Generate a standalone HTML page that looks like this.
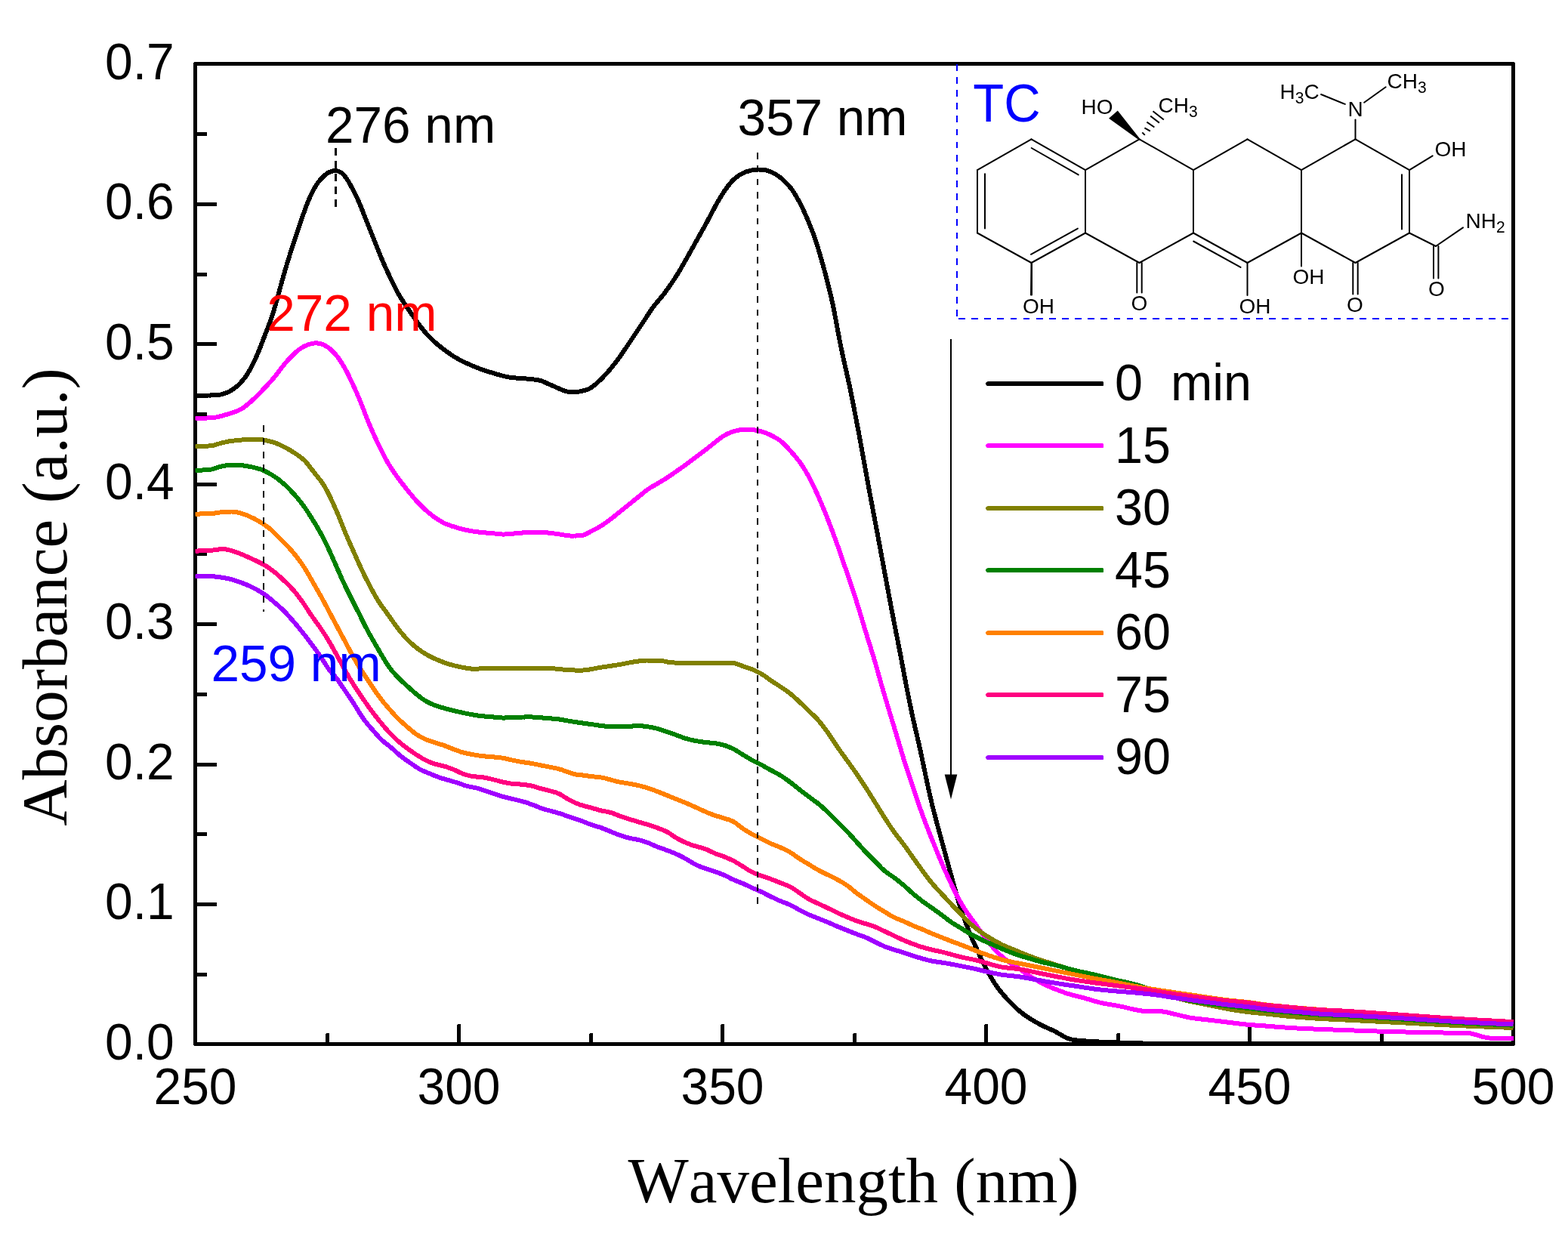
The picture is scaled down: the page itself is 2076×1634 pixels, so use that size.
<!DOCTYPE html>
<html lang="en"><head><meta charset="utf-8"><title>UV-vis absorbance spectra of TC</title>
<style>html,body{margin:0;padding:0;background:#fff}body{width:2076px;height:1634px;overflow:hidden}svg{display:block}text{font-family:'Liberation Sans', Arial, Helvetica, sans-serif;font-kerning:none}.serif{font-family:'Liberation Serif', 'Times New Roman', Times, serif}.t66{font-size:67px}.lab{font-size:28px}.sub{font-size:21px}</style>
</head><body>
<svg width="2076" height="1634" viewBox="0 0 2076 1634" role="img" aria-label="UV-vis absorbance spectra of TC degradation">
<rect x="0" y="0" width="2076" height="1634" fill="#ffffff"/>
<g id="axes" fill="#000" shape-rendering="crispEdges">
<rect x="258.5" y="84.5" width="1745" height="1298" fill="none" stroke="#000" stroke-width="5" stroke-linejoin="round"/>
<polygon points="258.5,1288 273,1288 274,1289 274,1292 273,1293 258.5,1293"/>
<polygon points="258.5,1195 286,1195 287,1196 287,1199 286,1200 258.5,1200"/>
<polygon points="258.5,1102 273,1102 274,1103 274,1106 273,1107 258.5,1107"/>
<polygon points="258.5,1010 286,1010 287,1011 287,1014 286,1015 258.5,1015"/>
<polygon points="258.5,917 273,917 274,918 274,921 273,922 258.5,922"/>
<polygon points="258.5,824 286,824 287,825 287,828 286,829 258.5,829"/>
<polygon points="258.5,731 273,731 274,732 274,735 273,736 258.5,736"/>
<polygon points="258.5,639 286,639 287,640 287,643 286,644 258.5,644"/>
<polygon points="258.5,546 273,546 274,547 274,550 273,551 258.5,551"/>
<polygon points="258.5,453 286,453 287,454 287,457 286,458 258.5,458"/>
<polygon points="258.5,361 273,361 274,362 274,365 273,366 258.5,366"/>
<polygon points="258.5,268 286,268 287,269 287,272 286,273 258.5,273"/>
<polygon points="258.5,175 273,175 274,176 274,179 273,180 258.5,180"/>
<polygon points="431,1382.5 431,1369 432,1368 435,1368 436,1369 436,1382.5"/>
<polygon points="605,1382.5 605,1357 606,1356 609,1356 610,1357 610,1382.5"/>
<polygon points="780,1382.5 780,1369 781,1368 784,1368 785,1369 785,1382.5"/>
<polygon points="954,1382.5 954,1357 955,1356 958,1356 959,1357 959,1382.5"/>
<polygon points="1129,1382.5 1129,1369 1130,1368 1133,1368 1134,1369 1134,1382.5"/>
<polygon points="1303,1382.5 1303,1357 1304,1356 1307,1356 1308,1357 1308,1382.5"/>
<polygon points="1478,1382.5 1478,1369 1479,1368 1482,1368 1483,1369 1483,1382.5"/>
<polygon points="1652,1382.5 1652,1357 1653,1356 1656,1356 1657,1357 1657,1382.5"/>
<polygon points="1827,1382.5 1827,1369 1828,1368 1831,1368 1832,1369 1832,1382.5"/>
</g>
<g id="ticklabels" class="t66" fill="#000">
<text transform="translate(230.70 1402.70) scale(1 1.045)" font-size="66" fill="#000" text-anchor="end">0.0</text>
<text transform="translate(230.70 1217.27) scale(1 1.045)" font-size="66" fill="#000" text-anchor="end">0.1</text>
<text transform="translate(230.70 1031.84) scale(1 1.045)" font-size="66" fill="#000" text-anchor="end">0.2</text>
<text transform="translate(230.70 846.41) scale(1 1.045)" font-size="66" fill="#000" text-anchor="end">0.3</text>
<text transform="translate(230.70 660.99) scale(1 1.045)" font-size="66" fill="#000" text-anchor="end">0.4</text>
<text transform="translate(230.70 475.56) scale(1 1.045)" font-size="66" fill="#000" text-anchor="end">0.5</text>
<text transform="translate(230.70 290.13) scale(1 1.045)" font-size="66" fill="#000" text-anchor="end">0.6</text>
<text transform="translate(230.70 104.70) scale(1 1.045)" font-size="66" fill="#000" text-anchor="end">0.7</text>
<text transform="translate(258.50 1462.00) scale(1 1.035)" font-size="66" fill="#000" text-anchor="middle">250</text>
<text transform="translate(607.50 1462.00) scale(1 1.035)" font-size="66" fill="#000" text-anchor="middle">300</text>
<text transform="translate(956.50 1462.00) scale(1 1.035)" font-size="66" fill="#000" text-anchor="middle">350</text>
<text transform="translate(1305.50 1462.00) scale(1 1.035)" font-size="66" fill="#000" text-anchor="middle">400</text>
<text transform="translate(1654.50 1462.00) scale(1 1.035)" font-size="66" fill="#000" text-anchor="middle">450</text>
<text transform="translate(2003.50 1462.00) scale(1 1.035)" font-size="66" fill="#000" text-anchor="middle">500</text>
</g>
<text class="serif" x="1130" y="1592" text-anchor="middle" font-size="85" fill="#000">Wavelength (nm)</text>
<text class="serif" transform="translate(88 790.5) rotate(-90)" text-anchor="middle" font-size="85" fill="#000">Absorbance (a.u.)</text>
<g id="curves" fill="none" stroke-linejoin="round" stroke-linecap="butt">
<path stroke="#000000" stroke-width="4.6" d="M258.5 523.7 L260.5 523.7 L262.5 523.7 L264.5 523.7 L266.5 523.7 L268.5 523.6 L270.5 523.6 L272.5 523.6 L274.5 523.6 L276.5 523.5 L278.5 523.5 L280.5 523.4 L282.5 523.4 L284.5 523.3 L286.5 523.2 L288.5 523.1 L290.5 522.8 L292.5 522.4 L294.5 521.9 L296.5 521.3 L298.5 520.6 L300.5 519.8 L302.5 519.0 L304.5 517.9 L306.5 516.8 L308.5 515.5 L310.5 514.0 L312.5 512.5 L314.5 510.8 L316.5 508.9 L318.5 506.9 L320.5 504.6 L322.5 502.2 L324.5 499.6 L326.5 496.7 L328.5 493.6 L330.5 490.2 L332.5 486.6 L334.5 482.7 L336.5 478.6 L338.5 474.4 L340.5 469.8 L342.5 465.0 L344.5 460.0 L346.5 454.9 L348.5 449.7 L350.5 444.5 L352.5 439.4 L354.5 434.2 L356.5 429.0 L358.5 423.6 L360.5 417.8 L362.5 411.4 L364.5 404.6 L366.5 397.3 L368.5 390.0 L370.5 382.7 L372.5 375.4 L374.5 368.2 L376.5 361.2 L378.5 354.4 L380.5 347.7 L382.5 341.2 L384.5 334.9 L386.5 328.7 L388.5 322.6 L390.5 316.6 L392.5 310.6 L394.5 304.5 L396.5 298.5 L398.5 292.7 L400.5 286.8 L402.5 281.1 L404.5 275.4 L406.5 270.1 L408.5 265.2 L410.5 260.6 L412.5 256.3 L414.5 252.3 L416.5 248.7 L418.5 245.5 L420.5 242.5 L422.5 239.9 L424.5 237.4 L426.5 235.3 L428.5 233.3 L430.5 231.6 L432.5 230.0 L434.5 228.7 L436.5 227.7 L438.5 227.0 L440.5 226.5 L442.5 226.2 L444.5 226.2 L446.5 226.4 L448.5 226.9 L450.5 227.8 L452.5 229.1 L454.5 231.0 L456.5 233.3 L458.5 236.0 L460.5 239.0 L462.5 242.3 L464.5 246.0 L466.5 249.7 L468.5 253.4 L470.5 257.4 L472.5 261.5 L474.5 265.8 L476.5 270.5 L478.5 275.4 L480.5 280.5 L482.5 285.7 L484.5 290.8 L486.5 295.8 L488.5 300.7 L490.5 305.7 L492.5 310.7 L494.5 315.7 L496.5 320.7 L498.5 325.8 L500.5 330.9 L502.5 335.8 L504.5 340.7 L506.5 345.3 L508.5 349.9 L510.5 354.4 L512.5 358.7 L514.5 363.0 L516.5 367.3 L518.5 371.5 L520.5 375.6 L522.5 379.7 L524.5 383.6 L526.5 387.4 L528.5 390.9 L530.5 394.3 L532.5 397.4 L534.5 400.4 L536.5 403.4 L538.5 406.3 L540.5 409.3 L542.5 412.2 L544.5 415.2 L546.5 418.1 L548.5 420.9 L550.5 423.7 L552.5 426.5 L554.5 429.2 L556.5 431.9 L558.5 434.5 L560.5 437.0 L562.5 439.5 L564.5 441.8 L566.5 443.9 L568.5 446.1 L570.5 448.1 L572.5 450.0 L574.5 451.9 L576.5 453.7 L578.5 455.5 L580.5 457.1 L582.5 458.7 L584.5 460.3 L586.5 461.8 L588.5 463.3 L590.5 464.8 L592.5 466.3 L594.5 467.7 L596.5 469.1 L598.5 470.5 L600.5 471.8 L602.5 473.0 L604.5 474.1 L606.5 475.3 L608.5 476.4 L610.5 477.4 L612.5 478.4 L614.5 479.4 L616.5 480.4 L618.5 481.3 L620.5 482.2 L622.5 483.1 L624.5 484.0 L626.5 484.8 L628.5 485.6 L630.5 486.4 L632.5 487.2 L634.5 488.0 L636.5 488.7 L638.5 489.4 L640.5 490.1 L642.5 490.8 L644.5 491.4 L646.5 492.1 L648.5 492.7 L650.5 493.3 L652.5 493.9 L654.5 494.5 L656.5 495.1 L658.5 495.7 L660.5 496.3 L662.5 496.8 L664.5 497.4 L666.5 497.9 L668.5 498.4 L670.5 498.8 L672.5 499.2 L674.5 499.6 L676.5 499.9 L678.5 500.1 L680.5 500.3 L682.5 500.5 L684.5 500.6 L686.5 500.8 L688.5 500.9 L690.5 501.0 L692.5 501.2 L694.5 501.3 L696.5 501.5 L698.5 501.6 L700.5 501.8 L702.5 502.0 L704.5 502.2 L706.5 502.4 L708.5 502.7 L710.5 503.0 L712.5 503.3 L714.5 503.7 L716.5 504.3 L718.5 505.0 L720.5 505.8 L722.5 506.7 L724.5 507.7 L726.5 508.6 L728.5 509.4 L730.5 510.3 L732.5 511.2 L734.5 512.1 L736.5 513.0 L738.5 513.9 L740.5 514.7 L742.5 515.6 L744.5 516.4 L746.5 517.2 L748.5 517.9 L750.5 518.4 L752.5 518.7 L754.5 518.9 L756.5 519.0 L758.5 519.1 L760.5 519.1 L762.5 519.1 L764.5 518.9 L766.5 518.6 L768.5 518.1 L770.5 517.7 L772.5 517.2 L774.5 516.7 L776.5 516.1 L778.5 515.4 L780.5 514.5 L782.5 513.4 L784.5 512.0 L786.5 510.5 L788.5 508.8 L790.5 507.0 L792.5 505.2 L794.5 503.3 L796.5 501.3 L798.5 499.3 L800.5 497.2 L802.5 495.0 L804.5 492.8 L806.5 490.5 L808.5 488.1 L810.5 485.7 L812.5 483.2 L814.5 480.7 L816.5 478.0 L818.5 475.3 L820.5 472.6 L822.5 469.7 L824.5 466.8 L826.5 463.9 L828.5 461.0 L830.5 458.1 L832.5 455.1 L834.5 452.1 L836.5 449.1 L838.5 446.1 L840.5 443.1 L842.5 440.1 L844.5 437.1 L846.5 434.1 L848.5 431.1 L850.5 428.1 L852.5 425.0 L854.5 422.0 L856.5 418.9 L858.5 415.9 L860.5 412.9 L862.5 409.9 L864.5 407.1 L866.5 404.4 L868.5 401.9 L870.5 399.5 L872.5 397.2 L874.5 394.8 L876.5 392.4 L878.5 389.9 L880.5 387.2 L882.5 384.5 L884.5 381.8 L886.5 378.9 L888.5 376.0 L890.5 373.1 L892.5 370.0 L894.5 366.9 L896.5 363.7 L898.5 360.5 L900.5 357.1 L902.5 353.7 L904.5 350.2 L906.5 346.7 L908.5 343.2 L910.5 339.6 L912.5 336.0 L914.5 332.5 L916.5 328.9 L918.5 325.3 L920.5 321.7 L922.5 318.1 L924.5 314.5 L926.5 311.0 L928.5 307.5 L930.5 303.9 L932.5 300.3 L934.5 296.7 L936.5 292.9 L938.5 289.2 L940.5 285.4 L942.5 281.6 L944.5 277.9 L946.5 274.1 L948.5 270.4 L950.5 266.8 L952.5 263.4 L954.5 260.1 L956.5 257.0 L958.5 253.9 L960.5 251.0 L962.5 248.2 L964.5 245.5 L966.5 243.0 L968.5 240.7 L970.5 238.7 L972.5 236.8 L974.5 235.1 L976.5 233.6 L978.5 232.2 L980.5 231.0 L982.5 229.9 L984.5 228.9 L986.5 228.0 L988.5 227.3 L990.5 226.7 L992.5 226.1 L994.5 225.6 L996.5 225.2 L998.5 225.0 L1000.5 224.7 L1002.5 224.6 L1004.5 224.5 L1006.5 224.5 L1008.5 224.6 L1010.5 224.7 L1012.5 225.0 L1014.5 225.4 L1016.5 226.0 L1018.5 226.8 L1020.5 227.6 L1022.5 228.6 L1024.5 229.6 L1026.5 230.6 L1028.5 231.8 L1030.5 233.1 L1032.5 234.5 L1034.5 236.2 L1036.5 238.0 L1038.5 240.0 L1040.5 242.0 L1042.5 244.0 L1044.5 246.1 L1046.5 248.4 L1048.5 251.0 L1050.5 253.9 L1052.5 257.2 L1054.5 260.6 L1056.5 264.0 L1058.5 267.6 L1060.5 271.5 L1062.5 275.6 L1064.5 279.9 L1066.5 284.4 L1068.5 289.0 L1070.5 293.8 L1072.5 298.6 L1074.5 303.6 L1076.5 308.8 L1078.5 314.3 L1080.5 320.2 L1082.5 326.6 L1084.5 333.3 L1086.5 340.1 L1088.5 347.1 L1090.5 354.3 L1092.5 361.7 L1094.5 369.4 L1096.5 377.3 L1098.5 385.4 L1100.5 393.7 L1102.5 402.6 L1104.5 412.4 L1106.5 423.1 L1108.5 434.0 L1110.5 444.6 L1112.5 454.8 L1114.5 464.7 L1116.5 474.1 L1118.5 483.1 L1120.5 491.7 L1122.5 500.5 L1124.5 509.7 L1126.5 519.4 L1128.5 529.5 L1130.5 539.7 L1132.5 549.9 L1134.5 560.2 L1136.5 570.7 L1138.5 581.3 L1140.5 592.2 L1142.5 603.4 L1144.5 614.6 L1146.5 625.7 L1148.5 636.6 L1150.5 647.4 L1152.5 658.0 L1154.5 668.7 L1156.5 679.2 L1158.5 689.8 L1160.5 700.3 L1162.5 711.0 L1164.5 721.7 L1166.5 732.4 L1168.5 743.1 L1170.5 753.8 L1172.5 764.5 L1174.5 775.2 L1176.5 785.9 L1178.5 796.6 L1180.5 807.2 L1182.5 817.7 L1184.5 828.0 L1186.5 838.1 L1188.5 848.1 L1190.5 858.2 L1192.5 868.6 L1194.5 879.3 L1196.5 890.0 L1198.5 900.6 L1200.5 910.9 L1202.5 921.0 L1204.5 930.9 L1206.5 940.5 L1208.5 949.9 L1210.5 958.8 L1212.5 967.4 L1214.5 976.0 L1216.5 984.7 L1218.5 993.7 L1220.5 1003.0 L1222.5 1012.5 L1224.5 1022.0 L1226.5 1031.5 L1228.5 1040.9 L1230.5 1050.1 L1232.5 1058.8 L1234.5 1067.1 L1236.5 1075.0 L1238.5 1082.7 L1240.5 1090.2 L1242.5 1097.7 L1244.5 1105.0 L1246.5 1112.3 L1248.5 1119.7 L1250.5 1127.0 L1252.5 1134.4 L1254.5 1141.7 L1256.5 1149.0 L1258.5 1156.2 L1260.5 1163.4 L1262.5 1170.6 L1264.5 1177.8 L1266.5 1184.9 L1268.5 1191.8 L1270.5 1198.3 L1272.5 1204.4 L1274.5 1210.2 L1276.5 1215.8 L1278.5 1221.4 L1280.5 1226.8 L1282.5 1232.1 L1284.5 1237.1 L1286.5 1241.8 L1288.5 1246.4 L1290.5 1250.8 L1292.5 1255.1 L1294.5 1259.4 L1296.5 1263.8 L1298.5 1268.2 L1300.5 1272.5 L1302.5 1276.7 L1304.5 1280.6 L1306.5 1284.4 L1308.5 1288.0 L1310.5 1291.5 L1312.5 1294.9 L1314.5 1298.2 L1316.5 1301.4 L1318.5 1304.4 L1320.5 1307.3 L1322.5 1310.0 L1324.5 1312.5 L1326.5 1315.0 L1328.5 1317.3 L1330.5 1319.6 L1332.5 1321.8 L1334.5 1323.9 L1336.5 1326.0 L1338.5 1328.1 L1340.5 1330.2 L1342.5 1332.1 L1344.5 1334.0 L1346.5 1335.9 L1348.5 1337.6 L1350.5 1339.3 L1352.5 1340.9 L1354.5 1342.5 L1356.5 1344.0 L1358.5 1345.4 L1360.5 1346.7 L1362.5 1348.1 L1364.5 1349.3 L1366.5 1350.6 L1368.5 1351.8 L1370.5 1352.9 L1372.5 1354.0 L1374.5 1355.1 L1376.5 1356.2 L1378.5 1357.3 L1380.5 1358.3 L1382.5 1359.3 L1384.5 1360.2 L1386.5 1361.1 L1388.5 1362.0 L1390.5 1362.8 L1392.5 1363.7 L1394.5 1364.6 L1396.5 1365.6 L1398.5 1366.7 L1400.5 1367.8 L1402.5 1369.0 L1404.5 1370.2 L1406.5 1371.3 L1408.5 1372.4 L1410.5 1373.5 L1412.5 1374.5 L1414.5 1375.3 L1416.5 1376.0 L1418.5 1376.4 L1420.5 1376.8 L1422.5 1377.1 L1424.5 1377.3 L1426.5 1377.6 L1428.5 1377.8 L1430.5 1378.0 L1432.5 1378.1 L1434.5 1378.3 L1436.5 1378.4 L1438.5 1378.6 L1440.5 1378.7 L1442.5 1378.8 L1444.5 1379.0 L1446.5 1379.1 L1448.5 1379.2 L1450.5 1379.3 L1452.5 1379.4 L1454.5 1379.5 L1456.5 1379.6 L1458.5 1379.6 L1460.5 1379.7 L1462.5 1379.8 L1464.5 1379.9 L1466.5 1380.0 L1468.5 1380.0 L1470.5 1380.1 L1472.5 1380.2 L1474.5 1380.3 L1476.5 1380.3 L1478.5 1380.4 L1480.5 1380.5 L1482.5 1380.6 L1484.5 1380.7 L1486.5 1380.8 L1488.5 1380.9 L1490.5 1381.0 L1492.5 1381.1 L1494.5 1381.1 L1496.5 1381.2 L1498.5 1381.2 L1500.5 1381.3 L1502.5 1381.3 L1504.5 1381.3 L1506.5 1381.4 L1508.5 1381.4 L1510.5 1381.4 L1512.5 1381.5 L1514.5 1381.5 L1516.5 1381.5 L1518.5 1381.5 L1520.5 1381.5 L1522.5 1381.6 L1524.5 1381.6 L1526.5 1381.6 L1528.5 1381.6 L1530.5 1381.6 L1532.5 1381.7 L1534.5 1381.7 L1536.5 1381.7 L1538.5 1381.7 L1540.5 1381.7 L1542.5 1381.7 L1544.5 1381.8 L1546.5 1381.8 L1548.5 1381.8 L1550.5 1381.8 L1552.5 1381.8 L1554.5 1381.8 L1556.5 1381.8 L1558.5 1381.9 L1560.5 1381.9 L1562.5 1381.9 L1564.5 1381.9 L1566.5 1381.9 L1568.5 1381.9 L1570.5 1381.9 L1572.5 1381.9 L1574.5 1381.9 L1576.5 1381.9 L1578.5 1381.9 L1580.5 1382.0 L1582.5 1382.0 L1584.5 1382.0 L1586.5 1382.0 L1588.5 1382.0 L1590.5 1382.0 L1592.5 1382.0 L1594.5 1382.0 L1596.5 1382.0 L1598.5 1382.0 L1600.5 1382.0 L1602.5 1382.0 L1604.5 1382.0 L1606.5 1382.0 L1608.5 1382.0 L1610.5 1382.0 L1612.5 1382.0 L1614.5 1382.0 L1616.5 1382.0 L1618.5 1382.0 L1620.5 1382.0 L1622.5 1382.0 L1624.5 1382.0 L1626.5 1382.0 L1628.5 1382.0 L1630.5 1382.0 L1632.5 1382.0 L1634.5 1382.1 L1636.5 1382.1 L1638.5 1382.1 L1640.5 1382.1 L1642.5 1382.1 L1644.5 1382.1 L1646.5 1382.1 L1648.5 1382.1 L1650.5 1382.1 L1652.5 1382.1 L1654.5 1382.1 L1656.5 1382.1 L1658.5 1382.1 L1660.5 1382.1 L1662.5 1382.1 L1664.5 1382.1 L1666.5 1382.1 L1668.5 1382.1 L1670.5 1382.1 L1672.5 1382.1 L1674.5 1382.1 L1676.5 1382.1 L1678.5 1382.1 L1680.5 1382.1 L1682.5 1382.1 L1684.5 1382.1 L1686.5 1382.1 L1688.5 1382.1 L1690.5 1382.1 L1692.5 1382.1 L1694.5 1382.1 L1696.5 1382.1 L1698.5 1382.1 L1700.5 1382.1 L1702.5 1382.1 L1704.5 1382.1 L1706.5 1382.1 L1708.5 1382.1 L1710.5 1382.1 L1712.5 1382.2 L1714.5 1382.2 L1716.5 1382.2 L1718.5 1382.2 L1720.5 1382.2 L1722.5 1382.2 L1724.5 1382.2 L1726.5 1382.2 L1728.5 1382.2 L1730.5 1382.2 L1732.5 1382.2 L1734.5 1382.2 L1736.5 1382.2 L1738.5 1382.2 L1740.5 1382.2 L1742.5 1382.2 L1744.5 1382.2 L1746.5 1382.2 L1748.5 1382.2 L1750.5 1382.2 L1752.5 1382.2 L1754.5 1382.2 L1756.5 1382.2 L1758.5 1382.2 L1760.5 1382.2 L1762.5 1382.2 L1764.5 1382.2 L1766.5 1382.2 L1768.5 1382.2 L1770.5 1382.2 L1772.5 1382.2 L1774.5 1382.2 L1776.5 1382.2 L1778.5 1382.2 L1780.5 1382.2 L1782.5 1382.2 L1784.5 1382.2 L1786.5 1382.2 L1788.5 1382.2 L1790.5 1382.2 L1792.5 1382.2 L1794.5 1382.2 L1796.5 1382.2 L1798.5 1382.2 L1800.5 1382.2 L1802.5 1382.2 L1804.5 1382.2 L1806.5 1382.2 L1808.5 1382.2 L1810.5 1382.2 L1812.5 1382.2 L1814.5 1382.2 L1816.5 1382.2 L1818.5 1382.2 L1820.5 1382.2 L1822.5 1382.2 L1824.5 1382.2 L1826.5 1382.2 L1828.5 1382.2 L1830.5 1382.2 L1832.5 1382.3 L1834.5 1382.3 L1836.5 1382.3 L1838.5 1382.3 L1840.5 1382.3 L1842.5 1382.3 L1844.5 1382.3 L1846.5 1382.3 L1848.5 1382.3 L1850.5 1382.3 L1852.5 1382.3 L1854.5 1382.3 L1856.5 1382.3 L1858.5 1382.3 L1860.5 1382.3 L1862.5 1382.3 L1864.5 1382.3 L1866.5 1382.3 L1868.5 1382.3 L1870.5 1382.3 L1872.5 1382.3 L1874.5 1382.3 L1876.5 1382.3 L1878.5 1382.3 L1880.5 1382.3 L1882.5 1382.3 L1884.5 1382.3 L1886.5 1382.3 L1888.5 1382.3 L1890.5 1382.3 L1892.5 1382.3 L1894.5 1382.3 L1896.5 1382.3 L1898.5 1382.3 L1900.5 1382.3 L1902.5 1382.3 L1904.5 1382.3 L1906.5 1382.3 L1908.5 1382.3 L1910.5 1382.3 L1912.5 1382.3 L1914.5 1382.3 L1916.5 1382.3 L1918.5 1382.3 L1920.5 1382.3 L1922.5 1382.3 L1924.5 1382.3 L1926.5 1382.3 L1928.5 1382.3 L1930.5 1382.3 L1932.5 1382.3 L1934.5 1382.3 L1936.5 1382.3 L1938.5 1382.3 L1940.5 1382.3 L1942.5 1382.3 L1944.5 1382.3 L1946.5 1382.3 L1948.5 1382.3 L1950.5 1382.3 L1952.5 1382.3 L1954.5 1382.3 L1956.5 1382.3 L1958.5 1382.3 L1960.5 1382.3 L1962.5 1382.3 L1964.5 1382.3 L1966.5 1382.3 L1968.5 1382.3 L1970.5 1382.3 L1972.5 1382.3 L1974.5 1382.3 L1976.5 1382.3 L1978.5 1382.3 L1980.5 1382.3 L1982.5 1382.3 L1984.5 1382.3 L1986.5 1382.3 L1988.5 1382.3 L1990.5 1382.3 L1992.5 1382.3 L1994.5 1382.3 L1996.5 1382.3 L1998.5 1382.3 L2000.5 1382.3 L2002.5 1382.3 L2003.5 1382.3"/>
<path stroke="#000000" stroke-width="6" shape-rendering="crispEdges" d="M258.5 523.7 L260.5 523.7 L262.5 523.7 L264.5 523.7 L266.5 523.7 L268.5 523.6 L270.5 523.6 L272.5 523.6 L274.5 523.6 L276.5 523.5 L278.5 523.5 L280.5 523.4 L282.5 523.4 L284.5 523.3 L286.5 523.2 L288.5 523.1 L290.5 522.8 L292.5 522.4 L294.5 521.9 L296.5 521.3 L298.5 520.6 L300.5 519.8 L302.5 519.0 L304.5 517.9 L306.5 516.8 L308.5 515.5 L310.5 514.0 L312.5 512.5 L314.5 510.8 L316.5 508.9 L318.5 506.9 L320.5 504.6 L322.5 502.2 L324.5 499.6 L326.5 496.7 L328.5 493.6 L330.5 490.2 L332.5 486.6 L334.5 482.7 L336.5 478.6 L338.5 474.4 L340.5 469.8 L342.5 465.0 L344.5 460.0 L346.5 454.9 L348.5 449.7 L350.5 444.5 L352.5 439.4 L354.5 434.2 L356.5 429.0 L358.5 423.6 L360.5 417.8 L362.5 411.4 L364.5 404.6 L366.5 397.3 L368.5 390.0 L370.5 382.7 L372.5 375.4 L374.5 368.2 L376.5 361.2 L378.5 354.4 L380.5 347.7 L382.5 341.2 L384.5 334.9 L386.5 328.7 L388.5 322.6 L390.5 316.6 L392.5 310.6 L394.5 304.5 L396.5 298.5 L398.5 292.7 L400.5 286.8 L402.5 281.1 L404.5 275.4 L406.5 270.1 L408.5 265.2 L410.5 260.6 L412.5 256.3 L414.5 252.3 L416.5 248.7 L418.5 245.5 L420.5 242.5 L422.5 239.9 L424.5 237.4 L426.5 235.3 L428.5 233.3 L430.5 231.6 L432.5 230.0 L434.5 228.7 L436.5 227.7 L438.5 227.0 L440.5 226.5 L442.5 226.2 L444.5 226.2 L446.5 226.4 L448.5 226.9 L450.5 227.8 L452.5 229.1 L454.5 231.0 L456.5 233.3 L458.5 236.0 L460.5 239.0 L462.5 242.3 L464.5 246.0 L466.5 249.7 L468.5 253.4 L470.5 257.4 L472.5 261.5 L474.5 265.8 L476.5 270.5 L478.5 275.4 L480.5 280.5 L482.5 285.7 L484.5 290.8 L486.5 295.8 L488.5 300.7 L490.5 305.7 L492.5 310.7 L494.5 315.7 L496.5 320.7 L498.5 325.8 L500.5 330.9 L502.5 335.8 L504.5 340.7 L506.5 345.3 L508.5 349.9 L510.5 354.4 L512.5 358.7 L514.5 363.0 L516.5 367.3 L518.5 371.5 L520.5 375.6 L522.5 379.7 L524.5 383.6 L526.5 387.4 L528.5 390.9 L530.5 394.3 L532.5 397.4 L534.5 400.4 L536.5 403.4 L538.5 406.3 L540.5 409.3 L542.5 412.2 L544.5 415.2 L546.5 418.1 L548.5 420.9 L550.5 423.7 L552.5 426.5 L554.5 429.2 L556.5 431.9 L558.5 434.5 L560.5 437.0 L562.5 439.5 L564.5 441.8 L566.5 443.9 L568.5 446.1 L570.5 448.1 L572.5 450.0 L574.5 451.9 L576.5 453.7 L578.5 455.5 L580.5 457.1 L582.5 458.7 L584.5 460.3 L586.5 461.8 L588.5 463.3 L590.5 464.8 L592.5 466.3 L594.5 467.7 L596.5 469.1 L598.5 470.5 L600.5 471.8 L602.5 473.0 L604.5 474.1 L606.5 475.3 L608.5 476.4 L610.5 477.4 L612.5 478.4 L614.5 479.4 L616.5 480.4 L618.5 481.3 L620.5 482.2 L622.5 483.1 L624.5 484.0 L626.5 484.8 L628.5 485.6 L630.5 486.4 L632.5 487.2 L634.5 488.0 L636.5 488.7 L638.5 489.4 L640.5 490.1 L642.5 490.8 L644.5 491.4 L646.5 492.1 L648.5 492.7 L650.5 493.3 L652.5 493.9 L654.5 494.5 L656.5 495.1 L658.5 495.7 L660.5 496.3 L662.5 496.8 L664.5 497.4 L666.5 497.9 L668.5 498.4 L670.5 498.8 L672.5 499.2 L674.5 499.6 L676.5 499.9 L678.5 500.1 L680.5 500.3 L682.5 500.5 L684.5 500.6 L686.5 500.8 L688.5 500.9 L690.5 501.0 L692.5 501.2 L694.5 501.3 L696.5 501.5 L698.5 501.6 L700.5 501.8 L702.5 502.0 L704.5 502.2 L706.5 502.4 L708.5 502.7 L710.5 503.0 L712.5 503.3 L714.5 503.7 L716.5 504.3 L718.5 505.0 L720.5 505.8 L722.5 506.7 L724.5 507.7 L726.5 508.6 L728.5 509.4 L730.5 510.3 L732.5 511.2 L734.5 512.1 L736.5 513.0 L738.5 513.9 L740.5 514.7 L742.5 515.6 L744.5 516.4 L746.5 517.2 L748.5 517.9 L750.5 518.4 L752.5 518.7 L754.5 518.9 L756.5 519.0 L758.5 519.1 L760.5 519.1 L762.5 519.1 L764.5 518.9 L766.5 518.6 L768.5 518.1 L770.5 517.7 L772.5 517.2 L774.5 516.7 L776.5 516.1 L778.5 515.4 L780.5 514.5 L782.5 513.4 L784.5 512.0 L786.5 510.5 L788.5 508.8 L790.5 507.0 L792.5 505.2 L794.5 503.3 L796.5 501.3 L798.5 499.3 L800.5 497.2 L802.5 495.0 L804.5 492.8 L806.5 490.5 L808.5 488.1 L810.5 485.7 L812.5 483.2 L814.5 480.7 L816.5 478.0 L818.5 475.3 L820.5 472.6 L822.5 469.7 L824.5 466.8 L826.5 463.9 L828.5 461.0 L830.5 458.1 L832.5 455.1 L834.5 452.1 L836.5 449.1 L838.5 446.1 L840.5 443.1 L842.5 440.1 L844.5 437.1 L846.5 434.1 L848.5 431.1 L850.5 428.1 L852.5 425.0 L854.5 422.0 L856.5 418.9 L858.5 415.9 L860.5 412.9 L862.5 409.9 L864.5 407.1 L866.5 404.4 L868.5 401.9 L870.5 399.5 L872.5 397.2 L874.5 394.8 L876.5 392.4 L878.5 389.9 L880.5 387.2 L882.5 384.5 L884.5 381.8 L886.5 378.9 L888.5 376.0 L890.5 373.1 L892.5 370.0 L894.5 366.9 L896.5 363.7 L898.5 360.5 L900.5 357.1 L902.5 353.7 L904.5 350.2 L906.5 346.7 L908.5 343.2 L910.5 339.6 L912.5 336.0 L914.5 332.5 L916.5 328.9 L918.5 325.3 L920.5 321.7 L922.5 318.1 L924.5 314.5 L926.5 311.0 L928.5 307.5 L930.5 303.9 L932.5 300.3 L934.5 296.7 L936.5 292.9 L938.5 289.2 L940.5 285.4 L942.5 281.6 L944.5 277.9 L946.5 274.1 L948.5 270.4 L950.5 266.8 L952.5 263.4 L954.5 260.1 L956.5 257.0 L958.5 253.9 L960.5 251.0 L962.5 248.2 L964.5 245.5 L966.5 243.0 L968.5 240.7 L970.5 238.7 L972.5 236.8 L974.5 235.1 L976.5 233.6 L978.5 232.2 L980.5 231.0 L982.5 229.9 L984.5 228.9 L986.5 228.0 L988.5 227.3 L990.5 226.7 L992.5 226.1 L994.5 225.6 L996.5 225.2 L998.5 225.0 L1000.5 224.7 L1002.5 224.6 L1004.5 224.5 L1006.5 224.5 L1008.5 224.6 L1010.5 224.7 L1012.5 225.0 L1014.5 225.4 L1016.5 226.0 L1018.5 226.8 L1020.5 227.6 L1022.5 228.6 L1024.5 229.6 L1026.5 230.6 L1028.5 231.8 L1030.5 233.1 L1032.5 234.5 L1034.5 236.2 L1036.5 238.0 L1038.5 240.0 L1040.5 242.0 L1042.5 244.0 L1044.5 246.1 L1046.5 248.4 L1048.5 251.0 L1050.5 253.9 L1052.5 257.2 L1054.5 260.6 L1056.5 264.0 L1058.5 267.6 L1060.5 271.5 L1062.5 275.6 L1064.5 279.9 L1066.5 284.4 L1068.5 289.0 L1070.5 293.8 L1072.5 298.6 L1074.5 303.6 L1076.5 308.8 L1078.5 314.3 L1080.5 320.2 L1082.5 326.6 L1084.5 333.3 L1086.5 340.1 L1088.5 347.1 L1090.5 354.3 L1092.5 361.7 L1094.5 369.4 L1096.5 377.3 L1098.5 385.4 L1100.5 393.7 L1102.5 402.6 L1104.5 412.4 L1106.5 423.1 L1108.5 434.0 L1110.5 444.6 L1112.5 454.8 L1114.5 464.7 L1116.5 474.1 L1118.5 483.1 L1120.5 491.7 L1122.5 500.5 L1124.5 509.7 L1126.5 519.4 L1128.5 529.5 L1130.5 539.7 L1132.5 549.9 L1134.5 560.2 L1136.5 570.7 L1138.5 581.3 L1140.5 592.2 L1142.5 603.4 L1144.5 614.6 L1146.5 625.7 L1148.5 636.6 L1150.5 647.4 L1152.5 658.0 L1154.5 668.7 L1156.5 679.2 L1158.5 689.8 L1160.5 700.3 L1162.5 711.0 L1164.5 721.7 L1166.5 732.4 L1168.5 743.1 L1170.5 753.8 L1172.5 764.5 L1174.5 775.2 L1176.5 785.9 L1178.5 796.6 L1180.5 807.2 L1182.5 817.7 L1184.5 828.0 L1186.5 838.1 L1188.5 848.1 L1190.5 858.2 L1192.5 868.6 L1194.5 879.3 L1196.5 890.0 L1198.5 900.6 L1200.5 910.9 L1202.5 921.0 L1204.5 930.9 L1206.5 940.5 L1208.5 949.9 L1210.5 958.8 L1212.5 967.4 L1214.5 976.0 L1216.5 984.7 L1218.5 993.7 L1220.5 1003.0 L1222.5 1012.5 L1224.5 1022.0 L1226.5 1031.5 L1228.5 1040.9 L1230.5 1050.1 L1232.5 1058.8 L1234.5 1067.1 L1236.5 1075.0 L1238.5 1082.7 L1240.5 1090.2 L1242.5 1097.7 L1244.5 1105.0 L1246.5 1112.3 L1248.5 1119.7 L1250.5 1127.0 L1252.5 1134.4 L1254.5 1141.7 L1256.5 1149.0 L1258.5 1156.2 L1260.5 1163.4 L1262.5 1170.6 L1264.5 1177.8 L1266.5 1184.9 L1268.5 1191.8 L1270.5 1198.3 L1272.5 1204.4 L1274.5 1210.2 L1276.5 1215.8 L1278.5 1221.4 L1280.5 1226.8 L1282.5 1232.1 L1284.5 1237.1 L1286.5 1241.8 L1288.5 1246.4 L1290.5 1250.8 L1292.5 1255.1 L1294.5 1259.4 L1296.5 1263.8 L1298.5 1268.2 L1300.5 1272.5 L1302.5 1276.7 L1304.5 1280.6 L1306.5 1284.4 L1308.5 1288.0 L1310.5 1291.5 L1312.5 1294.9 L1314.5 1298.2 L1316.5 1301.4 L1318.5 1304.4 L1320.5 1307.3 L1322.5 1310.0 L1324.5 1312.5 L1326.5 1315.0 L1328.5 1317.3 L1330.5 1319.6 L1332.5 1321.8 L1334.5 1323.9 L1336.5 1326.0 L1338.5 1328.1 L1340.5 1330.2 L1342.5 1332.1 L1344.5 1334.0 L1346.5 1335.9 L1348.5 1337.6 L1350.5 1339.3 L1352.5 1340.9 L1354.5 1342.5 L1356.5 1344.0 L1358.5 1345.4 L1360.5 1346.7 L1362.5 1348.1 L1364.5 1349.3 L1366.5 1350.6 L1368.5 1351.8 L1370.5 1352.9 L1372.5 1354.0 L1374.5 1355.1 L1376.5 1356.2 L1378.5 1357.3 L1380.5 1358.3 L1382.5 1359.3 L1384.5 1360.2 L1386.5 1361.1 L1388.5 1362.0 L1390.5 1362.8 L1392.5 1363.7 L1394.5 1364.6 L1396.5 1365.6 L1398.5 1366.7 L1400.5 1367.8 L1402.5 1369.0 L1404.5 1370.2 L1406.5 1371.3 L1408.5 1372.4 L1410.5 1373.5 L1412.5 1374.5 L1414.5 1375.3 L1416.5 1376.0 L1418.5 1376.4 L1420.5 1376.8 L1422.5 1377.1 L1424.5 1377.3 L1426.5 1377.6 L1428.5 1377.8 L1430.5 1378.0 L1432.5 1378.1 L1434.5 1378.3 L1436.5 1378.4 L1438.5 1378.6 L1440.5 1378.7 L1442.5 1378.8 L1444.5 1379.0 L1446.5 1379.1 L1448.5 1379.2 L1450.5 1379.3 L1452.5 1379.4 L1454.5 1379.5 L1456.5 1379.6 L1458.5 1379.6 L1460.5 1379.7 L1462.5 1379.8 L1464.5 1379.9 L1466.5 1380.0 L1468.5 1380.0 L1470.5 1380.1 L1472.5 1380.2 L1474.5 1380.3 L1476.5 1380.3 L1478.5 1380.4 L1480.5 1380.5 L1482.5 1380.6 L1484.5 1380.7 L1486.5 1380.8 L1488.5 1380.9 L1490.5 1381.0 L1492.5 1381.1 L1494.5 1381.1 L1496.5 1381.2 L1498.5 1381.2 L1500.5 1381.3 L1502.5 1381.3 L1504.5 1381.3 L1506.5 1381.4 L1508.5 1381.4 L1510.5 1381.4 L1512.5 1381.5 L1514.5 1381.5 L1516.5 1381.5 L1518.5 1381.5 L1520.5 1381.5 L1522.5 1381.6 L1524.5 1381.6 L1526.5 1381.6 L1528.5 1381.6 L1530.5 1381.6 L1532.5 1381.7 L1534.5 1381.7 L1536.5 1381.7 L1538.5 1381.7 L1540.5 1381.7 L1542.5 1381.7 L1544.5 1381.8 L1546.5 1381.8 L1548.5 1381.8 L1550.5 1381.8 L1552.5 1381.8 L1554.5 1381.8 L1556.5 1381.8 L1558.5 1381.9 L1560.5 1381.9 L1562.5 1381.9 L1564.5 1381.9 L1566.5 1381.9 L1568.5 1381.9 L1570.5 1381.9 L1572.5 1381.9 L1574.5 1381.9 L1576.5 1381.9 L1578.5 1381.9 L1580.5 1382.0 L1582.5 1382.0 L1584.5 1382.0 L1586.5 1382.0 L1588.5 1382.0 L1590.5 1382.0 L1592.5 1382.0 L1594.5 1382.0 L1596.5 1382.0 L1598.5 1382.0 L1600.5 1382.0 L1602.5 1382.0 L1604.5 1382.0 L1606.5 1382.0 L1608.5 1382.0 L1610.5 1382.0 L1612.5 1382.0 L1614.5 1382.0 L1616.5 1382.0 L1618.5 1382.0 L1620.5 1382.0 L1622.5 1382.0 L1624.5 1382.0 L1626.5 1382.0 L1628.5 1382.0 L1630.5 1382.0 L1632.5 1382.0 L1634.5 1382.1 L1636.5 1382.1 L1638.5 1382.1 L1640.5 1382.1 L1642.5 1382.1 L1644.5 1382.1 L1646.5 1382.1 L1648.5 1382.1 L1650.5 1382.1 L1652.5 1382.1 L1654.5 1382.1 L1656.5 1382.1 L1658.5 1382.1 L1660.5 1382.1 L1662.5 1382.1 L1664.5 1382.1 L1666.5 1382.1 L1668.5 1382.1 L1670.5 1382.1 L1672.5 1382.1 L1674.5 1382.1 L1676.5 1382.1 L1678.5 1382.1 L1680.5 1382.1 L1682.5 1382.1 L1684.5 1382.1 L1686.5 1382.1 L1688.5 1382.1 L1690.5 1382.1 L1692.5 1382.1 L1694.5 1382.1 L1696.5 1382.1 L1698.5 1382.1 L1700.5 1382.1 L1702.5 1382.1 L1704.5 1382.1 L1706.5 1382.1 L1708.5 1382.1 L1710.5 1382.1 L1712.5 1382.2 L1714.5 1382.2 L1716.5 1382.2 L1718.5 1382.2 L1720.5 1382.2 L1722.5 1382.2 L1724.5 1382.2 L1726.5 1382.2 L1728.5 1382.2 L1730.5 1382.2 L1732.5 1382.2 L1734.5 1382.2 L1736.5 1382.2 L1738.5 1382.2 L1740.5 1382.2 L1742.5 1382.2 L1744.5 1382.2 L1746.5 1382.2 L1748.5 1382.2 L1750.5 1382.2 L1752.5 1382.2 L1754.5 1382.2 L1756.5 1382.2 L1758.5 1382.2 L1760.5 1382.2 L1762.5 1382.2 L1764.5 1382.2 L1766.5 1382.2 L1768.5 1382.2 L1770.5 1382.2 L1772.5 1382.2 L1774.5 1382.2 L1776.5 1382.2 L1778.5 1382.2 L1780.5 1382.2 L1782.5 1382.2 L1784.5 1382.2 L1786.5 1382.2 L1788.5 1382.2 L1790.5 1382.2 L1792.5 1382.2 L1794.5 1382.2 L1796.5 1382.2 L1798.5 1382.2 L1800.5 1382.2 L1802.5 1382.2 L1804.5 1382.2 L1806.5 1382.2 L1808.5 1382.2 L1810.5 1382.2 L1812.5 1382.2 L1814.5 1382.2 L1816.5 1382.2 L1818.5 1382.2 L1820.5 1382.2 L1822.5 1382.2 L1824.5 1382.2 L1826.5 1382.2 L1828.5 1382.2 L1830.5 1382.2 L1832.5 1382.3 L1834.5 1382.3 L1836.5 1382.3 L1838.5 1382.3 L1840.5 1382.3 L1842.5 1382.3 L1844.5 1382.3 L1846.5 1382.3 L1848.5 1382.3 L1850.5 1382.3 L1852.5 1382.3 L1854.5 1382.3 L1856.5 1382.3 L1858.5 1382.3 L1860.5 1382.3 L1862.5 1382.3 L1864.5 1382.3 L1866.5 1382.3 L1868.5 1382.3 L1870.5 1382.3 L1872.5 1382.3 L1874.5 1382.3 L1876.5 1382.3 L1878.5 1382.3 L1880.5 1382.3 L1882.5 1382.3 L1884.5 1382.3 L1886.5 1382.3 L1888.5 1382.3 L1890.5 1382.3 L1892.5 1382.3 L1894.5 1382.3 L1896.5 1382.3 L1898.5 1382.3 L1900.5 1382.3 L1902.5 1382.3 L1904.5 1382.3 L1906.5 1382.3 L1908.5 1382.3 L1910.5 1382.3 L1912.5 1382.3 L1914.5 1382.3 L1916.5 1382.3 L1918.5 1382.3 L1920.5 1382.3 L1922.5 1382.3 L1924.5 1382.3 L1926.5 1382.3 L1928.5 1382.3 L1930.5 1382.3 L1932.5 1382.3 L1934.5 1382.3 L1936.5 1382.3 L1938.5 1382.3 L1940.5 1382.3 L1942.5 1382.3 L1944.5 1382.3 L1946.5 1382.3 L1948.5 1382.3 L1950.5 1382.3 L1952.5 1382.3 L1954.5 1382.3 L1956.5 1382.3 L1958.5 1382.3 L1960.5 1382.3 L1962.5 1382.3 L1964.5 1382.3 L1966.5 1382.3 L1968.5 1382.3 L1970.5 1382.3 L1972.5 1382.3 L1974.5 1382.3 L1976.5 1382.3 L1978.5 1382.3 L1980.5 1382.3 L1982.5 1382.3 L1984.5 1382.3 L1986.5 1382.3 L1988.5 1382.3 L1990.5 1382.3 L1992.5 1382.3 L1994.5 1382.3 L1996.5 1382.3 L1998.5 1382.3 L2000.5 1382.3 L2002.5 1382.3 L2003.5 1382.3"/>
<path stroke="#FF00FF" stroke-width="4.6" d="M258.5 553.8 L260.5 553.8 L262.5 553.8 L264.5 553.8 L266.5 553.7 L268.5 553.7 L270.5 553.6 L272.5 553.6 L274.5 553.5 L276.5 553.4 L278.5 553.4 L280.5 553.2 L282.5 553.1 L284.5 552.8 L286.5 552.4 L288.5 552.0 L290.5 551.5 L292.5 551.0 L294.5 550.4 L296.5 549.9 L298.5 549.3 L300.5 548.7 L302.5 548.1 L304.5 547.5 L306.5 546.9 L308.5 546.3 L310.5 545.6 L312.5 544.8 L314.5 544.0 L316.5 543.1 L318.5 542.1 L320.5 540.9 L322.5 539.6 L324.5 538.1 L326.5 536.5 L328.5 534.9 L330.5 533.2 L332.5 531.4 L334.5 529.7 L336.5 527.8 L338.5 525.9 L340.5 524.0 L342.5 521.9 L344.5 519.9 L346.5 517.8 L348.5 515.7 L350.5 513.6 L352.5 511.5 L354.5 509.3 L356.5 507.2 L358.5 504.9 L360.5 502.7 L362.5 500.3 L364.5 497.9 L366.5 495.3 L368.5 492.7 L370.5 490.0 L372.5 487.4 L374.5 484.9 L376.5 482.4 L378.5 480.1 L380.5 477.7 L382.5 475.5 L384.5 473.3 L386.5 471.3 L388.5 469.4 L390.5 467.5 L392.5 465.7 L394.5 464.0 L396.5 462.5 L398.5 461.1 L400.5 459.8 L402.5 458.7 L404.5 457.8 L406.5 456.9 L408.5 456.2 L410.5 455.6 L412.5 455.1 L414.5 454.7 L416.5 454.4 L418.5 454.3 L420.5 454.5 L422.5 454.8 L424.5 455.2 L426.5 455.8 L428.5 456.6 L430.5 457.7 L432.5 458.9 L434.5 460.2 L436.5 461.7 L438.5 463.4 L440.5 465.3 L442.5 467.4 L444.5 469.7 L446.5 472.1 L448.5 474.8 L450.5 477.6 L452.5 480.7 L454.5 484.0 L456.5 487.5 L458.5 491.1 L460.5 495.1 L462.5 499.2 L464.5 503.4 L466.5 507.6 L468.5 511.9 L470.5 516.3 L472.5 520.8 L474.5 525.5 L476.5 530.2 L478.5 535.2 L480.5 540.3 L482.5 545.5 L484.5 550.7 L486.5 555.8 L488.5 560.6 L490.5 565.4 L492.5 570.0 L494.5 574.5 L496.5 578.9 L498.5 583.2 L500.5 587.4 L502.5 591.6 L504.5 595.7 L506.5 599.7 L508.5 603.6 L510.5 607.4 L512.5 611.0 L514.5 614.4 L516.5 617.6 L518.5 620.7 L520.5 623.7 L522.5 626.6 L524.5 629.5 L526.5 632.3 L528.5 635.0 L530.5 637.6 L532.5 640.2 L534.5 642.8 L536.5 645.3 L538.5 647.8 L540.5 650.3 L542.5 652.8 L544.5 655.2 L546.5 657.7 L548.5 660.0 L550.5 662.3 L552.5 664.5 L554.5 666.6 L556.5 668.6 L558.5 670.6 L560.5 672.5 L562.5 674.4 L564.5 676.2 L566.5 677.9 L568.5 679.6 L570.5 681.2 L572.5 682.8 L574.5 684.3 L576.5 685.7 L578.5 687.1 L580.5 688.4 L582.5 689.6 L584.5 690.8 L586.5 691.9 L588.5 692.9 L590.5 693.8 L592.5 694.6 L594.5 695.3 L596.5 696.0 L598.5 696.7 L600.5 697.3 L602.5 698.0 L604.5 698.6 L606.5 699.2 L608.5 699.7 L610.5 700.2 L612.5 700.8 L614.5 701.2 L616.5 701.7 L618.5 702.1 L620.5 702.5 L622.5 702.9 L624.5 703.3 L626.5 703.6 L628.5 703.9 L630.5 704.2 L632.5 704.4 L634.5 704.6 L636.5 704.8 L638.5 705.0 L640.5 705.2 L642.5 705.4 L644.5 705.6 L646.5 705.7 L648.5 705.9 L650.5 706.0 L652.5 706.2 L654.5 706.4 L656.5 706.7 L658.5 706.9 L660.5 707.2 L662.5 707.4 L664.5 707.5 L666.5 707.6 L668.5 707.5 L670.5 707.4 L672.5 707.3 L674.5 707.1 L676.5 706.9 L678.5 706.7 L680.5 706.5 L682.5 706.3 L684.5 706.1 L686.5 705.9 L688.5 705.8 L690.5 705.6 L692.5 705.4 L694.5 705.2 L696.5 705.1 L698.5 705.0 L700.5 704.9 L702.5 704.8 L704.5 704.8 L706.5 704.7 L708.5 704.6 L710.5 704.6 L712.5 704.6 L714.5 704.7 L716.5 704.8 L718.5 704.9 L720.5 705.0 L722.5 705.2 L724.5 705.4 L726.5 705.6 L728.5 705.8 L730.5 706.0 L732.5 706.3 L734.5 706.6 L736.5 706.8 L738.5 707.1 L740.5 707.4 L742.5 707.7 L744.5 708.0 L746.5 708.4 L748.5 708.7 L750.5 709.0 L752.5 709.3 L754.5 709.5 L756.5 709.6 L758.5 709.6 L760.5 709.5 L762.5 709.5 L764.5 709.4 L766.5 709.3 L768.5 709.2 L770.5 708.9 L772.5 708.5 L774.5 707.7 L776.5 706.8 L778.5 705.8 L780.5 704.7 L782.5 703.6 L784.5 702.6 L786.5 701.6 L788.5 700.5 L790.5 699.4 L792.5 698.3 L794.5 697.1 L796.5 695.9 L798.5 694.6 L800.5 693.2 L802.5 691.8 L804.5 690.4 L806.5 688.9 L808.5 687.4 L810.5 685.8 L812.5 684.3 L814.5 682.6 L816.5 681.0 L818.5 679.4 L820.5 677.8 L822.5 676.2 L824.5 674.6 L826.5 673.0 L828.5 671.4 L830.5 669.8 L832.5 668.2 L834.5 666.6 L836.5 665.0 L838.5 663.4 L840.5 661.7 L842.5 660.1 L844.5 658.5 L846.5 656.9 L848.5 655.3 L850.5 653.6 L852.5 652.0 L854.5 650.4 L856.5 648.9 L858.5 647.5 L860.5 646.2 L862.5 645.0 L864.5 643.8 L866.5 642.7 L868.5 641.5 L870.5 640.3 L872.5 639.1 L874.5 638.0 L876.5 636.8 L878.5 635.5 L880.5 634.3 L882.5 633.0 L884.5 631.7 L886.5 630.4 L888.5 629.0 L890.5 627.6 L892.5 626.2 L894.5 624.8 L896.5 623.4 L898.5 622.0 L900.5 620.6 L902.5 619.2 L904.5 617.8 L906.5 616.4 L908.5 614.9 L910.5 613.4 L912.5 611.9 L914.5 610.4 L916.5 608.8 L918.5 607.3 L920.5 605.8 L922.5 604.3 L924.5 602.8 L926.5 601.4 L928.5 599.9 L930.5 598.4 L932.5 596.9 L934.5 595.4 L936.5 593.8 L938.5 592.2 L940.5 590.6 L942.5 588.9 L944.5 587.3 L946.5 585.8 L948.5 584.2 L950.5 582.6 L952.5 581.0 L954.5 579.6 L956.5 578.2 L958.5 577.0 L960.5 575.9 L962.5 574.8 L964.5 573.8 L966.5 573.0 L968.5 572.2 L970.5 571.5 L972.5 570.9 L974.5 570.4 L976.5 569.9 L978.5 569.5 L980.5 569.2 L982.5 569.0 L984.5 568.9 L986.5 568.9 L988.5 568.9 L990.5 569.0 L992.5 569.0 L994.5 569.1 L996.5 569.2 L998.5 569.4 L1000.5 569.6 L1002.5 570.0 L1004.5 570.5 L1006.5 570.9 L1008.5 571.5 L1010.5 572.1 L1012.5 572.7 L1014.5 573.5 L1016.5 574.4 L1018.5 575.3 L1020.5 576.2 L1022.5 577.2 L1024.5 578.3 L1026.5 579.4 L1028.5 580.6 L1030.5 581.8 L1032.5 583.2 L1034.5 584.8 L1036.5 586.5 L1038.5 588.4 L1040.5 590.5 L1042.5 592.7 L1044.5 594.8 L1046.5 597.1 L1048.5 599.3 L1050.5 601.5 L1052.5 603.8 L1054.5 606.3 L1056.5 608.8 L1058.5 611.4 L1060.5 614.3 L1062.5 617.2 L1064.5 620.4 L1066.5 623.6 L1068.5 627.0 L1070.5 630.6 L1072.5 634.3 L1074.5 638.2 L1076.5 642.3 L1078.5 646.5 L1080.5 650.8 L1082.5 655.3 L1084.5 659.8 L1086.5 664.4 L1088.5 669.1 L1090.5 673.9 L1092.5 678.8 L1094.5 683.8 L1096.5 688.9 L1098.5 694.1 L1100.5 699.3 L1102.5 704.6 L1104.5 710.1 L1106.5 715.5 L1108.5 721.1 L1110.5 726.7 L1112.5 732.5 L1114.5 738.3 L1116.5 744.1 L1118.5 750.0 L1120.5 755.9 L1122.5 761.8 L1124.5 767.7 L1126.5 773.6 L1128.5 779.6 L1130.5 785.6 L1132.5 791.7 L1134.5 798.0 L1136.5 804.4 L1138.5 811.0 L1140.5 817.7 L1142.5 824.4 L1144.5 831.1 L1146.5 837.7 L1148.5 844.1 L1150.5 850.5 L1152.5 856.8 L1154.5 863.2 L1156.5 869.7 L1158.5 876.4 L1160.5 883.4 L1162.5 890.6 L1164.5 897.9 L1166.5 905.0 L1168.5 911.8 L1170.5 918.6 L1172.5 925.2 L1174.5 931.9 L1176.5 938.6 L1178.5 945.3 L1180.5 952.0 L1182.5 958.6 L1184.5 965.2 L1186.5 971.8 L1188.5 978.4 L1190.5 985.1 L1192.5 991.9 L1194.5 998.5 L1196.5 1005.0 L1198.5 1011.3 L1200.5 1017.4 L1202.5 1023.3 L1204.5 1029.3 L1206.5 1035.2 L1208.5 1041.1 L1210.5 1047.1 L1212.5 1053.1 L1214.5 1059.1 L1216.5 1065.2 L1218.5 1071.1 L1220.5 1076.7 L1222.5 1082.2 L1224.5 1087.5 L1226.5 1092.7 L1228.5 1097.9 L1230.5 1102.9 L1232.5 1107.9 L1234.5 1112.9 L1236.5 1117.8 L1238.5 1122.8 L1240.5 1127.7 L1242.5 1132.5 L1244.5 1137.3 L1246.5 1142.0 L1248.5 1146.6 L1250.5 1151.2 L1252.5 1155.6 L1254.5 1160.0 L1256.5 1164.3 L1258.5 1168.6 L1260.5 1172.9 L1262.5 1177.1 L1264.5 1181.1 L1266.5 1185.0 L1268.5 1188.8 L1270.5 1192.5 L1272.5 1195.9 L1274.5 1199.3 L1276.5 1202.5 L1278.5 1205.6 L1280.5 1208.5 L1282.5 1211.4 L1284.5 1214.2 L1286.5 1216.9 L1288.5 1219.7 L1290.5 1222.4 L1292.5 1225.2 L1294.5 1228.1 L1296.5 1230.9 L1298.5 1233.7 L1300.5 1236.4 L1302.5 1239.1 L1304.5 1241.7 L1306.5 1244.3 L1308.5 1246.9 L1310.5 1249.4 L1312.5 1251.8 L1314.5 1254.3 L1316.5 1256.7 L1318.5 1258.9 L1320.5 1261.0 L1322.5 1262.9 L1324.5 1264.8 L1326.5 1266.5 L1328.5 1268.1 L1330.5 1269.8 L1332.5 1271.4 L1334.5 1272.9 L1336.5 1274.4 L1338.5 1275.9 L1340.5 1277.3 L1342.5 1278.6 L1344.5 1279.8 L1346.5 1281.0 L1348.5 1282.2 L1350.5 1283.5 L1352.5 1284.9 L1354.5 1286.3 L1356.5 1287.7 L1358.5 1289.1 L1360.5 1290.6 L1362.5 1291.9 L1364.5 1293.2 L1366.5 1294.5 L1368.5 1295.7 L1370.5 1296.9 L1372.5 1298.0 L1374.5 1299.1 L1376.5 1300.2 L1378.5 1301.3 L1380.5 1302.4 L1382.5 1303.4 L1384.5 1304.4 L1386.5 1305.3 L1388.5 1306.2 L1390.5 1307.1 L1392.5 1307.9 L1394.5 1308.7 L1396.5 1309.4 L1398.5 1310.2 L1400.5 1311.0 L1402.5 1311.7 L1404.5 1312.5 L1406.5 1313.3 L1408.5 1314.0 L1410.5 1314.7 L1412.5 1315.4 L1414.5 1316.0 L1416.5 1316.6 L1418.5 1317.2 L1420.5 1317.7 L1422.5 1318.3 L1424.5 1318.8 L1426.5 1319.3 L1428.5 1319.8 L1430.5 1320.3 L1432.5 1320.8 L1434.5 1321.3 L1436.5 1321.9 L1438.5 1322.4 L1440.5 1323.0 L1442.5 1323.6 L1444.5 1324.2 L1446.5 1324.8 L1448.5 1325.4 L1450.5 1326.0 L1452.5 1326.5 L1454.5 1327.1 L1456.5 1327.6 L1458.5 1328.1 L1460.5 1328.5 L1462.5 1328.9 L1464.5 1329.3 L1466.5 1329.6 L1468.5 1330.0 L1470.5 1330.3 L1472.5 1330.6 L1474.5 1330.9 L1476.5 1331.2 L1478.5 1331.6 L1480.5 1332.0 L1482.5 1332.4 L1484.5 1332.8 L1486.5 1333.2 L1488.5 1333.6 L1490.5 1334.1 L1492.5 1334.6 L1494.5 1335.1 L1496.5 1335.6 L1498.5 1336.1 L1500.5 1336.5 L1502.5 1336.9 L1504.5 1337.3 L1506.5 1337.7 L1508.5 1338.1 L1510.5 1338.4 L1512.5 1338.6 L1514.5 1338.7 L1516.5 1338.9 L1518.5 1339.0 L1520.5 1339.0 L1522.5 1339.1 L1524.5 1339.2 L1526.5 1339.2 L1528.5 1339.2 L1530.5 1339.3 L1532.5 1339.3 L1534.5 1339.3 L1536.5 1339.4 L1538.5 1339.4 L1540.5 1339.6 L1542.5 1339.9 L1544.5 1340.3 L1546.5 1340.8 L1548.5 1341.3 L1550.5 1341.8 L1552.5 1342.2 L1554.5 1342.7 L1556.5 1343.2 L1558.5 1343.6 L1560.5 1344.1 L1562.5 1344.6 L1564.5 1345.1 L1566.5 1345.6 L1568.5 1346.1 L1570.5 1346.5 L1572.5 1347.0 L1574.5 1347.4 L1576.5 1347.7 L1578.5 1348.0 L1580.5 1348.3 L1582.5 1348.6 L1584.5 1348.8 L1586.5 1349.1 L1588.5 1349.3 L1590.5 1349.5 L1592.5 1349.7 L1594.5 1349.9 L1596.5 1350.2 L1598.5 1350.4 L1600.5 1350.6 L1602.5 1350.8 L1604.5 1351.1 L1606.5 1351.3 L1608.5 1351.6 L1610.5 1351.8 L1612.5 1352.0 L1614.5 1352.3 L1616.5 1352.5 L1618.5 1352.8 L1620.5 1353.0 L1622.5 1353.2 L1624.5 1353.5 L1626.5 1353.7 L1628.5 1354.0 L1630.5 1354.2 L1632.5 1354.5 L1634.5 1354.7 L1636.5 1355.0 L1638.5 1355.2 L1640.5 1355.5 L1642.5 1355.7 L1644.5 1356.0 L1646.5 1356.2 L1648.5 1356.4 L1650.5 1356.6 L1652.5 1356.8 L1654.5 1357.0 L1656.5 1357.1 L1658.5 1357.3 L1660.5 1357.4 L1662.5 1357.6 L1664.5 1357.7 L1666.5 1357.9 L1668.5 1358.0 L1670.5 1358.2 L1672.5 1358.3 L1674.5 1358.4 L1676.5 1358.6 L1678.5 1358.8 L1680.5 1358.9 L1682.5 1359.1 L1684.5 1359.2 L1686.5 1359.4 L1688.5 1359.6 L1690.5 1359.7 L1692.5 1359.9 L1694.5 1360.1 L1696.5 1360.2 L1698.5 1360.4 L1700.5 1360.5 L1702.5 1360.6 L1704.5 1360.8 L1706.5 1360.9 L1708.5 1361.0 L1710.5 1361.1 L1712.5 1361.3 L1714.5 1361.4 L1716.5 1361.5 L1718.5 1361.6 L1720.5 1361.7 L1722.5 1361.8 L1724.5 1361.9 L1726.5 1362.0 L1728.5 1362.1 L1730.5 1362.2 L1732.5 1362.2 L1734.5 1362.3 L1736.5 1362.4 L1738.5 1362.5 L1740.5 1362.6 L1742.5 1362.6 L1744.5 1362.7 L1746.5 1362.8 L1748.5 1362.9 L1750.5 1362.9 L1752.5 1363.0 L1754.5 1363.1 L1756.5 1363.2 L1758.5 1363.3 L1760.5 1363.3 L1762.5 1363.4 L1764.5 1363.5 L1766.5 1363.6 L1768.5 1363.6 L1770.5 1363.7 L1772.5 1363.8 L1774.5 1363.9 L1776.5 1363.9 L1778.5 1364.0 L1780.5 1364.1 L1782.5 1364.2 L1784.5 1364.2 L1786.5 1364.3 L1788.5 1364.4 L1790.5 1364.4 L1792.5 1364.5 L1794.5 1364.6 L1796.5 1364.6 L1798.5 1364.7 L1800.5 1364.8 L1802.5 1364.8 L1804.5 1364.9 L1806.5 1365.0 L1808.5 1365.0 L1810.5 1365.1 L1812.5 1365.2 L1814.5 1365.2 L1816.5 1365.3 L1818.5 1365.4 L1820.5 1365.4 L1822.5 1365.5 L1824.5 1365.5 L1826.5 1365.6 L1828.5 1365.7 L1830.5 1365.7 L1832.5 1365.8 L1834.5 1365.8 L1836.5 1365.9 L1838.5 1365.9 L1840.5 1366.0 L1842.5 1366.0 L1844.5 1366.1 L1846.5 1366.1 L1848.5 1366.2 L1850.5 1366.2 L1852.5 1366.3 L1854.5 1366.3 L1856.5 1366.4 L1858.5 1366.4 L1860.5 1366.5 L1862.5 1366.5 L1864.5 1366.5 L1866.5 1366.6 L1868.5 1366.6 L1870.5 1366.7 L1872.5 1366.7 L1874.5 1366.8 L1876.5 1366.8 L1878.5 1366.8 L1880.5 1366.9 L1882.5 1366.9 L1884.5 1367.0 L1886.5 1367.0 L1888.5 1367.1 L1890.5 1367.1 L1892.5 1367.1 L1894.5 1367.2 L1896.5 1367.2 L1898.5 1367.3 L1900.5 1367.3 L1902.5 1367.3 L1904.5 1367.4 L1906.5 1367.4 L1908.5 1367.4 L1910.5 1367.5 L1912.5 1367.5 L1914.5 1367.5 L1916.5 1367.5 L1918.5 1367.6 L1920.5 1367.6 L1922.5 1367.6 L1924.5 1367.6 L1926.5 1367.7 L1928.5 1367.7 L1930.5 1367.7 L1932.5 1367.8 L1934.5 1367.8 L1936.5 1367.9 L1938.5 1367.9 L1940.5 1368.0 L1942.5 1368.1 L1944.5 1368.2 L1946.5 1368.3 L1948.5 1368.7 L1950.5 1369.2 L1952.5 1369.7 L1954.5 1370.3 L1956.5 1370.9 L1958.5 1371.5 L1960.5 1372.2 L1962.5 1372.7 L1964.5 1373.2 L1966.5 1373.6 L1968.5 1374.0 L1970.5 1374.3 L1972.5 1374.6 L1974.5 1374.7 L1976.5 1374.8 L1978.5 1374.9 L1980.5 1375.0 L1982.5 1375.0 L1984.5 1375.1 L1986.5 1375.1 L1988.5 1375.2 L1990.5 1375.2 L1992.5 1375.2 L1994.5 1375.2 L1996.5 1375.3 L1998.5 1375.3 L2000.5 1375.3 L2002.5 1375.3 L2003.5 1375.3"/>
<path stroke="#FF00FF" stroke-width="6" shape-rendering="crispEdges" d="M258.5 553.8 L260.5 553.8 L262.5 553.8 L264.5 553.8 L266.5 553.7 L268.5 553.7 L270.5 553.6 L272.5 553.6 L274.5 553.5 L276.5 553.4 L278.5 553.4 L280.5 553.2 L282.5 553.1 L284.5 552.8 L286.5 552.4 L288.5 552.0 L290.5 551.5 L292.5 551.0 L294.5 550.4 L296.5 549.9 L298.5 549.3 L300.5 548.7 L302.5 548.1 L304.5 547.5 L306.5 546.9 L308.5 546.3 L310.5 545.6 L312.5 544.8 L314.5 544.0 L316.5 543.1 L318.5 542.1 L320.5 540.9 L322.5 539.6 L324.5 538.1 L326.5 536.5 L328.5 534.9 L330.5 533.2 L332.5 531.4 L334.5 529.7 L336.5 527.8 L338.5 525.9 L340.5 524.0 L342.5 521.9 L344.5 519.9 L346.5 517.8 L348.5 515.7 L350.5 513.6 L352.5 511.5 L354.5 509.3 L356.5 507.2 L358.5 504.9 L360.5 502.7 L362.5 500.3 L364.5 497.9 L366.5 495.3 L368.5 492.7 L370.5 490.0 L372.5 487.4 L374.5 484.9 L376.5 482.4 L378.5 480.1 L380.5 477.7 L382.5 475.5 L384.5 473.3 L386.5 471.3 L388.5 469.4 L390.5 467.5 L392.5 465.7 L394.5 464.0 L396.5 462.5 L398.5 461.1 L400.5 459.8 L402.5 458.7 L404.5 457.8 L406.5 456.9 L408.5 456.2 L410.5 455.6 L412.5 455.1 L414.5 454.7 L416.5 454.4 L418.5 454.3 L420.5 454.5 L422.5 454.8 L424.5 455.2 L426.5 455.8 L428.5 456.6 L430.5 457.7 L432.5 458.9 L434.5 460.2 L436.5 461.7 L438.5 463.4 L440.5 465.3 L442.5 467.4 L444.5 469.7 L446.5 472.1 L448.5 474.8 L450.5 477.6 L452.5 480.7 L454.5 484.0 L456.5 487.5 L458.5 491.1 L460.5 495.1 L462.5 499.2 L464.5 503.4 L466.5 507.6 L468.5 511.9 L470.5 516.3 L472.5 520.8 L474.5 525.5 L476.5 530.2 L478.5 535.2 L480.5 540.3 L482.5 545.5 L484.5 550.7 L486.5 555.8 L488.5 560.6 L490.5 565.4 L492.5 570.0 L494.5 574.5 L496.5 578.9 L498.5 583.2 L500.5 587.4 L502.5 591.6 L504.5 595.7 L506.5 599.7 L508.5 603.6 L510.5 607.4 L512.5 611.0 L514.5 614.4 L516.5 617.6 L518.5 620.7 L520.5 623.7 L522.5 626.6 L524.5 629.5 L526.5 632.3 L528.5 635.0 L530.5 637.6 L532.5 640.2 L534.5 642.8 L536.5 645.3 L538.5 647.8 L540.5 650.3 L542.5 652.8 L544.5 655.2 L546.5 657.7 L548.5 660.0 L550.5 662.3 L552.5 664.5 L554.5 666.6 L556.5 668.6 L558.5 670.6 L560.5 672.5 L562.5 674.4 L564.5 676.2 L566.5 677.9 L568.5 679.6 L570.5 681.2 L572.5 682.8 L574.5 684.3 L576.5 685.7 L578.5 687.1 L580.5 688.4 L582.5 689.6 L584.5 690.8 L586.5 691.9 L588.5 692.9 L590.5 693.8 L592.5 694.6 L594.5 695.3 L596.5 696.0 L598.5 696.7 L600.5 697.3 L602.5 698.0 L604.5 698.6 L606.5 699.2 L608.5 699.7 L610.5 700.2 L612.5 700.8 L614.5 701.2 L616.5 701.7 L618.5 702.1 L620.5 702.5 L622.5 702.9 L624.5 703.3 L626.5 703.6 L628.5 703.9 L630.5 704.2 L632.5 704.4 L634.5 704.6 L636.5 704.8 L638.5 705.0 L640.5 705.2 L642.5 705.4 L644.5 705.6 L646.5 705.7 L648.5 705.9 L650.5 706.0 L652.5 706.2 L654.5 706.4 L656.5 706.7 L658.5 706.9 L660.5 707.2 L662.5 707.4 L664.5 707.5 L666.5 707.6 L668.5 707.5 L670.5 707.4 L672.5 707.3 L674.5 707.1 L676.5 706.9 L678.5 706.7 L680.5 706.5 L682.5 706.3 L684.5 706.1 L686.5 705.9 L688.5 705.8 L690.5 705.6 L692.5 705.4 L694.5 705.2 L696.5 705.1 L698.5 705.0 L700.5 704.9 L702.5 704.8 L704.5 704.8 L706.5 704.7 L708.5 704.6 L710.5 704.6 L712.5 704.6 L714.5 704.7 L716.5 704.8 L718.5 704.9 L720.5 705.0 L722.5 705.2 L724.5 705.4 L726.5 705.6 L728.5 705.8 L730.5 706.0 L732.5 706.3 L734.5 706.6 L736.5 706.8 L738.5 707.1 L740.5 707.4 L742.5 707.7 L744.5 708.0 L746.5 708.4 L748.5 708.7 L750.5 709.0 L752.5 709.3 L754.5 709.5 L756.5 709.6 L758.5 709.6 L760.5 709.5 L762.5 709.5 L764.5 709.4 L766.5 709.3 L768.5 709.2 L770.5 708.9 L772.5 708.5 L774.5 707.7 L776.5 706.8 L778.5 705.8 L780.5 704.7 L782.5 703.6 L784.5 702.6 L786.5 701.6 L788.5 700.5 L790.5 699.4 L792.5 698.3 L794.5 697.1 L796.5 695.9 L798.5 694.6 L800.5 693.2 L802.5 691.8 L804.5 690.4 L806.5 688.9 L808.5 687.4 L810.5 685.8 L812.5 684.3 L814.5 682.6 L816.5 681.0 L818.5 679.4 L820.5 677.8 L822.5 676.2 L824.5 674.6 L826.5 673.0 L828.5 671.4 L830.5 669.8 L832.5 668.2 L834.5 666.6 L836.5 665.0 L838.5 663.4 L840.5 661.7 L842.5 660.1 L844.5 658.5 L846.5 656.9 L848.5 655.3 L850.5 653.6 L852.5 652.0 L854.5 650.4 L856.5 648.9 L858.5 647.5 L860.5 646.2 L862.5 645.0 L864.5 643.8 L866.5 642.7 L868.5 641.5 L870.5 640.3 L872.5 639.1 L874.5 638.0 L876.5 636.8 L878.5 635.5 L880.5 634.3 L882.5 633.0 L884.5 631.7 L886.5 630.4 L888.5 629.0 L890.5 627.6 L892.5 626.2 L894.5 624.8 L896.5 623.4 L898.5 622.0 L900.5 620.6 L902.5 619.2 L904.5 617.8 L906.5 616.4 L908.5 614.9 L910.5 613.4 L912.5 611.9 L914.5 610.4 L916.5 608.8 L918.5 607.3 L920.5 605.8 L922.5 604.3 L924.5 602.8 L926.5 601.4 L928.5 599.9 L930.5 598.4 L932.5 596.9 L934.5 595.4 L936.5 593.8 L938.5 592.2 L940.5 590.6 L942.5 588.9 L944.5 587.3 L946.5 585.8 L948.5 584.2 L950.5 582.6 L952.5 581.0 L954.5 579.6 L956.5 578.2 L958.5 577.0 L960.5 575.9 L962.5 574.8 L964.5 573.8 L966.5 573.0 L968.5 572.2 L970.5 571.5 L972.5 570.9 L974.5 570.4 L976.5 569.9 L978.5 569.5 L980.5 569.2 L982.5 569.0 L984.5 568.9 L986.5 568.9 L988.5 568.9 L990.5 569.0 L992.5 569.0 L994.5 569.1 L996.5 569.2 L998.5 569.4 L1000.5 569.6 L1002.5 570.0 L1004.5 570.5 L1006.5 570.9 L1008.5 571.5 L1010.5 572.1 L1012.5 572.7 L1014.5 573.5 L1016.5 574.4 L1018.5 575.3 L1020.5 576.2 L1022.5 577.2 L1024.5 578.3 L1026.5 579.4 L1028.5 580.6 L1030.5 581.8 L1032.5 583.2 L1034.5 584.8 L1036.5 586.5 L1038.5 588.4 L1040.5 590.5 L1042.5 592.7 L1044.5 594.8 L1046.5 597.1 L1048.5 599.3 L1050.5 601.5 L1052.5 603.8 L1054.5 606.3 L1056.5 608.8 L1058.5 611.4 L1060.5 614.3 L1062.5 617.2 L1064.5 620.4 L1066.5 623.6 L1068.5 627.0 L1070.5 630.6 L1072.5 634.3 L1074.5 638.2 L1076.5 642.3 L1078.5 646.5 L1080.5 650.8 L1082.5 655.3 L1084.5 659.8 L1086.5 664.4 L1088.5 669.1 L1090.5 673.9 L1092.5 678.8 L1094.5 683.8 L1096.5 688.9 L1098.5 694.1 L1100.5 699.3 L1102.5 704.6 L1104.5 710.1 L1106.5 715.5 L1108.5 721.1 L1110.5 726.7 L1112.5 732.5 L1114.5 738.3 L1116.5 744.1 L1118.5 750.0 L1120.5 755.9 L1122.5 761.8 L1124.5 767.7 L1126.5 773.6 L1128.5 779.6 L1130.5 785.6 L1132.5 791.7 L1134.5 798.0 L1136.5 804.4 L1138.5 811.0 L1140.5 817.7 L1142.5 824.4 L1144.5 831.1 L1146.5 837.7 L1148.5 844.1 L1150.5 850.5 L1152.5 856.8 L1154.5 863.2 L1156.5 869.7 L1158.5 876.4 L1160.5 883.4 L1162.5 890.6 L1164.5 897.9 L1166.5 905.0 L1168.5 911.8 L1170.5 918.6 L1172.5 925.2 L1174.5 931.9 L1176.5 938.6 L1178.5 945.3 L1180.5 952.0 L1182.5 958.6 L1184.5 965.2 L1186.5 971.8 L1188.5 978.4 L1190.5 985.1 L1192.5 991.9 L1194.5 998.5 L1196.5 1005.0 L1198.5 1011.3 L1200.5 1017.4 L1202.5 1023.3 L1204.5 1029.3 L1206.5 1035.2 L1208.5 1041.1 L1210.5 1047.1 L1212.5 1053.1 L1214.5 1059.1 L1216.5 1065.2 L1218.5 1071.1 L1220.5 1076.7 L1222.5 1082.2 L1224.5 1087.5 L1226.5 1092.7 L1228.5 1097.9 L1230.5 1102.9 L1232.5 1107.9 L1234.5 1112.9 L1236.5 1117.8 L1238.5 1122.8 L1240.5 1127.7 L1242.5 1132.5 L1244.5 1137.3 L1246.5 1142.0 L1248.5 1146.6 L1250.5 1151.2 L1252.5 1155.6 L1254.5 1160.0 L1256.5 1164.3 L1258.5 1168.6 L1260.5 1172.9 L1262.5 1177.1 L1264.5 1181.1 L1266.5 1185.0 L1268.5 1188.8 L1270.5 1192.5 L1272.5 1195.9 L1274.5 1199.3 L1276.5 1202.5 L1278.5 1205.6 L1280.5 1208.5 L1282.5 1211.4 L1284.5 1214.2 L1286.5 1216.9 L1288.5 1219.7 L1290.5 1222.4 L1292.5 1225.2 L1294.5 1228.1 L1296.5 1230.9 L1298.5 1233.7 L1300.5 1236.4 L1302.5 1239.1 L1304.5 1241.7 L1306.5 1244.3 L1308.5 1246.9 L1310.5 1249.4 L1312.5 1251.8 L1314.5 1254.3 L1316.5 1256.7 L1318.5 1258.9 L1320.5 1261.0 L1322.5 1262.9 L1324.5 1264.8 L1326.5 1266.5 L1328.5 1268.1 L1330.5 1269.8 L1332.5 1271.4 L1334.5 1272.9 L1336.5 1274.4 L1338.5 1275.9 L1340.5 1277.3 L1342.5 1278.6 L1344.5 1279.8 L1346.5 1281.0 L1348.5 1282.2 L1350.5 1283.5 L1352.5 1284.9 L1354.5 1286.3 L1356.5 1287.7 L1358.5 1289.1 L1360.5 1290.6 L1362.5 1291.9 L1364.5 1293.2 L1366.5 1294.5 L1368.5 1295.7 L1370.5 1296.9 L1372.5 1298.0 L1374.5 1299.1 L1376.5 1300.2 L1378.5 1301.3 L1380.5 1302.4 L1382.5 1303.4 L1384.5 1304.4 L1386.5 1305.3 L1388.5 1306.2 L1390.5 1307.1 L1392.5 1307.9 L1394.5 1308.7 L1396.5 1309.4 L1398.5 1310.2 L1400.5 1311.0 L1402.5 1311.7 L1404.5 1312.5 L1406.5 1313.3 L1408.5 1314.0 L1410.5 1314.7 L1412.5 1315.4 L1414.5 1316.0 L1416.5 1316.6 L1418.5 1317.2 L1420.5 1317.7 L1422.5 1318.3 L1424.5 1318.8 L1426.5 1319.3 L1428.5 1319.8 L1430.5 1320.3 L1432.5 1320.8 L1434.5 1321.3 L1436.5 1321.9 L1438.5 1322.4 L1440.5 1323.0 L1442.5 1323.6 L1444.5 1324.2 L1446.5 1324.8 L1448.5 1325.4 L1450.5 1326.0 L1452.5 1326.5 L1454.5 1327.1 L1456.5 1327.6 L1458.5 1328.1 L1460.5 1328.5 L1462.5 1328.9 L1464.5 1329.3 L1466.5 1329.6 L1468.5 1330.0 L1470.5 1330.3 L1472.5 1330.6 L1474.5 1330.9 L1476.5 1331.2 L1478.5 1331.6 L1480.5 1332.0 L1482.5 1332.4 L1484.5 1332.8 L1486.5 1333.2 L1488.5 1333.6 L1490.5 1334.1 L1492.5 1334.6 L1494.5 1335.1 L1496.5 1335.6 L1498.5 1336.1 L1500.5 1336.5 L1502.5 1336.9 L1504.5 1337.3 L1506.5 1337.7 L1508.5 1338.1 L1510.5 1338.4 L1512.5 1338.6 L1514.5 1338.7 L1516.5 1338.9 L1518.5 1339.0 L1520.5 1339.0 L1522.5 1339.1 L1524.5 1339.2 L1526.5 1339.2 L1528.5 1339.2 L1530.5 1339.3 L1532.5 1339.3 L1534.5 1339.3 L1536.5 1339.4 L1538.5 1339.4 L1540.5 1339.6 L1542.5 1339.9 L1544.5 1340.3 L1546.5 1340.8 L1548.5 1341.3 L1550.5 1341.8 L1552.5 1342.2 L1554.5 1342.7 L1556.5 1343.2 L1558.5 1343.6 L1560.5 1344.1 L1562.5 1344.6 L1564.5 1345.1 L1566.5 1345.6 L1568.5 1346.1 L1570.5 1346.5 L1572.5 1347.0 L1574.5 1347.4 L1576.5 1347.7 L1578.5 1348.0 L1580.5 1348.3 L1582.5 1348.6 L1584.5 1348.8 L1586.5 1349.1 L1588.5 1349.3 L1590.5 1349.5 L1592.5 1349.7 L1594.5 1349.9 L1596.5 1350.2 L1598.5 1350.4 L1600.5 1350.6 L1602.5 1350.8 L1604.5 1351.1 L1606.5 1351.3 L1608.5 1351.6 L1610.5 1351.8 L1612.5 1352.0 L1614.5 1352.3 L1616.5 1352.5 L1618.5 1352.8 L1620.5 1353.0 L1622.5 1353.2 L1624.5 1353.5 L1626.5 1353.7 L1628.5 1354.0 L1630.5 1354.2 L1632.5 1354.5 L1634.5 1354.7 L1636.5 1355.0 L1638.5 1355.2 L1640.5 1355.5 L1642.5 1355.7 L1644.5 1356.0 L1646.5 1356.2 L1648.5 1356.4 L1650.5 1356.6 L1652.5 1356.8 L1654.5 1357.0 L1656.5 1357.1 L1658.5 1357.3 L1660.5 1357.4 L1662.5 1357.6 L1664.5 1357.7 L1666.5 1357.9 L1668.5 1358.0 L1670.5 1358.2 L1672.5 1358.3 L1674.5 1358.4 L1676.5 1358.6 L1678.5 1358.8 L1680.5 1358.9 L1682.5 1359.1 L1684.5 1359.2 L1686.5 1359.4 L1688.5 1359.6 L1690.5 1359.7 L1692.5 1359.9 L1694.5 1360.1 L1696.5 1360.2 L1698.5 1360.4 L1700.5 1360.5 L1702.5 1360.6 L1704.5 1360.8 L1706.5 1360.9 L1708.5 1361.0 L1710.5 1361.1 L1712.5 1361.3 L1714.5 1361.4 L1716.5 1361.5 L1718.5 1361.6 L1720.5 1361.7 L1722.5 1361.8 L1724.5 1361.9 L1726.5 1362.0 L1728.5 1362.1 L1730.5 1362.2 L1732.5 1362.2 L1734.5 1362.3 L1736.5 1362.4 L1738.5 1362.5 L1740.5 1362.6 L1742.5 1362.6 L1744.5 1362.7 L1746.5 1362.8 L1748.5 1362.9 L1750.5 1362.9 L1752.5 1363.0 L1754.5 1363.1 L1756.5 1363.2 L1758.5 1363.3 L1760.5 1363.3 L1762.5 1363.4 L1764.5 1363.5 L1766.5 1363.6 L1768.5 1363.6 L1770.5 1363.7 L1772.5 1363.8 L1774.5 1363.9 L1776.5 1363.9 L1778.5 1364.0 L1780.5 1364.1 L1782.5 1364.2 L1784.5 1364.2 L1786.5 1364.3 L1788.5 1364.4 L1790.5 1364.4 L1792.5 1364.5 L1794.5 1364.6 L1796.5 1364.6 L1798.5 1364.7 L1800.5 1364.8 L1802.5 1364.8 L1804.5 1364.9 L1806.5 1365.0 L1808.5 1365.0 L1810.5 1365.1 L1812.5 1365.2 L1814.5 1365.2 L1816.5 1365.3 L1818.5 1365.4 L1820.5 1365.4 L1822.5 1365.5 L1824.5 1365.5 L1826.5 1365.6 L1828.5 1365.7 L1830.5 1365.7 L1832.5 1365.8 L1834.5 1365.8 L1836.5 1365.9 L1838.5 1365.9 L1840.5 1366.0 L1842.5 1366.0 L1844.5 1366.1 L1846.5 1366.1 L1848.5 1366.2 L1850.5 1366.2 L1852.5 1366.3 L1854.5 1366.3 L1856.5 1366.4 L1858.5 1366.4 L1860.5 1366.5 L1862.5 1366.5 L1864.5 1366.5 L1866.5 1366.6 L1868.5 1366.6 L1870.5 1366.7 L1872.5 1366.7 L1874.5 1366.8 L1876.5 1366.8 L1878.5 1366.8 L1880.5 1366.9 L1882.5 1366.9 L1884.5 1367.0 L1886.5 1367.0 L1888.5 1367.1 L1890.5 1367.1 L1892.5 1367.1 L1894.5 1367.2 L1896.5 1367.2 L1898.5 1367.3 L1900.5 1367.3 L1902.5 1367.3 L1904.5 1367.4 L1906.5 1367.4 L1908.5 1367.4 L1910.5 1367.5 L1912.5 1367.5 L1914.5 1367.5 L1916.5 1367.5 L1918.5 1367.6 L1920.5 1367.6 L1922.5 1367.6 L1924.5 1367.6 L1926.5 1367.7 L1928.5 1367.7 L1930.5 1367.7 L1932.5 1367.8 L1934.5 1367.8 L1936.5 1367.9 L1938.5 1367.9 L1940.5 1368.0 L1942.5 1368.1 L1944.5 1368.2 L1946.5 1368.3 L1948.5 1368.7 L1950.5 1369.2 L1952.5 1369.7 L1954.5 1370.3 L1956.5 1370.9 L1958.5 1371.5 L1960.5 1372.2 L1962.5 1372.7 L1964.5 1373.2 L1966.5 1373.6 L1968.5 1374.0 L1970.5 1374.3 L1972.5 1374.6 L1974.5 1374.7 L1976.5 1374.8 L1978.5 1374.9 L1980.5 1375.0 L1982.5 1375.0 L1984.5 1375.1 L1986.5 1375.1 L1988.5 1375.2 L1990.5 1375.2 L1992.5 1375.2 L1994.5 1375.2 L1996.5 1375.3 L1998.5 1375.3 L2000.5 1375.3 L2002.5 1375.3 L2003.5 1375.3"/>
<path stroke="#808000" stroke-width="4.6" d="M258.5 591.0 L260.5 591.0 L262.5 591.0 L264.5 590.9 L266.5 590.9 L268.5 590.8 L270.5 590.8 L272.5 590.7 L274.5 590.6 L276.5 590.5 L278.5 590.4 L280.5 590.2 L282.5 589.8 L284.5 589.3 L286.5 588.6 L288.5 587.9 L290.5 587.4 L292.5 586.8 L294.5 586.3 L296.5 585.8 L298.5 585.4 L300.5 584.9 L302.5 584.5 L304.5 584.2 L306.5 583.9 L308.5 583.7 L310.5 583.4 L312.5 583.2 L314.5 583.0 L316.5 582.8 L318.5 582.6 L320.5 582.5 L322.5 582.4 L324.5 582.3 L326.5 582.3 L328.5 582.3 L330.5 582.3 L332.5 582.3 L334.5 582.3 L336.5 582.3 L338.5 582.3 L340.5 582.3 L342.5 582.3 L344.5 582.3 L346.5 582.4 L348.5 582.5 L350.5 582.8 L352.5 583.2 L354.5 583.7 L356.5 584.2 L358.5 584.7 L360.5 585.3 L362.5 585.9 L364.5 586.5 L366.5 587.3 L368.5 588.1 L370.5 589.0 L372.5 590.0 L374.5 590.9 L376.5 591.9 L378.5 593.0 L380.5 594.1 L382.5 595.2 L384.5 596.4 L386.5 597.6 L388.5 598.9 L390.5 600.2 L392.5 601.5 L394.5 602.9 L396.5 604.3 L398.5 605.8 L400.5 607.4 L402.5 609.2 L404.5 611.2 L406.5 613.4 L408.5 615.9 L410.5 618.5 L412.5 621.2 L414.5 623.8 L416.5 626.4 L418.5 628.9 L420.5 631.3 L422.5 633.8 L424.5 636.4 L426.5 639.2 L428.5 642.2 L430.5 645.6 L432.5 649.2 L434.5 653.0 L436.5 657.1 L438.5 661.2 L440.5 665.4 L442.5 669.9 L444.5 674.4 L446.5 679.0 L448.5 683.8 L450.5 688.7 L452.5 693.7 L454.5 698.7 L456.5 703.7 L458.5 708.5 L460.5 713.2 L462.5 717.7 L464.5 722.2 L466.5 726.7 L468.5 731.2 L470.5 735.7 L472.5 740.2 L474.5 744.7 L476.5 749.1 L478.5 753.5 L480.5 757.7 L482.5 761.8 L484.5 765.8 L486.5 769.7 L488.5 773.6 L490.5 777.4 L492.5 781.2 L494.5 784.9 L496.5 788.5 L498.5 792.0 L500.5 795.3 L502.5 798.3 L504.5 801.3 L506.5 804.0 L508.5 806.7 L510.5 809.4 L512.5 812.2 L514.5 814.9 L516.5 817.8 L518.5 820.7 L520.5 823.5 L522.5 826.3 L524.5 829.1 L526.5 831.7 L528.5 834.3 L530.5 836.8 L532.5 839.2 L534.5 841.6 L536.5 843.8 L538.5 845.9 L540.5 848.0 L542.5 849.9 L544.5 851.8 L546.5 853.5 L548.5 855.3 L550.5 856.9 L552.5 858.5 L554.5 860.0 L556.5 861.4 L558.5 862.9 L560.5 864.2 L562.5 865.4 L564.5 866.6 L566.5 867.7 L568.5 868.8 L570.5 869.8 L572.5 870.8 L574.5 871.7 L576.5 872.6 L578.5 873.5 L580.5 874.3 L582.5 875.1 L584.5 875.9 L586.5 876.7 L588.5 877.4 L590.5 878.1 L592.5 878.7 L594.5 879.4 L596.5 880.0 L598.5 880.5 L600.5 881.1 L602.5 881.6 L604.5 882.1 L606.5 882.5 L608.5 883.0 L610.5 883.4 L612.5 883.7 L614.5 884.1 L616.5 884.5 L618.5 884.8 L620.5 885.1 L622.5 885.4 L624.5 885.6 L626.5 885.7 L628.5 885.7 L630.5 885.6 L632.5 885.6 L634.5 885.5 L636.5 885.4 L638.5 885.4 L640.5 885.3 L642.5 885.2 L644.5 885.1 L646.5 885.1 L648.5 885.0 L650.5 885.0 L652.5 885.0 L654.5 885.0 L656.5 885.0 L658.5 885.1 L660.5 885.1 L662.5 885.1 L664.5 885.2 L666.5 885.2 L668.5 885.2 L670.5 885.3 L672.5 885.3 L674.5 885.3 L676.5 885.3 L678.5 885.3 L680.5 885.3 L682.5 885.3 L684.5 885.3 L686.5 885.3 L688.5 885.3 L690.5 885.2 L692.5 885.2 L694.5 885.2 L696.5 885.2 L698.5 885.2 L700.5 885.2 L702.5 885.2 L704.5 885.2 L706.5 885.2 L708.5 885.2 L710.5 885.2 L712.5 885.2 L714.5 885.2 L716.5 885.2 L718.5 885.2 L720.5 885.2 L722.5 885.2 L724.5 885.2 L726.5 885.2 L728.5 885.2 L730.5 885.3 L732.5 885.4 L734.5 885.5 L736.5 885.6 L738.5 885.8 L740.5 885.9 L742.5 886.1 L744.5 886.4 L746.5 886.7 L748.5 886.9 L750.5 887.1 L752.5 887.2 L754.5 887.3 L756.5 887.4 L758.5 887.4 L760.5 887.5 L762.5 887.5 L764.5 887.6 L766.5 887.6 L768.5 887.6 L770.5 887.6 L772.5 887.5 L774.5 887.3 L776.5 887.1 L778.5 886.9 L780.5 886.5 L782.5 886.2 L784.5 885.8 L786.5 885.4 L788.5 885.0 L790.5 884.6 L792.5 884.2 L794.5 883.9 L796.5 883.6 L798.5 883.3 L800.5 883.0 L802.5 882.7 L804.5 882.4 L806.5 882.1 L808.5 881.8 L810.5 881.5 L812.5 881.2 L814.5 880.9 L816.5 880.6 L818.5 880.3 L820.5 879.9 L822.5 879.6 L824.5 879.2 L826.5 878.8 L828.5 878.4 L830.5 878.0 L832.5 877.6 L834.5 877.2 L836.5 876.8 L838.5 876.5 L840.5 876.2 L842.5 875.9 L844.5 875.6 L846.5 875.4 L848.5 875.2 L850.5 874.9 L852.5 874.8 L854.5 874.6 L856.5 874.5 L858.5 874.5 L860.5 874.5 L862.5 874.5 L864.5 874.6 L866.5 874.6 L868.5 874.7 L870.5 874.8 L872.5 874.9 L874.5 875.0 L876.5 875.2 L878.5 875.4 L880.5 875.8 L882.5 876.2 L884.5 876.7 L886.5 877.0 L888.5 877.3 L890.5 877.4 L892.5 877.5 L894.5 877.5 L896.5 877.5 L898.5 877.5 L900.5 877.5 L902.5 877.5 L904.5 877.5 L906.5 877.5 L908.5 877.5 L910.5 877.5 L912.5 877.5 L914.5 877.5 L916.5 877.5 L918.5 877.5 L920.5 877.5 L922.5 877.5 L924.5 877.5 L926.5 877.5 L928.5 877.5 L930.5 877.5 L932.5 877.5 L934.5 877.5 L936.5 877.5 L938.5 877.5 L940.5 877.5 L942.5 877.5 L944.5 877.5 L946.5 877.5 L948.5 877.5 L950.5 877.5 L952.5 877.5 L954.5 877.5 L956.5 877.5 L958.5 877.6 L960.5 877.6 L962.5 877.7 L964.5 877.7 L966.5 877.8 L968.5 877.9 L970.5 878.0 L972.5 878.3 L974.5 878.8 L976.5 879.4 L978.5 880.2 L980.5 880.9 L982.5 881.7 L984.5 882.4 L986.5 883.0 L988.5 883.7 L990.5 884.4 L992.5 885.1 L994.5 885.8 L996.5 886.6 L998.5 887.5 L1000.5 888.4 L1002.5 889.4 L1004.5 890.4 L1006.5 891.5 L1008.5 892.6 L1010.5 893.9 L1012.5 895.2 L1014.5 896.7 L1016.5 898.1 L1018.5 899.6 L1020.5 901.0 L1022.5 902.3 L1024.5 903.7 L1026.5 905.0 L1028.5 906.2 L1030.5 907.5 L1032.5 908.8 L1034.5 910.2 L1036.5 911.5 L1038.5 912.8 L1040.5 914.2 L1042.5 915.6 L1044.5 917.1 L1046.5 918.6 L1048.5 920.3 L1050.5 922.0 L1052.5 923.8 L1054.5 925.7 L1056.5 927.5 L1058.5 929.4 L1060.5 931.3 L1062.5 933.2 L1064.5 935.1 L1066.5 937.0 L1068.5 939.0 L1070.5 940.9 L1072.5 942.8 L1074.5 944.8 L1076.5 946.7 L1078.5 948.6 L1080.5 950.6 L1082.5 952.7 L1084.5 955.0 L1086.5 957.4 L1088.5 959.9 L1090.5 962.5 L1092.5 965.2 L1094.5 968.0 L1096.5 970.8 L1098.5 973.7 L1100.5 976.6 L1102.5 979.7 L1104.5 982.7 L1106.5 985.8 L1108.5 988.7 L1110.5 991.6 L1112.5 994.5 L1114.5 997.3 L1116.5 1000.0 L1118.5 1002.8 L1120.5 1005.6 L1122.5 1008.4 L1124.5 1011.1 L1126.5 1013.9 L1128.5 1016.7 L1130.5 1019.5 L1132.5 1022.3 L1134.5 1025.2 L1136.5 1028.1 L1138.5 1031.1 L1140.5 1034.1 L1142.5 1037.1 L1144.5 1040.2 L1146.5 1043.3 L1148.5 1046.4 L1150.5 1049.6 L1152.5 1052.8 L1154.5 1056.0 L1156.5 1059.2 L1158.5 1062.4 L1160.5 1065.6 L1162.5 1068.9 L1164.5 1072.1 L1166.5 1075.3 L1168.5 1078.6 L1170.5 1081.7 L1172.5 1084.8 L1174.5 1087.9 L1176.5 1091.0 L1178.5 1094.0 L1180.5 1096.9 L1182.5 1099.8 L1184.5 1102.6 L1186.5 1105.3 L1188.5 1107.9 L1190.5 1110.5 L1192.5 1113.1 L1194.5 1115.7 L1196.5 1118.3 L1198.5 1121.0 L1200.5 1123.8 L1202.5 1126.6 L1204.5 1129.5 L1206.5 1132.3 L1208.5 1135.1 L1210.5 1138.0 L1212.5 1140.8 L1214.5 1143.6 L1216.5 1146.4 L1218.5 1149.1 L1220.5 1151.9 L1222.5 1154.6 L1224.5 1157.3 L1226.5 1159.9 L1228.5 1162.6 L1230.5 1165.2 L1232.5 1167.7 L1234.5 1170.1 L1236.5 1172.4 L1238.5 1174.7 L1240.5 1176.9 L1242.5 1179.0 L1244.5 1181.1 L1246.5 1183.3 L1248.5 1185.4 L1250.5 1187.6 L1252.5 1189.8 L1254.5 1191.9 L1256.5 1194.0 L1258.5 1196.1 L1260.5 1198.3 L1262.5 1200.3 L1264.5 1202.4 L1266.5 1204.5 L1268.5 1206.5 L1270.5 1208.6 L1272.5 1210.6 L1274.5 1212.7 L1276.5 1214.8 L1278.5 1216.8 L1280.5 1218.9 L1282.5 1220.9 L1284.5 1222.8 L1286.5 1224.7 L1288.5 1226.4 L1290.5 1228.1 L1292.5 1229.7 L1294.5 1231.2 L1296.5 1232.7 L1298.5 1234.1 L1300.5 1235.5 L1302.5 1236.9 L1304.5 1238.2 L1306.5 1239.5 L1308.5 1240.7 L1310.5 1242.0 L1312.5 1243.2 L1314.5 1244.4 L1316.5 1245.5 L1318.5 1246.7 L1320.5 1247.8 L1322.5 1248.8 L1324.5 1249.9 L1326.5 1250.9 L1328.5 1251.8 L1330.5 1252.7 L1332.5 1253.6 L1334.5 1254.4 L1336.5 1255.3 L1338.5 1256.1 L1340.5 1256.9 L1342.5 1257.7 L1344.5 1258.5 L1346.5 1259.3 L1348.5 1260.1 L1350.5 1260.9 L1352.5 1261.8 L1354.5 1262.6 L1356.5 1263.4 L1358.5 1264.2 L1360.5 1265.0 L1362.5 1265.7 L1364.5 1266.5 L1366.5 1267.2 L1368.5 1268.0 L1370.5 1268.7 L1372.5 1269.4 L1374.5 1270.1 L1376.5 1270.7 L1378.5 1271.4 L1380.5 1272.1 L1382.5 1272.7 L1384.5 1273.4 L1386.5 1274.0 L1388.5 1274.6 L1390.5 1275.3 L1392.5 1275.9 L1394.5 1276.5 L1396.5 1277.1 L1398.5 1277.7 L1400.5 1278.4 L1402.5 1279.0 L1404.5 1279.6 L1406.5 1280.2 L1408.5 1280.9 L1410.5 1281.5 L1412.5 1282.1 L1414.5 1282.7 L1416.5 1283.3 L1418.5 1283.9 L1420.5 1284.5 L1422.5 1285.1 L1424.5 1285.7 L1426.5 1286.2 L1428.5 1286.7 L1430.5 1287.3 L1432.5 1287.8 L1434.5 1288.3 L1436.5 1288.7 L1438.5 1289.2 L1440.5 1289.7 L1442.5 1290.2 L1444.5 1290.7 L1446.5 1291.1 L1448.5 1291.6 L1450.5 1292.1 L1452.5 1292.6 L1454.5 1293.1 L1456.5 1293.6 L1458.5 1294.1 L1460.5 1294.6 L1462.5 1295.1 L1464.5 1295.6 L1466.5 1296.2 L1468.5 1296.7 L1470.5 1297.2 L1472.5 1297.7 L1474.5 1298.2 L1476.5 1298.7 L1478.5 1299.2 L1480.5 1299.7 L1482.5 1300.2 L1484.5 1300.6 L1486.5 1301.1 L1488.5 1301.6 L1490.5 1302.1 L1492.5 1302.6 L1494.5 1303.1 L1496.5 1303.6 L1498.5 1304.2 L1500.5 1304.7 L1502.5 1305.2 L1504.5 1305.8 L1506.5 1306.4 L1508.5 1307.0 L1510.5 1307.6 L1512.5 1308.2 L1514.5 1308.8 L1516.5 1309.4 L1518.5 1310.0 L1520.5 1310.6 L1522.5 1311.2 L1524.5 1311.8 L1526.5 1312.5 L1528.5 1313.1 L1530.5 1313.7 L1532.5 1314.3 L1534.5 1314.9 L1536.5 1315.5 L1538.5 1316.1 L1540.5 1316.7 L1542.5 1317.3 L1544.5 1317.9 L1546.5 1318.5 L1548.5 1319.1 L1550.5 1319.6 L1552.5 1320.2 L1554.5 1320.7 L1556.5 1321.3 L1558.5 1321.8 L1560.5 1322.3 L1562.5 1322.8 L1564.5 1323.3 L1566.5 1323.8 L1568.5 1324.3 L1570.5 1324.8 L1572.5 1325.3 L1574.5 1325.7 L1576.5 1326.2 L1578.5 1326.6 L1580.5 1327.0 L1582.5 1327.4 L1584.5 1327.8 L1586.5 1328.2 L1588.5 1328.6 L1590.5 1329.0 L1592.5 1329.4 L1594.5 1329.8 L1596.5 1330.2 L1598.5 1330.6 L1600.5 1330.9 L1602.5 1331.3 L1604.5 1331.7 L1606.5 1332.2 L1608.5 1332.6 L1610.5 1333.0 L1612.5 1333.4 L1614.5 1333.8 L1616.5 1334.2 L1618.5 1334.6 L1620.5 1335.0 L1622.5 1335.4 L1624.5 1335.8 L1626.5 1336.1 L1628.5 1336.5 L1630.5 1336.8 L1632.5 1337.1 L1634.5 1337.5 L1636.5 1337.8 L1638.5 1338.1 L1640.5 1338.4 L1642.5 1338.7 L1644.5 1339.0 L1646.5 1339.2 L1648.5 1339.5 L1650.5 1339.8 L1652.5 1340.0 L1654.5 1340.2 L1656.5 1340.5 L1658.5 1340.7 L1660.5 1340.9 L1662.5 1341.1 L1664.5 1341.3 L1666.5 1341.5 L1668.5 1341.7 L1670.5 1341.9 L1672.5 1342.1 L1674.5 1342.3 L1676.5 1342.5 L1678.5 1342.7 L1680.5 1342.9 L1682.5 1343.2 L1684.5 1343.4 L1686.5 1343.6 L1688.5 1343.9 L1690.5 1344.1 L1692.5 1344.3 L1694.5 1344.5 L1696.5 1344.8 L1698.5 1345.0 L1700.5 1345.2 L1702.5 1345.4 L1704.5 1345.6 L1706.5 1345.7 L1708.5 1345.9 L1710.5 1346.1 L1712.5 1346.3 L1714.5 1346.4 L1716.5 1346.6 L1718.5 1346.8 L1720.5 1346.9 L1722.5 1347.1 L1724.5 1347.2 L1726.5 1347.4 L1728.5 1347.5 L1730.5 1347.7 L1732.5 1347.8 L1734.5 1348.0 L1736.5 1348.2 L1738.5 1348.3 L1740.5 1348.5 L1742.5 1348.6 L1744.5 1348.7 L1746.5 1348.9 L1748.5 1349.0 L1750.5 1349.1 L1752.5 1349.2 L1754.5 1349.3 L1756.5 1349.4 L1758.5 1349.5 L1760.5 1349.6 L1762.5 1349.7 L1764.5 1349.8 L1766.5 1349.8 L1768.5 1349.9 L1770.5 1350.0 L1772.5 1350.1 L1774.5 1350.2 L1776.5 1350.3 L1778.5 1350.4 L1780.5 1350.5 L1782.5 1350.6 L1784.5 1350.7 L1786.5 1350.8 L1788.5 1350.9 L1790.5 1351.0 L1792.5 1351.1 L1794.5 1351.2 L1796.5 1351.3 L1798.5 1351.4 L1800.5 1351.5 L1802.5 1351.6 L1804.5 1351.7 L1806.5 1351.8 L1808.5 1351.9 L1810.5 1352.0 L1812.5 1352.1 L1814.5 1352.2 L1816.5 1352.3 L1818.5 1352.4 L1820.5 1352.5 L1822.5 1352.6 L1824.5 1352.7 L1826.5 1352.8 L1828.5 1352.9 L1830.5 1353.0 L1832.5 1353.1 L1834.5 1353.2 L1836.5 1353.3 L1838.5 1353.4 L1840.5 1353.5 L1842.5 1353.6 L1844.5 1353.7 L1846.5 1353.8 L1848.5 1353.9 L1850.5 1354.0 L1852.5 1354.1 L1854.5 1354.2 L1856.5 1354.3 L1858.5 1354.4 L1860.5 1354.5 L1862.5 1354.6 L1864.5 1354.7 L1866.5 1354.8 L1868.5 1354.9 L1870.5 1355.0 L1872.5 1355.1 L1874.5 1355.3 L1876.5 1355.4 L1878.5 1355.5 L1880.5 1355.6 L1882.5 1355.7 L1884.5 1355.8 L1886.5 1355.9 L1888.5 1356.0 L1890.5 1356.1 L1892.5 1356.2 L1894.5 1356.3 L1896.5 1356.4 L1898.5 1356.5 L1900.5 1356.6 L1902.5 1356.7 L1904.5 1356.8 L1906.5 1356.9 L1908.5 1357.0 L1910.5 1357.1 L1912.5 1357.2 L1914.5 1357.3 L1916.5 1357.4 L1918.5 1357.5 L1920.5 1357.6 L1922.5 1357.7 L1924.5 1357.7 L1926.5 1357.8 L1928.5 1357.9 L1930.5 1358.0 L1932.5 1358.1 L1934.5 1358.2 L1936.5 1358.3 L1938.5 1358.4 L1940.5 1358.5 L1942.5 1358.6 L1944.5 1358.6 L1946.5 1358.7 L1948.5 1358.8 L1950.5 1358.9 L1952.5 1359.0 L1954.5 1359.1 L1956.5 1359.2 L1958.5 1359.2 L1960.5 1359.3 L1962.5 1359.4 L1964.5 1359.5 L1966.5 1359.6 L1968.5 1359.6 L1970.5 1359.7 L1972.5 1359.8 L1974.5 1359.9 L1976.5 1360.0 L1978.5 1360.1 L1980.5 1360.1 L1982.5 1360.2 L1984.5 1360.3 L1986.5 1360.4 L1988.5 1360.4 L1990.5 1360.5 L1992.5 1360.6 L1994.5 1360.7 L1996.5 1360.7 L1998.5 1360.8 L2000.5 1360.9 L2002.5 1360.9 L2003.5 1361.0"/>
<path stroke="#808000" stroke-width="6" shape-rendering="crispEdges" d="M258.5 591.0 L260.5 591.0 L262.5 591.0 L264.5 590.9 L266.5 590.9 L268.5 590.8 L270.5 590.8 L272.5 590.7 L274.5 590.6 L276.5 590.5 L278.5 590.4 L280.5 590.2 L282.5 589.8 L284.5 589.3 L286.5 588.6 L288.5 587.9 L290.5 587.4 L292.5 586.8 L294.5 586.3 L296.5 585.8 L298.5 585.4 L300.5 584.9 L302.5 584.5 L304.5 584.2 L306.5 583.9 L308.5 583.7 L310.5 583.4 L312.5 583.2 L314.5 583.0 L316.5 582.8 L318.5 582.6 L320.5 582.5 L322.5 582.4 L324.5 582.3 L326.5 582.3 L328.5 582.3 L330.5 582.3 L332.5 582.3 L334.5 582.3 L336.5 582.3 L338.5 582.3 L340.5 582.3 L342.5 582.3 L344.5 582.3 L346.5 582.4 L348.5 582.5 L350.5 582.8 L352.5 583.2 L354.5 583.7 L356.5 584.2 L358.5 584.7 L360.5 585.3 L362.5 585.9 L364.5 586.5 L366.5 587.3 L368.5 588.1 L370.5 589.0 L372.5 590.0 L374.5 590.9 L376.5 591.9 L378.5 593.0 L380.5 594.1 L382.5 595.2 L384.5 596.4 L386.5 597.6 L388.5 598.9 L390.5 600.2 L392.5 601.5 L394.5 602.9 L396.5 604.3 L398.5 605.8 L400.5 607.4 L402.5 609.2 L404.5 611.2 L406.5 613.4 L408.5 615.9 L410.5 618.5 L412.5 621.2 L414.5 623.8 L416.5 626.4 L418.5 628.9 L420.5 631.3 L422.5 633.8 L424.5 636.4 L426.5 639.2 L428.5 642.2 L430.5 645.6 L432.5 649.2 L434.5 653.0 L436.5 657.1 L438.5 661.2 L440.5 665.4 L442.5 669.9 L444.5 674.4 L446.5 679.0 L448.5 683.8 L450.5 688.7 L452.5 693.7 L454.5 698.7 L456.5 703.7 L458.5 708.5 L460.5 713.2 L462.5 717.7 L464.5 722.2 L466.5 726.7 L468.5 731.2 L470.5 735.7 L472.5 740.2 L474.5 744.7 L476.5 749.1 L478.5 753.5 L480.5 757.7 L482.5 761.8 L484.5 765.8 L486.5 769.7 L488.5 773.6 L490.5 777.4 L492.5 781.2 L494.5 784.9 L496.5 788.5 L498.5 792.0 L500.5 795.3 L502.5 798.3 L504.5 801.3 L506.5 804.0 L508.5 806.7 L510.5 809.4 L512.5 812.2 L514.5 814.9 L516.5 817.8 L518.5 820.7 L520.5 823.5 L522.5 826.3 L524.5 829.1 L526.5 831.7 L528.5 834.3 L530.5 836.8 L532.5 839.2 L534.5 841.6 L536.5 843.8 L538.5 845.9 L540.5 848.0 L542.5 849.9 L544.5 851.8 L546.5 853.5 L548.5 855.3 L550.5 856.9 L552.5 858.5 L554.5 860.0 L556.5 861.4 L558.5 862.9 L560.5 864.2 L562.5 865.4 L564.5 866.6 L566.5 867.7 L568.5 868.8 L570.5 869.8 L572.5 870.8 L574.5 871.7 L576.5 872.6 L578.5 873.5 L580.5 874.3 L582.5 875.1 L584.5 875.9 L586.5 876.7 L588.5 877.4 L590.5 878.1 L592.5 878.7 L594.5 879.4 L596.5 880.0 L598.5 880.5 L600.5 881.1 L602.5 881.6 L604.5 882.1 L606.5 882.5 L608.5 883.0 L610.5 883.4 L612.5 883.7 L614.5 884.1 L616.5 884.5 L618.5 884.8 L620.5 885.1 L622.5 885.4 L624.5 885.6 L626.5 885.7 L628.5 885.7 L630.5 885.6 L632.5 885.6 L634.5 885.5 L636.5 885.4 L638.5 885.4 L640.5 885.3 L642.5 885.2 L644.5 885.1 L646.5 885.1 L648.5 885.0 L650.5 885.0 L652.5 885.0 L654.5 885.0 L656.5 885.0 L658.5 885.1 L660.5 885.1 L662.5 885.1 L664.5 885.2 L666.5 885.2 L668.5 885.2 L670.5 885.3 L672.5 885.3 L674.5 885.3 L676.5 885.3 L678.5 885.3 L680.5 885.3 L682.5 885.3 L684.5 885.3 L686.5 885.3 L688.5 885.3 L690.5 885.2 L692.5 885.2 L694.5 885.2 L696.5 885.2 L698.5 885.2 L700.5 885.2 L702.5 885.2 L704.5 885.2 L706.5 885.2 L708.5 885.2 L710.5 885.2 L712.5 885.2 L714.5 885.2 L716.5 885.2 L718.5 885.2 L720.5 885.2 L722.5 885.2 L724.5 885.2 L726.5 885.2 L728.5 885.2 L730.5 885.3 L732.5 885.4 L734.5 885.5 L736.5 885.6 L738.5 885.8 L740.5 885.9 L742.5 886.1 L744.5 886.4 L746.5 886.7 L748.5 886.9 L750.5 887.1 L752.5 887.2 L754.5 887.3 L756.5 887.4 L758.5 887.4 L760.5 887.5 L762.5 887.5 L764.5 887.6 L766.5 887.6 L768.5 887.6 L770.5 887.6 L772.5 887.5 L774.5 887.3 L776.5 887.1 L778.5 886.9 L780.5 886.5 L782.5 886.2 L784.5 885.8 L786.5 885.4 L788.5 885.0 L790.5 884.6 L792.5 884.2 L794.5 883.9 L796.5 883.6 L798.5 883.3 L800.5 883.0 L802.5 882.7 L804.5 882.4 L806.5 882.1 L808.5 881.8 L810.5 881.5 L812.5 881.2 L814.5 880.9 L816.5 880.6 L818.5 880.3 L820.5 879.9 L822.5 879.6 L824.5 879.2 L826.5 878.8 L828.5 878.4 L830.5 878.0 L832.5 877.6 L834.5 877.2 L836.5 876.8 L838.5 876.5 L840.5 876.2 L842.5 875.9 L844.5 875.6 L846.5 875.4 L848.5 875.2 L850.5 874.9 L852.5 874.8 L854.5 874.6 L856.5 874.5 L858.5 874.5 L860.5 874.5 L862.5 874.5 L864.5 874.6 L866.5 874.6 L868.5 874.7 L870.5 874.8 L872.5 874.9 L874.5 875.0 L876.5 875.2 L878.5 875.4 L880.5 875.8 L882.5 876.2 L884.5 876.7 L886.5 877.0 L888.5 877.3 L890.5 877.4 L892.5 877.5 L894.5 877.5 L896.5 877.5 L898.5 877.5 L900.5 877.5 L902.5 877.5 L904.5 877.5 L906.5 877.5 L908.5 877.5 L910.5 877.5 L912.5 877.5 L914.5 877.5 L916.5 877.5 L918.5 877.5 L920.5 877.5 L922.5 877.5 L924.5 877.5 L926.5 877.5 L928.5 877.5 L930.5 877.5 L932.5 877.5 L934.5 877.5 L936.5 877.5 L938.5 877.5 L940.5 877.5 L942.5 877.5 L944.5 877.5 L946.5 877.5 L948.5 877.5 L950.5 877.5 L952.5 877.5 L954.5 877.5 L956.5 877.5 L958.5 877.6 L960.5 877.6 L962.5 877.7 L964.5 877.7 L966.5 877.8 L968.5 877.9 L970.5 878.0 L972.5 878.3 L974.5 878.8 L976.5 879.4 L978.5 880.2 L980.5 880.9 L982.5 881.7 L984.5 882.4 L986.5 883.0 L988.5 883.7 L990.5 884.4 L992.5 885.1 L994.5 885.8 L996.5 886.6 L998.5 887.5 L1000.5 888.4 L1002.5 889.4 L1004.5 890.4 L1006.5 891.5 L1008.5 892.6 L1010.5 893.9 L1012.5 895.2 L1014.5 896.7 L1016.5 898.1 L1018.5 899.6 L1020.5 901.0 L1022.5 902.3 L1024.5 903.7 L1026.5 905.0 L1028.5 906.2 L1030.5 907.5 L1032.5 908.8 L1034.5 910.2 L1036.5 911.5 L1038.5 912.8 L1040.5 914.2 L1042.5 915.6 L1044.5 917.1 L1046.5 918.6 L1048.5 920.3 L1050.5 922.0 L1052.5 923.8 L1054.5 925.7 L1056.5 927.5 L1058.5 929.4 L1060.5 931.3 L1062.5 933.2 L1064.5 935.1 L1066.5 937.0 L1068.5 939.0 L1070.5 940.9 L1072.5 942.8 L1074.5 944.8 L1076.5 946.7 L1078.5 948.6 L1080.5 950.6 L1082.5 952.7 L1084.5 955.0 L1086.5 957.4 L1088.5 959.9 L1090.5 962.5 L1092.5 965.2 L1094.5 968.0 L1096.5 970.8 L1098.5 973.7 L1100.5 976.6 L1102.5 979.7 L1104.5 982.7 L1106.5 985.8 L1108.5 988.7 L1110.5 991.6 L1112.5 994.5 L1114.5 997.3 L1116.5 1000.0 L1118.5 1002.8 L1120.5 1005.6 L1122.5 1008.4 L1124.5 1011.1 L1126.5 1013.9 L1128.5 1016.7 L1130.5 1019.5 L1132.5 1022.3 L1134.5 1025.2 L1136.5 1028.1 L1138.5 1031.1 L1140.5 1034.1 L1142.5 1037.1 L1144.5 1040.2 L1146.5 1043.3 L1148.5 1046.4 L1150.5 1049.6 L1152.5 1052.8 L1154.5 1056.0 L1156.5 1059.2 L1158.5 1062.4 L1160.5 1065.6 L1162.5 1068.9 L1164.5 1072.1 L1166.5 1075.3 L1168.5 1078.6 L1170.5 1081.7 L1172.5 1084.8 L1174.5 1087.9 L1176.5 1091.0 L1178.5 1094.0 L1180.5 1096.9 L1182.5 1099.8 L1184.5 1102.6 L1186.5 1105.3 L1188.5 1107.9 L1190.5 1110.5 L1192.5 1113.1 L1194.5 1115.7 L1196.5 1118.3 L1198.5 1121.0 L1200.5 1123.8 L1202.5 1126.6 L1204.5 1129.5 L1206.5 1132.3 L1208.5 1135.1 L1210.5 1138.0 L1212.5 1140.8 L1214.5 1143.6 L1216.5 1146.4 L1218.5 1149.1 L1220.5 1151.9 L1222.5 1154.6 L1224.5 1157.3 L1226.5 1159.9 L1228.5 1162.6 L1230.5 1165.2 L1232.5 1167.7 L1234.5 1170.1 L1236.5 1172.4 L1238.5 1174.7 L1240.5 1176.9 L1242.5 1179.0 L1244.5 1181.1 L1246.5 1183.3 L1248.5 1185.4 L1250.5 1187.6 L1252.5 1189.8 L1254.5 1191.9 L1256.5 1194.0 L1258.5 1196.1 L1260.5 1198.3 L1262.5 1200.3 L1264.5 1202.4 L1266.5 1204.5 L1268.5 1206.5 L1270.5 1208.6 L1272.5 1210.6 L1274.5 1212.7 L1276.5 1214.8 L1278.5 1216.8 L1280.5 1218.9 L1282.5 1220.9 L1284.5 1222.8 L1286.5 1224.7 L1288.5 1226.4 L1290.5 1228.1 L1292.5 1229.7 L1294.5 1231.2 L1296.5 1232.7 L1298.5 1234.1 L1300.5 1235.5 L1302.5 1236.9 L1304.5 1238.2 L1306.5 1239.5 L1308.5 1240.7 L1310.5 1242.0 L1312.5 1243.2 L1314.5 1244.4 L1316.5 1245.5 L1318.5 1246.7 L1320.5 1247.8 L1322.5 1248.8 L1324.5 1249.9 L1326.5 1250.9 L1328.5 1251.8 L1330.5 1252.7 L1332.5 1253.6 L1334.5 1254.4 L1336.5 1255.3 L1338.5 1256.1 L1340.5 1256.9 L1342.5 1257.7 L1344.5 1258.5 L1346.5 1259.3 L1348.5 1260.1 L1350.5 1260.9 L1352.5 1261.8 L1354.5 1262.6 L1356.5 1263.4 L1358.5 1264.2 L1360.5 1265.0 L1362.5 1265.7 L1364.5 1266.5 L1366.5 1267.2 L1368.5 1268.0 L1370.5 1268.7 L1372.5 1269.4 L1374.5 1270.1 L1376.5 1270.7 L1378.5 1271.4 L1380.5 1272.1 L1382.5 1272.7 L1384.5 1273.4 L1386.5 1274.0 L1388.5 1274.6 L1390.5 1275.3 L1392.5 1275.9 L1394.5 1276.5 L1396.5 1277.1 L1398.5 1277.7 L1400.5 1278.4 L1402.5 1279.0 L1404.5 1279.6 L1406.5 1280.2 L1408.5 1280.9 L1410.5 1281.5 L1412.5 1282.1 L1414.5 1282.7 L1416.5 1283.3 L1418.5 1283.9 L1420.5 1284.5 L1422.5 1285.1 L1424.5 1285.7 L1426.5 1286.2 L1428.5 1286.7 L1430.5 1287.3 L1432.5 1287.8 L1434.5 1288.3 L1436.5 1288.7 L1438.5 1289.2 L1440.5 1289.7 L1442.5 1290.2 L1444.5 1290.7 L1446.5 1291.1 L1448.5 1291.6 L1450.5 1292.1 L1452.5 1292.6 L1454.5 1293.1 L1456.5 1293.6 L1458.5 1294.1 L1460.5 1294.6 L1462.5 1295.1 L1464.5 1295.6 L1466.5 1296.2 L1468.5 1296.7 L1470.5 1297.2 L1472.5 1297.7 L1474.5 1298.2 L1476.5 1298.7 L1478.5 1299.2 L1480.5 1299.7 L1482.5 1300.2 L1484.5 1300.6 L1486.5 1301.1 L1488.5 1301.6 L1490.5 1302.1 L1492.5 1302.6 L1494.5 1303.1 L1496.5 1303.6 L1498.5 1304.2 L1500.5 1304.7 L1502.5 1305.2 L1504.5 1305.8 L1506.5 1306.4 L1508.5 1307.0 L1510.5 1307.6 L1512.5 1308.2 L1514.5 1308.8 L1516.5 1309.4 L1518.5 1310.0 L1520.5 1310.6 L1522.5 1311.2 L1524.5 1311.8 L1526.5 1312.5 L1528.5 1313.1 L1530.5 1313.7 L1532.5 1314.3 L1534.5 1314.9 L1536.5 1315.5 L1538.5 1316.1 L1540.5 1316.7 L1542.5 1317.3 L1544.5 1317.9 L1546.5 1318.5 L1548.5 1319.1 L1550.5 1319.6 L1552.5 1320.2 L1554.5 1320.7 L1556.5 1321.3 L1558.5 1321.8 L1560.5 1322.3 L1562.5 1322.8 L1564.5 1323.3 L1566.5 1323.8 L1568.5 1324.3 L1570.5 1324.8 L1572.5 1325.3 L1574.5 1325.7 L1576.5 1326.2 L1578.5 1326.6 L1580.5 1327.0 L1582.5 1327.4 L1584.5 1327.8 L1586.5 1328.2 L1588.5 1328.6 L1590.5 1329.0 L1592.5 1329.4 L1594.5 1329.8 L1596.5 1330.2 L1598.5 1330.6 L1600.5 1330.9 L1602.5 1331.3 L1604.5 1331.7 L1606.5 1332.2 L1608.5 1332.6 L1610.5 1333.0 L1612.5 1333.4 L1614.5 1333.8 L1616.5 1334.2 L1618.5 1334.6 L1620.5 1335.0 L1622.5 1335.4 L1624.5 1335.8 L1626.5 1336.1 L1628.5 1336.5 L1630.5 1336.8 L1632.5 1337.1 L1634.5 1337.5 L1636.5 1337.8 L1638.5 1338.1 L1640.5 1338.4 L1642.5 1338.7 L1644.5 1339.0 L1646.5 1339.2 L1648.5 1339.5 L1650.5 1339.8 L1652.5 1340.0 L1654.5 1340.2 L1656.5 1340.5 L1658.5 1340.7 L1660.5 1340.9 L1662.5 1341.1 L1664.5 1341.3 L1666.5 1341.5 L1668.5 1341.7 L1670.5 1341.9 L1672.5 1342.1 L1674.5 1342.3 L1676.5 1342.5 L1678.5 1342.7 L1680.5 1342.9 L1682.5 1343.2 L1684.5 1343.4 L1686.5 1343.6 L1688.5 1343.9 L1690.5 1344.1 L1692.5 1344.3 L1694.5 1344.5 L1696.5 1344.8 L1698.5 1345.0 L1700.5 1345.2 L1702.5 1345.4 L1704.5 1345.6 L1706.5 1345.7 L1708.5 1345.9 L1710.5 1346.1 L1712.5 1346.3 L1714.5 1346.4 L1716.5 1346.6 L1718.5 1346.8 L1720.5 1346.9 L1722.5 1347.1 L1724.5 1347.2 L1726.5 1347.4 L1728.5 1347.5 L1730.5 1347.7 L1732.5 1347.8 L1734.5 1348.0 L1736.5 1348.2 L1738.5 1348.3 L1740.5 1348.5 L1742.5 1348.6 L1744.5 1348.7 L1746.5 1348.9 L1748.5 1349.0 L1750.5 1349.1 L1752.5 1349.2 L1754.5 1349.3 L1756.5 1349.4 L1758.5 1349.5 L1760.5 1349.6 L1762.5 1349.7 L1764.5 1349.8 L1766.5 1349.8 L1768.5 1349.9 L1770.5 1350.0 L1772.5 1350.1 L1774.5 1350.2 L1776.5 1350.3 L1778.5 1350.4 L1780.5 1350.5 L1782.5 1350.6 L1784.5 1350.7 L1786.5 1350.8 L1788.5 1350.9 L1790.5 1351.0 L1792.5 1351.1 L1794.5 1351.2 L1796.5 1351.3 L1798.5 1351.4 L1800.5 1351.5 L1802.5 1351.6 L1804.5 1351.7 L1806.5 1351.8 L1808.5 1351.9 L1810.5 1352.0 L1812.5 1352.1 L1814.5 1352.2 L1816.5 1352.3 L1818.5 1352.4 L1820.5 1352.5 L1822.5 1352.6 L1824.5 1352.7 L1826.5 1352.8 L1828.5 1352.9 L1830.5 1353.0 L1832.5 1353.1 L1834.5 1353.2 L1836.5 1353.3 L1838.5 1353.4 L1840.5 1353.5 L1842.5 1353.6 L1844.5 1353.7 L1846.5 1353.8 L1848.5 1353.9 L1850.5 1354.0 L1852.5 1354.1 L1854.5 1354.2 L1856.5 1354.3 L1858.5 1354.4 L1860.5 1354.5 L1862.5 1354.6 L1864.5 1354.7 L1866.5 1354.8 L1868.5 1354.9 L1870.5 1355.0 L1872.5 1355.1 L1874.5 1355.3 L1876.5 1355.4 L1878.5 1355.5 L1880.5 1355.6 L1882.5 1355.7 L1884.5 1355.8 L1886.5 1355.9 L1888.5 1356.0 L1890.5 1356.1 L1892.5 1356.2 L1894.5 1356.3 L1896.5 1356.4 L1898.5 1356.5 L1900.5 1356.6 L1902.5 1356.7 L1904.5 1356.8 L1906.5 1356.9 L1908.5 1357.0 L1910.5 1357.1 L1912.5 1357.2 L1914.5 1357.3 L1916.5 1357.4 L1918.5 1357.5 L1920.5 1357.6 L1922.5 1357.7 L1924.5 1357.7 L1926.5 1357.8 L1928.5 1357.9 L1930.5 1358.0 L1932.5 1358.1 L1934.5 1358.2 L1936.5 1358.3 L1938.5 1358.4 L1940.5 1358.5 L1942.5 1358.6 L1944.5 1358.6 L1946.5 1358.7 L1948.5 1358.8 L1950.5 1358.9 L1952.5 1359.0 L1954.5 1359.1 L1956.5 1359.2 L1958.5 1359.2 L1960.5 1359.3 L1962.5 1359.4 L1964.5 1359.5 L1966.5 1359.6 L1968.5 1359.6 L1970.5 1359.7 L1972.5 1359.8 L1974.5 1359.9 L1976.5 1360.0 L1978.5 1360.1 L1980.5 1360.1 L1982.5 1360.2 L1984.5 1360.3 L1986.5 1360.4 L1988.5 1360.4 L1990.5 1360.5 L1992.5 1360.6 L1994.5 1360.7 L1996.5 1360.7 L1998.5 1360.8 L2000.5 1360.9 L2002.5 1360.9 L2003.5 1361.0"/>
<path stroke="#008000" stroke-width="4.6" d="M258.5 622.8 L260.5 622.8 L262.5 622.7 L264.5 622.7 L266.5 622.6 L268.5 622.5 L270.5 622.4 L272.5 622.3 L274.5 622.1 L276.5 621.9 L278.5 621.7 L280.5 621.4 L282.5 621.0 L284.5 620.3 L286.5 619.6 L288.5 618.9 L290.5 618.3 L292.5 617.8 L294.5 617.3 L296.5 616.8 L298.5 616.5 L300.5 616.2 L302.5 616.1 L304.5 616.0 L306.5 615.9 L308.5 615.9 L310.5 615.8 L312.5 615.8 L314.5 615.8 L316.5 615.9 L318.5 616.0 L320.5 616.2 L322.5 616.5 L324.5 616.8 L326.5 617.1 L328.5 617.5 L330.5 617.8 L332.5 618.2 L334.5 618.6 L336.5 619.1 L338.5 619.6 L340.5 620.1 L342.5 620.7 L344.5 621.3 L346.5 622.0 L348.5 622.8 L350.5 623.7 L352.5 624.7 L354.5 625.7 L356.5 626.8 L358.5 628.0 L360.5 629.2 L362.5 630.5 L364.5 631.8 L366.5 633.2 L368.5 634.7 L370.5 636.3 L372.5 637.9 L374.5 639.6 L376.5 641.3 L378.5 643.2 L380.5 645.1 L382.5 647.1 L384.5 649.2 L386.5 651.3 L388.5 653.5 L390.5 655.7 L392.5 658.0 L394.5 660.3 L396.5 662.8 L398.5 665.3 L400.5 667.9 L402.5 670.7 L404.5 673.5 L406.5 676.5 L408.5 679.6 L410.5 682.7 L412.5 685.9 L414.5 689.1 L416.5 692.3 L418.5 695.6 L420.5 699.0 L422.5 702.4 L424.5 706.0 L426.5 709.7 L428.5 713.5 L430.5 717.4 L432.5 721.5 L434.5 725.7 L436.5 730.0 L438.5 734.4 L440.5 738.9 L442.5 743.5 L444.5 748.1 L446.5 752.6 L448.5 757.1 L450.5 761.7 L452.5 766.2 L454.5 770.5 L456.5 774.8 L458.5 778.9 L460.5 783.0 L462.5 787.0 L464.5 790.9 L466.5 794.9 L468.5 798.9 L470.5 802.8 L472.5 806.8 L474.5 810.7 L476.5 814.7 L478.5 818.8 L480.5 822.9 L482.5 826.9 L484.5 830.8 L486.5 834.6 L488.5 838.3 L490.5 841.8 L492.5 845.3 L494.5 848.8 L496.5 852.3 L498.5 855.8 L500.5 859.3 L502.5 862.7 L504.5 866.2 L506.5 869.5 L508.5 872.9 L510.5 876.1 L512.5 879.3 L514.5 882.3 L516.5 885.0 L518.5 887.6 L520.5 890.0 L522.5 892.2 L524.5 894.4 L526.5 896.5 L528.5 898.5 L530.5 900.5 L532.5 902.4 L534.5 904.2 L536.5 906.1 L538.5 907.9 L540.5 909.7 L542.5 911.6 L544.5 913.3 L546.5 915.1 L548.5 916.8 L550.5 918.5 L552.5 920.1 L554.5 921.7 L556.5 923.3 L558.5 924.8 L560.5 926.2 L562.5 927.5 L564.5 928.7 L566.5 929.8 L568.5 930.8 L570.5 931.7 L572.5 932.6 L574.5 933.4 L576.5 934.2 L578.5 934.9 L580.5 935.6 L582.5 936.2 L584.5 936.8 L586.5 937.3 L588.5 937.9 L590.5 938.5 L592.5 939.0 L594.5 939.5 L596.5 940.0 L598.5 940.5 L600.5 941.0 L602.5 941.5 L604.5 941.9 L606.5 942.4 L608.5 942.8 L610.5 943.3 L612.5 943.7 L614.5 944.1 L616.5 944.6 L618.5 945.0 L620.5 945.4 L622.5 945.8 L624.5 946.2 L626.5 946.5 L628.5 946.8 L630.5 947.2 L632.5 947.5 L634.5 947.7 L636.5 948.0 L638.5 948.2 L640.5 948.4 L642.5 948.6 L644.5 948.8 L646.5 948.9 L648.5 949.1 L650.5 949.2 L652.5 949.4 L654.5 949.6 L656.5 949.9 L658.5 950.1 L660.5 950.3 L662.5 950.4 L664.5 950.5 L666.5 950.5 L668.5 950.5 L670.5 950.4 L672.5 950.4 L674.5 950.3 L676.5 950.3 L678.5 950.2 L680.5 950.1 L682.5 950.0 L684.5 949.8 L686.5 949.7 L688.5 949.6 L690.5 949.6 L692.5 949.5 L694.5 949.5 L696.5 949.4 L698.5 949.4 L700.5 949.4 L702.5 949.4 L704.5 949.5 L706.5 949.6 L708.5 949.7 L710.5 949.9 L712.5 950.1 L714.5 950.2 L716.5 950.4 L718.5 950.5 L720.5 950.7 L722.5 950.8 L724.5 951.0 L726.5 951.2 L728.5 951.3 L730.5 951.5 L732.5 951.7 L734.5 951.8 L736.5 952.0 L738.5 952.2 L740.5 952.5 L742.5 952.8 L744.5 953.1 L746.5 953.5 L748.5 953.9 L750.5 954.2 L752.5 954.6 L754.5 954.9 L756.5 955.2 L758.5 955.6 L760.5 955.9 L762.5 956.2 L764.5 956.5 L766.5 956.8 L768.5 957.1 L770.5 957.4 L772.5 957.6 L774.5 957.9 L776.5 958.2 L778.5 958.5 L780.5 958.7 L782.5 959.0 L784.5 959.3 L786.5 959.6 L788.5 959.9 L790.5 960.2 L792.5 960.5 L794.5 960.7 L796.5 961.0 L798.5 961.3 L800.5 961.5 L802.5 961.7 L804.5 961.9 L806.5 962.0 L808.5 962.1 L810.5 962.1 L812.5 962.1 L814.5 962.1 L816.5 962.1 L818.5 962.1 L820.5 962.1 L822.5 962.1 L824.5 962.0 L826.5 962.0 L828.5 961.9 L830.5 961.9 L832.5 961.8 L834.5 961.7 L836.5 961.6 L838.5 961.4 L840.5 961.3 L842.5 961.2 L844.5 961.1 L846.5 961.2 L848.5 961.3 L850.5 961.4 L852.5 961.6 L854.5 961.9 L856.5 962.1 L858.5 962.4 L860.5 962.7 L862.5 963.1 L864.5 963.5 L866.5 963.9 L868.5 964.4 L870.5 964.9 L872.5 965.4 L874.5 966.1 L876.5 966.8 L878.5 967.5 L880.5 968.2 L882.5 968.9 L884.5 969.6 L886.5 970.3 L888.5 971.0 L890.5 971.6 L892.5 972.3 L894.5 973.0 L896.5 973.7 L898.5 974.4 L900.5 975.2 L902.5 976.0 L904.5 976.7 L906.5 977.4 L908.5 978.0 L910.5 978.6 L912.5 979.1 L914.5 979.6 L916.5 980.0 L918.5 980.5 L920.5 980.9 L922.5 981.2 L924.5 981.6 L926.5 981.9 L928.5 982.3 L930.5 982.5 L932.5 982.8 L934.5 983.0 L936.5 983.2 L938.5 983.4 L940.5 983.6 L942.5 983.8 L944.5 984.0 L946.5 984.2 L948.5 984.5 L950.5 984.9 L952.5 985.3 L954.5 985.7 L956.5 986.2 L958.5 986.7 L960.5 987.3 L962.5 988.1 L964.5 988.8 L966.5 989.7 L968.5 990.6 L970.5 991.6 L972.5 992.6 L974.5 993.7 L976.5 994.9 L978.5 996.2 L980.5 997.5 L982.5 998.7 L984.5 999.9 L986.5 1001.2 L988.5 1002.4 L990.5 1003.6 L992.5 1004.8 L994.5 1005.9 L996.5 1007.0 L998.5 1008.1 L1000.5 1009.1 L1002.5 1010.1 L1004.5 1011.0 L1006.5 1012.0 L1008.5 1013.1 L1010.5 1014.1 L1012.5 1015.3 L1014.5 1016.4 L1016.5 1017.5 L1018.5 1018.7 L1020.5 1019.8 L1022.5 1020.8 L1024.5 1021.9 L1026.5 1022.9 L1028.5 1024.0 L1030.5 1025.1 L1032.5 1026.2 L1034.5 1027.5 L1036.5 1028.8 L1038.5 1030.1 L1040.5 1031.5 L1042.5 1033.0 L1044.5 1034.5 L1046.5 1036.0 L1048.5 1037.5 L1050.5 1039.1 L1052.5 1040.7 L1054.5 1042.3 L1056.5 1043.9 L1058.5 1045.5 L1060.5 1047.1 L1062.5 1048.6 L1064.5 1050.2 L1066.5 1051.7 L1068.5 1053.2 L1070.5 1054.7 L1072.5 1056.2 L1074.5 1057.7 L1076.5 1059.1 L1078.5 1060.5 L1080.5 1062.0 L1082.5 1063.5 L1084.5 1065.1 L1086.5 1066.8 L1088.5 1068.5 L1090.5 1070.4 L1092.5 1072.2 L1094.5 1074.1 L1096.5 1076.0 L1098.5 1077.9 L1100.5 1079.9 L1102.5 1081.9 L1104.5 1084.0 L1106.5 1086.0 L1108.5 1088.0 L1110.5 1090.0 L1112.5 1092.0 L1114.5 1093.9 L1116.5 1095.9 L1118.5 1097.9 L1120.5 1100.0 L1122.5 1102.1 L1124.5 1104.2 L1126.5 1106.4 L1128.5 1108.6 L1130.5 1110.8 L1132.5 1113.1 L1134.5 1115.3 L1136.5 1117.5 L1138.5 1119.7 L1140.5 1122.0 L1142.5 1124.2 L1144.5 1126.3 L1146.5 1128.5 L1148.5 1130.5 L1150.5 1132.6 L1152.5 1134.6 L1154.5 1136.6 L1156.5 1138.5 L1158.5 1140.5 L1160.5 1142.6 L1162.5 1144.6 L1164.5 1146.7 L1166.5 1148.8 L1168.5 1150.7 L1170.5 1152.6 L1172.5 1154.2 L1174.5 1155.7 L1176.5 1157.1 L1178.5 1158.5 L1180.5 1159.8 L1182.5 1161.2 L1184.5 1162.6 L1186.5 1164.1 L1188.5 1165.7 L1190.5 1167.3 L1192.5 1168.9 L1194.5 1170.6 L1196.5 1172.2 L1198.5 1174.0 L1200.5 1175.8 L1202.5 1177.6 L1204.5 1179.5 L1206.5 1181.3 L1208.5 1183.1 L1210.5 1184.8 L1212.5 1186.4 L1214.5 1188.1 L1216.5 1189.7 L1218.5 1191.2 L1220.5 1192.8 L1222.5 1194.3 L1224.5 1195.7 L1226.5 1197.1 L1228.5 1198.5 L1230.5 1199.9 L1232.5 1201.3 L1234.5 1202.7 L1236.5 1204.1 L1238.5 1205.6 L1240.5 1207.0 L1242.5 1208.5 L1244.5 1209.9 L1246.5 1211.4 L1248.5 1212.9 L1250.5 1214.4 L1252.5 1216.0 L1254.5 1217.5 L1256.5 1219.0 L1258.5 1220.4 L1260.5 1221.8 L1262.5 1223.1 L1264.5 1224.4 L1266.5 1225.6 L1268.5 1226.8 L1270.5 1228.0 L1272.5 1229.2 L1274.5 1230.4 L1276.5 1231.7 L1278.5 1232.9 L1280.5 1234.1 L1282.5 1235.3 L1284.5 1236.5 L1286.5 1237.7 L1288.5 1238.8 L1290.5 1239.8 L1292.5 1240.8 L1294.5 1241.8 L1296.5 1242.8 L1298.5 1243.8 L1300.5 1244.7 L1302.5 1245.7 L1304.5 1246.6 L1306.5 1247.5 L1308.5 1248.4 L1310.5 1249.3 L1312.5 1250.2 L1314.5 1251.1 L1316.5 1252.0 L1318.5 1252.9 L1320.5 1253.7 L1322.5 1254.6 L1324.5 1255.5 L1326.5 1256.3 L1328.5 1257.1 L1330.5 1258.0 L1332.5 1258.8 L1334.5 1259.6 L1336.5 1260.4 L1338.5 1261.2 L1340.5 1261.9 L1342.5 1262.7 L1344.5 1263.4 L1346.5 1264.1 L1348.5 1264.8 L1350.5 1265.4 L1352.5 1266.0 L1354.5 1266.7 L1356.5 1267.2 L1358.5 1267.8 L1360.5 1268.4 L1362.5 1269.0 L1364.5 1269.6 L1366.5 1270.2 L1368.5 1270.8 L1370.5 1271.4 L1372.5 1272.0 L1374.5 1272.6 L1376.5 1273.2 L1378.5 1273.7 L1380.5 1274.2 L1382.5 1274.7 L1384.5 1275.1 L1386.5 1275.6 L1388.5 1276.1 L1390.5 1276.5 L1392.5 1277.0 L1394.5 1277.4 L1396.5 1277.9 L1398.5 1278.4 L1400.5 1278.9 L1402.5 1279.4 L1404.5 1279.9 L1406.5 1280.4 L1408.5 1281.0 L1410.5 1281.5 L1412.5 1282.1 L1414.5 1282.6 L1416.5 1283.1 L1418.5 1283.7 L1420.5 1284.2 L1422.5 1284.7 L1424.5 1285.2 L1426.5 1285.7 L1428.5 1286.1 L1430.5 1286.6 L1432.5 1287.0 L1434.5 1287.5 L1436.5 1287.9 L1438.5 1288.3 L1440.5 1288.7 L1442.5 1289.2 L1444.5 1289.6 L1446.5 1290.0 L1448.5 1290.5 L1450.5 1290.9 L1452.5 1291.4 L1454.5 1291.9 L1456.5 1292.4 L1458.5 1292.9 L1460.5 1293.4 L1462.5 1293.9 L1464.5 1294.4 L1466.5 1295.0 L1468.5 1295.5 L1470.5 1296.0 L1472.5 1296.5 L1474.5 1297.0 L1476.5 1297.5 L1478.5 1297.9 L1480.5 1298.4 L1482.5 1298.8 L1484.5 1299.2 L1486.5 1299.7 L1488.5 1300.1 L1490.5 1300.5 L1492.5 1301.0 L1494.5 1301.4 L1496.5 1301.9 L1498.5 1302.4 L1500.5 1302.9 L1502.5 1303.4 L1504.5 1304.0 L1506.5 1304.6 L1508.5 1305.2 L1510.5 1305.9 L1512.5 1306.5 L1514.5 1307.2 L1516.5 1307.8 L1518.5 1308.5 L1520.5 1309.2 L1522.5 1309.8 L1524.5 1310.5 L1526.5 1311.2 L1528.5 1311.8 L1530.5 1312.5 L1532.5 1313.2 L1534.5 1313.9 L1536.5 1314.6 L1538.5 1315.3 L1540.5 1316.0 L1542.5 1316.7 L1544.5 1317.3 L1546.5 1317.9 L1548.5 1318.6 L1550.5 1319.1 L1552.5 1319.7 L1554.5 1320.2 L1556.5 1320.7 L1558.5 1321.2 L1560.5 1321.7 L1562.5 1322.1 L1564.5 1322.6 L1566.5 1323.0 L1568.5 1323.5 L1570.5 1323.9 L1572.5 1324.3 L1574.5 1324.7 L1576.5 1325.0 L1578.5 1325.4 L1580.5 1325.8 L1582.5 1326.1 L1584.5 1326.5 L1586.5 1326.8 L1588.5 1327.1 L1590.5 1327.4 L1592.5 1327.7 L1594.5 1328.0 L1596.5 1328.3 L1598.5 1328.6 L1600.5 1328.9 L1602.5 1329.2 L1604.5 1329.5 L1606.5 1329.7 L1608.5 1330.0 L1610.5 1330.3 L1612.5 1330.6 L1614.5 1330.8 L1616.5 1331.1 L1618.5 1331.3 L1620.5 1331.6 L1622.5 1331.8 L1624.5 1332.1 L1626.5 1332.3 L1628.5 1332.5 L1630.5 1332.7 L1632.5 1332.9 L1634.5 1333.1 L1636.5 1333.3 L1638.5 1333.5 L1640.5 1333.7 L1642.5 1333.9 L1644.5 1334.1 L1646.5 1334.3 L1648.5 1334.5 L1650.5 1334.7 L1652.5 1334.9 L1654.5 1335.1 L1656.5 1335.4 L1658.5 1335.6 L1660.5 1335.9 L1662.5 1336.1 L1664.5 1336.4 L1666.5 1336.6 L1668.5 1336.9 L1670.5 1337.1 L1672.5 1337.4 L1674.5 1337.6 L1676.5 1337.8 L1678.5 1338.0 L1680.5 1338.2 L1682.5 1338.4 L1684.5 1338.5 L1686.5 1338.7 L1688.5 1338.9 L1690.5 1339.1 L1692.5 1339.2 L1694.5 1339.4 L1696.5 1339.6 L1698.5 1339.7 L1700.5 1339.9 L1702.5 1340.1 L1704.5 1340.2 L1706.5 1340.4 L1708.5 1340.6 L1710.5 1340.7 L1712.5 1340.9 L1714.5 1341.0 L1716.5 1341.2 L1718.5 1341.3 L1720.5 1341.5 L1722.5 1341.7 L1724.5 1341.8 L1726.5 1342.0 L1728.5 1342.1 L1730.5 1342.3 L1732.5 1342.5 L1734.5 1342.7 L1736.5 1342.8 L1738.5 1343.0 L1740.5 1343.2 L1742.5 1343.3 L1744.5 1343.5 L1746.5 1343.6 L1748.5 1343.8 L1750.5 1343.9 L1752.5 1344.0 L1754.5 1344.1 L1756.5 1344.2 L1758.5 1344.3 L1760.5 1344.4 L1762.5 1344.5 L1764.5 1344.6 L1766.5 1344.6 L1768.5 1344.7 L1770.5 1344.8 L1772.5 1344.9 L1774.5 1345.0 L1776.5 1345.1 L1778.5 1345.2 L1780.5 1345.3 L1782.5 1345.4 L1784.5 1345.5 L1786.5 1345.6 L1788.5 1345.7 L1790.5 1345.8 L1792.5 1345.9 L1794.5 1346.0 L1796.5 1346.2 L1798.5 1346.3 L1800.5 1346.4 L1802.5 1346.5 L1804.5 1346.6 L1806.5 1346.7 L1808.5 1346.8 L1810.5 1346.9 L1812.5 1347.0 L1814.5 1347.1 L1816.5 1347.3 L1818.5 1347.4 L1820.5 1347.5 L1822.5 1347.6 L1824.5 1347.7 L1826.5 1347.8 L1828.5 1347.9 L1830.5 1348.1 L1832.5 1348.2 L1834.5 1348.3 L1836.5 1348.4 L1838.5 1348.5 L1840.5 1348.6 L1842.5 1348.8 L1844.5 1348.9 L1846.5 1349.0 L1848.5 1349.1 L1850.5 1349.2 L1852.5 1349.3 L1854.5 1349.5 L1856.5 1349.6 L1858.5 1349.7 L1860.5 1349.8 L1862.5 1350.0 L1864.5 1350.1 L1866.5 1350.2 L1868.5 1350.3 L1870.5 1350.5 L1872.5 1350.6 L1874.5 1350.7 L1876.5 1350.9 L1878.5 1351.0 L1880.5 1351.1 L1882.5 1351.3 L1884.5 1351.4 L1886.5 1351.5 L1888.5 1351.6 L1890.5 1351.8 L1892.5 1351.9 L1894.5 1352.0 L1896.5 1352.2 L1898.5 1352.3 L1900.5 1352.4 L1902.5 1352.6 L1904.5 1352.7 L1906.5 1352.8 L1908.5 1352.9 L1910.5 1353.1 L1912.5 1353.2 L1914.5 1353.3 L1916.5 1353.4 L1918.5 1353.5 L1920.5 1353.7 L1922.5 1353.8 L1924.5 1353.9 L1926.5 1354.0 L1928.5 1354.1 L1930.5 1354.2 L1932.5 1354.3 L1934.5 1354.4 L1936.5 1354.5 L1938.5 1354.7 L1940.5 1354.8 L1942.5 1354.9 L1944.5 1355.0 L1946.5 1355.1 L1948.5 1355.2 L1950.5 1355.3 L1952.5 1355.4 L1954.5 1355.5 L1956.5 1355.6 L1958.5 1355.7 L1960.5 1355.8 L1962.5 1355.9 L1964.5 1356.0 L1966.5 1356.1 L1968.5 1356.2 L1970.5 1356.3 L1972.5 1356.3 L1974.5 1356.4 L1976.5 1356.5 L1978.5 1356.6 L1980.5 1356.7 L1982.5 1356.8 L1984.5 1356.9 L1986.5 1357.0 L1988.5 1357.1 L1990.5 1357.2 L1992.5 1357.2 L1994.5 1357.3 L1996.5 1357.4 L1998.5 1357.5 L2000.5 1357.6 L2002.5 1357.6 L2003.5 1357.7"/>
<path stroke="#008000" stroke-width="6" shape-rendering="crispEdges" d="M258.5 622.8 L260.5 622.8 L262.5 622.7 L264.5 622.7 L266.5 622.6 L268.5 622.5 L270.5 622.4 L272.5 622.3 L274.5 622.1 L276.5 621.9 L278.5 621.7 L280.5 621.4 L282.5 621.0 L284.5 620.3 L286.5 619.6 L288.5 618.9 L290.5 618.3 L292.5 617.8 L294.5 617.3 L296.5 616.8 L298.5 616.5 L300.5 616.2 L302.5 616.1 L304.5 616.0 L306.5 615.9 L308.5 615.9 L310.5 615.8 L312.5 615.8 L314.5 615.8 L316.5 615.9 L318.5 616.0 L320.5 616.2 L322.5 616.5 L324.5 616.8 L326.5 617.1 L328.5 617.5 L330.5 617.8 L332.5 618.2 L334.5 618.6 L336.5 619.1 L338.5 619.6 L340.5 620.1 L342.5 620.7 L344.5 621.3 L346.5 622.0 L348.5 622.8 L350.5 623.7 L352.5 624.7 L354.5 625.7 L356.5 626.8 L358.5 628.0 L360.5 629.2 L362.5 630.5 L364.5 631.8 L366.5 633.2 L368.5 634.7 L370.5 636.3 L372.5 637.9 L374.5 639.6 L376.5 641.3 L378.5 643.2 L380.5 645.1 L382.5 647.1 L384.5 649.2 L386.5 651.3 L388.5 653.5 L390.5 655.7 L392.5 658.0 L394.5 660.3 L396.5 662.8 L398.5 665.3 L400.5 667.9 L402.5 670.7 L404.5 673.5 L406.5 676.5 L408.5 679.6 L410.5 682.7 L412.5 685.9 L414.5 689.1 L416.5 692.3 L418.5 695.6 L420.5 699.0 L422.5 702.4 L424.5 706.0 L426.5 709.7 L428.5 713.5 L430.5 717.4 L432.5 721.5 L434.5 725.7 L436.5 730.0 L438.5 734.4 L440.5 738.9 L442.5 743.5 L444.5 748.1 L446.5 752.6 L448.5 757.1 L450.5 761.7 L452.5 766.2 L454.5 770.5 L456.5 774.8 L458.5 778.9 L460.5 783.0 L462.5 787.0 L464.5 790.9 L466.5 794.9 L468.5 798.9 L470.5 802.8 L472.5 806.8 L474.5 810.7 L476.5 814.7 L478.5 818.8 L480.5 822.9 L482.5 826.9 L484.5 830.8 L486.5 834.6 L488.5 838.3 L490.5 841.8 L492.5 845.3 L494.5 848.8 L496.5 852.3 L498.5 855.8 L500.5 859.3 L502.5 862.7 L504.5 866.2 L506.5 869.5 L508.5 872.9 L510.5 876.1 L512.5 879.3 L514.5 882.3 L516.5 885.0 L518.5 887.6 L520.5 890.0 L522.5 892.2 L524.5 894.4 L526.5 896.5 L528.5 898.5 L530.5 900.5 L532.5 902.4 L534.5 904.2 L536.5 906.1 L538.5 907.9 L540.5 909.7 L542.5 911.6 L544.5 913.3 L546.5 915.1 L548.5 916.8 L550.5 918.5 L552.5 920.1 L554.5 921.7 L556.5 923.3 L558.5 924.8 L560.5 926.2 L562.5 927.5 L564.5 928.7 L566.5 929.8 L568.5 930.8 L570.5 931.7 L572.5 932.6 L574.5 933.4 L576.5 934.2 L578.5 934.9 L580.5 935.6 L582.5 936.2 L584.5 936.8 L586.5 937.3 L588.5 937.9 L590.5 938.5 L592.5 939.0 L594.5 939.5 L596.5 940.0 L598.5 940.5 L600.5 941.0 L602.5 941.5 L604.5 941.9 L606.5 942.4 L608.5 942.8 L610.5 943.3 L612.5 943.7 L614.5 944.1 L616.5 944.6 L618.5 945.0 L620.5 945.4 L622.5 945.8 L624.5 946.2 L626.5 946.5 L628.5 946.8 L630.5 947.2 L632.5 947.5 L634.5 947.7 L636.5 948.0 L638.5 948.2 L640.5 948.4 L642.5 948.6 L644.5 948.8 L646.5 948.9 L648.5 949.1 L650.5 949.2 L652.5 949.4 L654.5 949.6 L656.5 949.9 L658.5 950.1 L660.5 950.3 L662.5 950.4 L664.5 950.5 L666.5 950.5 L668.5 950.5 L670.5 950.4 L672.5 950.4 L674.5 950.3 L676.5 950.3 L678.5 950.2 L680.5 950.1 L682.5 950.0 L684.5 949.8 L686.5 949.7 L688.5 949.6 L690.5 949.6 L692.5 949.5 L694.5 949.5 L696.5 949.4 L698.5 949.4 L700.5 949.4 L702.5 949.4 L704.5 949.5 L706.5 949.6 L708.5 949.7 L710.5 949.9 L712.5 950.1 L714.5 950.2 L716.5 950.4 L718.5 950.5 L720.5 950.7 L722.5 950.8 L724.5 951.0 L726.5 951.2 L728.5 951.3 L730.5 951.5 L732.5 951.7 L734.5 951.8 L736.5 952.0 L738.5 952.2 L740.5 952.5 L742.5 952.8 L744.5 953.1 L746.5 953.5 L748.5 953.9 L750.5 954.2 L752.5 954.6 L754.5 954.9 L756.5 955.2 L758.5 955.6 L760.5 955.9 L762.5 956.2 L764.5 956.5 L766.5 956.8 L768.5 957.1 L770.5 957.4 L772.5 957.6 L774.5 957.9 L776.5 958.2 L778.5 958.5 L780.5 958.7 L782.5 959.0 L784.5 959.3 L786.5 959.6 L788.5 959.9 L790.5 960.2 L792.5 960.5 L794.5 960.7 L796.5 961.0 L798.5 961.3 L800.5 961.5 L802.5 961.7 L804.5 961.9 L806.5 962.0 L808.5 962.1 L810.5 962.1 L812.5 962.1 L814.5 962.1 L816.5 962.1 L818.5 962.1 L820.5 962.1 L822.5 962.1 L824.5 962.0 L826.5 962.0 L828.5 961.9 L830.5 961.9 L832.5 961.8 L834.5 961.7 L836.5 961.6 L838.5 961.4 L840.5 961.3 L842.5 961.2 L844.5 961.1 L846.5 961.2 L848.5 961.3 L850.5 961.4 L852.5 961.6 L854.5 961.9 L856.5 962.1 L858.5 962.4 L860.5 962.7 L862.5 963.1 L864.5 963.5 L866.5 963.9 L868.5 964.4 L870.5 964.9 L872.5 965.4 L874.5 966.1 L876.5 966.8 L878.5 967.5 L880.5 968.2 L882.5 968.9 L884.5 969.6 L886.5 970.3 L888.5 971.0 L890.5 971.6 L892.5 972.3 L894.5 973.0 L896.5 973.7 L898.5 974.4 L900.5 975.2 L902.5 976.0 L904.5 976.7 L906.5 977.4 L908.5 978.0 L910.5 978.6 L912.5 979.1 L914.5 979.6 L916.5 980.0 L918.5 980.5 L920.5 980.9 L922.5 981.2 L924.5 981.6 L926.5 981.9 L928.5 982.3 L930.5 982.5 L932.5 982.8 L934.5 983.0 L936.5 983.2 L938.5 983.4 L940.5 983.6 L942.5 983.8 L944.5 984.0 L946.5 984.2 L948.5 984.5 L950.5 984.9 L952.5 985.3 L954.5 985.7 L956.5 986.2 L958.5 986.7 L960.5 987.3 L962.5 988.1 L964.5 988.8 L966.5 989.7 L968.5 990.6 L970.5 991.6 L972.5 992.6 L974.5 993.7 L976.5 994.9 L978.5 996.2 L980.5 997.5 L982.5 998.7 L984.5 999.9 L986.5 1001.2 L988.5 1002.4 L990.5 1003.6 L992.5 1004.8 L994.5 1005.9 L996.5 1007.0 L998.5 1008.1 L1000.5 1009.1 L1002.5 1010.1 L1004.5 1011.0 L1006.5 1012.0 L1008.5 1013.1 L1010.5 1014.1 L1012.5 1015.3 L1014.5 1016.4 L1016.5 1017.5 L1018.5 1018.7 L1020.5 1019.8 L1022.5 1020.8 L1024.5 1021.9 L1026.5 1022.9 L1028.5 1024.0 L1030.5 1025.1 L1032.5 1026.2 L1034.5 1027.5 L1036.5 1028.8 L1038.5 1030.1 L1040.5 1031.5 L1042.5 1033.0 L1044.5 1034.5 L1046.5 1036.0 L1048.5 1037.5 L1050.5 1039.1 L1052.5 1040.7 L1054.5 1042.3 L1056.5 1043.9 L1058.5 1045.5 L1060.5 1047.1 L1062.5 1048.6 L1064.5 1050.2 L1066.5 1051.7 L1068.5 1053.2 L1070.5 1054.7 L1072.5 1056.2 L1074.5 1057.7 L1076.5 1059.1 L1078.5 1060.5 L1080.5 1062.0 L1082.5 1063.5 L1084.5 1065.1 L1086.5 1066.8 L1088.5 1068.5 L1090.5 1070.4 L1092.5 1072.2 L1094.5 1074.1 L1096.5 1076.0 L1098.5 1077.9 L1100.5 1079.9 L1102.5 1081.9 L1104.5 1084.0 L1106.5 1086.0 L1108.5 1088.0 L1110.5 1090.0 L1112.5 1092.0 L1114.5 1093.9 L1116.5 1095.9 L1118.5 1097.9 L1120.5 1100.0 L1122.5 1102.1 L1124.5 1104.2 L1126.5 1106.4 L1128.5 1108.6 L1130.5 1110.8 L1132.5 1113.1 L1134.5 1115.3 L1136.5 1117.5 L1138.5 1119.7 L1140.5 1122.0 L1142.5 1124.2 L1144.5 1126.3 L1146.5 1128.5 L1148.5 1130.5 L1150.5 1132.6 L1152.5 1134.6 L1154.5 1136.6 L1156.5 1138.5 L1158.5 1140.5 L1160.5 1142.6 L1162.5 1144.6 L1164.5 1146.7 L1166.5 1148.8 L1168.5 1150.7 L1170.5 1152.6 L1172.5 1154.2 L1174.5 1155.7 L1176.5 1157.1 L1178.5 1158.5 L1180.5 1159.8 L1182.5 1161.2 L1184.5 1162.6 L1186.5 1164.1 L1188.5 1165.7 L1190.5 1167.3 L1192.5 1168.9 L1194.5 1170.6 L1196.5 1172.2 L1198.5 1174.0 L1200.5 1175.8 L1202.5 1177.6 L1204.5 1179.5 L1206.5 1181.3 L1208.5 1183.1 L1210.5 1184.8 L1212.5 1186.4 L1214.5 1188.1 L1216.5 1189.7 L1218.5 1191.2 L1220.5 1192.8 L1222.5 1194.3 L1224.5 1195.7 L1226.5 1197.1 L1228.5 1198.5 L1230.5 1199.9 L1232.5 1201.3 L1234.5 1202.7 L1236.5 1204.1 L1238.5 1205.6 L1240.5 1207.0 L1242.5 1208.5 L1244.5 1209.9 L1246.5 1211.4 L1248.5 1212.9 L1250.5 1214.4 L1252.5 1216.0 L1254.5 1217.5 L1256.5 1219.0 L1258.5 1220.4 L1260.5 1221.8 L1262.5 1223.1 L1264.5 1224.4 L1266.5 1225.6 L1268.5 1226.8 L1270.5 1228.0 L1272.5 1229.2 L1274.5 1230.4 L1276.5 1231.7 L1278.5 1232.9 L1280.5 1234.1 L1282.5 1235.3 L1284.5 1236.5 L1286.5 1237.7 L1288.5 1238.8 L1290.5 1239.8 L1292.5 1240.8 L1294.5 1241.8 L1296.5 1242.8 L1298.5 1243.8 L1300.5 1244.7 L1302.5 1245.7 L1304.5 1246.6 L1306.5 1247.5 L1308.5 1248.4 L1310.5 1249.3 L1312.5 1250.2 L1314.5 1251.1 L1316.5 1252.0 L1318.5 1252.9 L1320.5 1253.7 L1322.5 1254.6 L1324.5 1255.5 L1326.5 1256.3 L1328.5 1257.1 L1330.5 1258.0 L1332.5 1258.8 L1334.5 1259.6 L1336.5 1260.4 L1338.5 1261.2 L1340.5 1261.9 L1342.5 1262.7 L1344.5 1263.4 L1346.5 1264.1 L1348.5 1264.8 L1350.5 1265.4 L1352.5 1266.0 L1354.5 1266.7 L1356.5 1267.2 L1358.5 1267.8 L1360.5 1268.4 L1362.5 1269.0 L1364.5 1269.6 L1366.5 1270.2 L1368.5 1270.8 L1370.5 1271.4 L1372.5 1272.0 L1374.5 1272.6 L1376.5 1273.2 L1378.5 1273.7 L1380.5 1274.2 L1382.5 1274.7 L1384.5 1275.1 L1386.5 1275.6 L1388.5 1276.1 L1390.5 1276.5 L1392.5 1277.0 L1394.5 1277.4 L1396.5 1277.9 L1398.5 1278.4 L1400.5 1278.9 L1402.5 1279.4 L1404.5 1279.9 L1406.5 1280.4 L1408.5 1281.0 L1410.5 1281.5 L1412.5 1282.1 L1414.5 1282.6 L1416.5 1283.1 L1418.5 1283.7 L1420.5 1284.2 L1422.5 1284.7 L1424.5 1285.2 L1426.5 1285.7 L1428.5 1286.1 L1430.5 1286.6 L1432.5 1287.0 L1434.5 1287.5 L1436.5 1287.9 L1438.5 1288.3 L1440.5 1288.7 L1442.5 1289.2 L1444.5 1289.6 L1446.5 1290.0 L1448.5 1290.5 L1450.5 1290.9 L1452.5 1291.4 L1454.5 1291.9 L1456.5 1292.4 L1458.5 1292.9 L1460.5 1293.4 L1462.5 1293.9 L1464.5 1294.4 L1466.5 1295.0 L1468.5 1295.5 L1470.5 1296.0 L1472.5 1296.5 L1474.5 1297.0 L1476.5 1297.5 L1478.5 1297.9 L1480.5 1298.4 L1482.5 1298.8 L1484.5 1299.2 L1486.5 1299.7 L1488.5 1300.1 L1490.5 1300.5 L1492.5 1301.0 L1494.5 1301.4 L1496.5 1301.9 L1498.5 1302.4 L1500.5 1302.9 L1502.5 1303.4 L1504.5 1304.0 L1506.5 1304.6 L1508.5 1305.2 L1510.5 1305.9 L1512.5 1306.5 L1514.5 1307.2 L1516.5 1307.8 L1518.5 1308.5 L1520.5 1309.2 L1522.5 1309.8 L1524.5 1310.5 L1526.5 1311.2 L1528.5 1311.8 L1530.5 1312.5 L1532.5 1313.2 L1534.5 1313.9 L1536.5 1314.6 L1538.5 1315.3 L1540.5 1316.0 L1542.5 1316.7 L1544.5 1317.3 L1546.5 1317.9 L1548.5 1318.6 L1550.5 1319.1 L1552.5 1319.7 L1554.5 1320.2 L1556.5 1320.7 L1558.5 1321.2 L1560.5 1321.7 L1562.5 1322.1 L1564.5 1322.6 L1566.5 1323.0 L1568.5 1323.5 L1570.5 1323.9 L1572.5 1324.3 L1574.5 1324.7 L1576.5 1325.0 L1578.5 1325.4 L1580.5 1325.8 L1582.5 1326.1 L1584.5 1326.5 L1586.5 1326.8 L1588.5 1327.1 L1590.5 1327.4 L1592.5 1327.7 L1594.5 1328.0 L1596.5 1328.3 L1598.5 1328.6 L1600.5 1328.9 L1602.5 1329.2 L1604.5 1329.5 L1606.5 1329.7 L1608.5 1330.0 L1610.5 1330.3 L1612.5 1330.6 L1614.5 1330.8 L1616.5 1331.1 L1618.5 1331.3 L1620.5 1331.6 L1622.5 1331.8 L1624.5 1332.1 L1626.5 1332.3 L1628.5 1332.5 L1630.5 1332.7 L1632.5 1332.9 L1634.5 1333.1 L1636.5 1333.3 L1638.5 1333.5 L1640.5 1333.7 L1642.5 1333.9 L1644.5 1334.1 L1646.5 1334.3 L1648.5 1334.5 L1650.5 1334.7 L1652.5 1334.9 L1654.5 1335.1 L1656.5 1335.4 L1658.5 1335.6 L1660.5 1335.9 L1662.5 1336.1 L1664.5 1336.4 L1666.5 1336.6 L1668.5 1336.9 L1670.5 1337.1 L1672.5 1337.4 L1674.5 1337.6 L1676.5 1337.8 L1678.5 1338.0 L1680.5 1338.2 L1682.5 1338.4 L1684.5 1338.5 L1686.5 1338.7 L1688.5 1338.9 L1690.5 1339.1 L1692.5 1339.2 L1694.5 1339.4 L1696.5 1339.6 L1698.5 1339.7 L1700.5 1339.9 L1702.5 1340.1 L1704.5 1340.2 L1706.5 1340.4 L1708.5 1340.6 L1710.5 1340.7 L1712.5 1340.9 L1714.5 1341.0 L1716.5 1341.2 L1718.5 1341.3 L1720.5 1341.5 L1722.5 1341.7 L1724.5 1341.8 L1726.5 1342.0 L1728.5 1342.1 L1730.5 1342.3 L1732.5 1342.5 L1734.5 1342.7 L1736.5 1342.8 L1738.5 1343.0 L1740.5 1343.2 L1742.5 1343.3 L1744.5 1343.5 L1746.5 1343.6 L1748.5 1343.8 L1750.5 1343.9 L1752.5 1344.0 L1754.5 1344.1 L1756.5 1344.2 L1758.5 1344.3 L1760.5 1344.4 L1762.5 1344.5 L1764.5 1344.6 L1766.5 1344.6 L1768.5 1344.7 L1770.5 1344.8 L1772.5 1344.9 L1774.5 1345.0 L1776.5 1345.1 L1778.5 1345.2 L1780.5 1345.3 L1782.5 1345.4 L1784.5 1345.5 L1786.5 1345.6 L1788.5 1345.7 L1790.5 1345.8 L1792.5 1345.9 L1794.5 1346.0 L1796.5 1346.2 L1798.5 1346.3 L1800.5 1346.4 L1802.5 1346.5 L1804.5 1346.6 L1806.5 1346.7 L1808.5 1346.8 L1810.5 1346.9 L1812.5 1347.0 L1814.5 1347.1 L1816.5 1347.3 L1818.5 1347.4 L1820.5 1347.5 L1822.5 1347.6 L1824.5 1347.7 L1826.5 1347.8 L1828.5 1347.9 L1830.5 1348.1 L1832.5 1348.2 L1834.5 1348.3 L1836.5 1348.4 L1838.5 1348.5 L1840.5 1348.6 L1842.5 1348.8 L1844.5 1348.9 L1846.5 1349.0 L1848.5 1349.1 L1850.5 1349.2 L1852.5 1349.3 L1854.5 1349.5 L1856.5 1349.6 L1858.5 1349.7 L1860.5 1349.8 L1862.5 1350.0 L1864.5 1350.1 L1866.5 1350.2 L1868.5 1350.3 L1870.5 1350.5 L1872.5 1350.6 L1874.5 1350.7 L1876.5 1350.9 L1878.5 1351.0 L1880.5 1351.1 L1882.5 1351.3 L1884.5 1351.4 L1886.5 1351.5 L1888.5 1351.6 L1890.5 1351.8 L1892.5 1351.9 L1894.5 1352.0 L1896.5 1352.2 L1898.5 1352.3 L1900.5 1352.4 L1902.5 1352.6 L1904.5 1352.7 L1906.5 1352.8 L1908.5 1352.9 L1910.5 1353.1 L1912.5 1353.2 L1914.5 1353.3 L1916.5 1353.4 L1918.5 1353.5 L1920.5 1353.7 L1922.5 1353.8 L1924.5 1353.9 L1926.5 1354.0 L1928.5 1354.1 L1930.5 1354.2 L1932.5 1354.3 L1934.5 1354.4 L1936.5 1354.5 L1938.5 1354.7 L1940.5 1354.8 L1942.5 1354.9 L1944.5 1355.0 L1946.5 1355.1 L1948.5 1355.2 L1950.5 1355.3 L1952.5 1355.4 L1954.5 1355.5 L1956.5 1355.6 L1958.5 1355.7 L1960.5 1355.8 L1962.5 1355.9 L1964.5 1356.0 L1966.5 1356.1 L1968.5 1356.2 L1970.5 1356.3 L1972.5 1356.3 L1974.5 1356.4 L1976.5 1356.5 L1978.5 1356.6 L1980.5 1356.7 L1982.5 1356.8 L1984.5 1356.9 L1986.5 1357.0 L1988.5 1357.1 L1990.5 1357.2 L1992.5 1357.2 L1994.5 1357.3 L1996.5 1357.4 L1998.5 1357.5 L2000.5 1357.6 L2002.5 1357.6 L2003.5 1357.7"/>
<path stroke="#FF8000" stroke-width="4.6" d="M258.5 680.5 L260.5 680.5 L262.5 680.5 L264.5 680.5 L266.5 680.4 L268.5 680.4 L270.5 680.3 L272.5 680.3 L274.5 680.2 L276.5 680.1 L278.5 680.1 L280.5 679.9 L282.5 679.8 L284.5 679.5 L286.5 679.2 L288.5 678.9 L290.5 678.6 L292.5 678.3 L294.5 678.1 L296.5 677.9 L298.5 677.8 L300.5 677.7 L302.5 677.6 L304.5 677.6 L306.5 677.5 L308.5 677.6 L310.5 677.8 L312.5 678.1 L314.5 678.5 L316.5 679.0 L318.5 679.5 L320.5 680.1 L322.5 680.7 L324.5 681.4 L326.5 682.2 L328.5 683.1 L330.5 684.0 L332.5 684.9 L334.5 685.8 L336.5 686.8 L338.5 687.9 L340.5 689.0 L342.5 690.1 L344.5 691.3 L346.5 692.5 L348.5 693.8 L350.5 695.1 L352.5 696.5 L354.5 698.0 L356.5 699.5 L358.5 701.2 L360.5 703.0 L362.5 704.9 L364.5 706.9 L366.5 709.0 L368.5 711.0 L370.5 713.1 L372.5 715.1 L374.5 717.0 L376.5 719.0 L378.5 721.0 L380.5 723.1 L382.5 725.2 L384.5 727.4 L386.5 729.7 L388.5 732.0 L390.5 734.4 L392.5 736.9 L394.5 739.5 L396.5 742.2 L398.5 745.0 L400.5 747.9 L402.5 751.0 L404.5 754.1 L406.5 757.4 L408.5 760.8 L410.5 764.3 L412.5 767.9 L414.5 771.4 L416.5 774.9 L418.5 778.4 L420.5 781.8 L422.5 785.3 L424.5 788.8 L426.5 792.4 L428.5 796.1 L430.5 799.9 L432.5 803.7 L434.5 807.5 L436.5 811.3 L438.5 815.1 L440.5 818.8 L442.5 822.6 L444.5 826.3 L446.5 830.1 L448.5 833.8 L450.5 837.5 L452.5 841.3 L454.5 845.0 L456.5 848.7 L458.5 852.5 L460.5 856.3 L462.5 860.1 L464.5 863.8 L466.5 867.4 L468.5 871.0 L470.5 874.6 L472.5 878.1 L474.5 881.4 L476.5 884.7 L478.5 887.8 L480.5 890.8 L482.5 893.8 L484.5 896.7 L486.5 899.7 L488.5 902.8 L490.5 905.8 L492.5 908.8 L494.5 911.8 L496.5 914.7 L498.5 917.6 L500.5 920.4 L502.5 923.1 L504.5 925.7 L506.5 928.3 L508.5 930.8 L510.5 933.1 L512.5 935.5 L514.5 937.8 L516.5 940.1 L518.5 942.3 L520.5 944.6 L522.5 946.8 L524.5 948.9 L526.5 951.0 L528.5 952.9 L530.5 954.8 L532.5 956.6 L534.5 958.4 L536.5 960.1 L538.5 961.9 L540.5 963.6 L542.5 965.3 L544.5 967.0 L546.5 968.7 L548.5 970.3 L550.5 971.8 L552.5 973.2 L554.5 974.4 L556.5 975.5 L558.5 976.6 L560.5 977.6 L562.5 978.5 L564.5 979.4 L566.5 980.2 L568.5 980.9 L570.5 981.6 L572.5 982.2 L574.5 982.9 L576.5 983.5 L578.5 984.1 L580.5 984.7 L582.5 985.4 L584.5 986.0 L586.5 986.6 L588.5 987.3 L590.5 988.1 L592.5 988.8 L594.5 989.7 L596.5 990.5 L598.5 991.3 L600.5 992.1 L602.5 992.8 L604.5 993.6 L606.5 994.3 L608.5 995.0 L610.5 995.7 L612.5 996.3 L614.5 996.8 L616.5 997.3 L618.5 997.7 L620.5 998.1 L622.5 998.5 L624.5 998.9 L626.5 999.2 L628.5 999.6 L630.5 999.9 L632.5 1000.3 L634.5 1000.6 L636.5 1000.9 L638.5 1001.1 L640.5 1001.3 L642.5 1001.5 L644.5 1001.7 L646.5 1001.8 L648.5 1002.0 L650.5 1002.1 L652.5 1002.3 L654.5 1002.5 L656.5 1002.7 L658.5 1002.9 L660.5 1003.1 L662.5 1003.3 L664.5 1003.6 L666.5 1003.9 L668.5 1004.3 L670.5 1004.8 L672.5 1005.3 L674.5 1005.7 L676.5 1006.2 L678.5 1006.6 L680.5 1007.0 L682.5 1007.4 L684.5 1007.8 L686.5 1008.2 L688.5 1008.6 L690.5 1008.9 L692.5 1009.2 L694.5 1009.5 L696.5 1009.7 L698.5 1010.0 L700.5 1010.3 L702.5 1010.7 L704.5 1011.0 L706.5 1011.4 L708.5 1011.8 L710.5 1012.2 L712.5 1012.6 L714.5 1013.1 L716.5 1013.5 L718.5 1013.9 L720.5 1014.2 L722.5 1014.6 L724.5 1015.0 L726.5 1015.4 L728.5 1015.8 L730.5 1016.2 L732.5 1016.6 L734.5 1017.0 L736.5 1017.4 L738.5 1017.8 L740.5 1018.4 L742.5 1019.0 L744.5 1019.6 L746.5 1020.4 L748.5 1021.1 L750.5 1021.8 L752.5 1022.5 L754.5 1023.2 L756.5 1024.0 L758.5 1024.6 L760.5 1025.1 L762.5 1025.5 L764.5 1025.8 L766.5 1026.0 L768.5 1026.2 L770.5 1026.4 L772.5 1026.6 L774.5 1026.9 L776.5 1027.2 L778.5 1027.5 L780.5 1027.8 L782.5 1028.1 L784.5 1028.3 L786.5 1028.5 L788.5 1028.6 L790.5 1028.8 L792.5 1029.0 L794.5 1029.3 L796.5 1029.6 L798.5 1030.0 L800.5 1030.4 L802.5 1030.9 L804.5 1031.5 L806.5 1032.0 L808.5 1032.5 L810.5 1033.1 L812.5 1033.6 L814.5 1034.2 L816.5 1034.7 L818.5 1035.2 L820.5 1035.6 L822.5 1036.0 L824.5 1036.3 L826.5 1036.6 L828.5 1036.9 L830.5 1037.2 L832.5 1037.6 L834.5 1037.9 L836.5 1038.3 L838.5 1038.7 L840.5 1039.1 L842.5 1039.5 L844.5 1039.9 L846.5 1040.4 L848.5 1040.9 L850.5 1041.4 L852.5 1042.0 L854.5 1042.6 L856.5 1043.2 L858.5 1043.8 L860.5 1044.5 L862.5 1045.2 L864.5 1045.9 L866.5 1046.6 L868.5 1047.4 L870.5 1048.1 L872.5 1048.9 L874.5 1049.7 L876.5 1050.5 L878.5 1051.3 L880.5 1052.1 L882.5 1052.9 L884.5 1053.7 L886.5 1054.6 L888.5 1055.4 L890.5 1056.2 L892.5 1057.0 L894.5 1057.8 L896.5 1058.6 L898.5 1059.4 L900.5 1060.2 L902.5 1061.0 L904.5 1061.8 L906.5 1062.6 L908.5 1063.4 L910.5 1064.3 L912.5 1065.1 L914.5 1066.0 L916.5 1066.9 L918.5 1067.8 L920.5 1068.7 L922.5 1069.6 L924.5 1070.5 L926.5 1071.5 L928.5 1072.4 L930.5 1073.3 L932.5 1074.2 L934.5 1075.1 L936.5 1075.9 L938.5 1076.8 L940.5 1077.6 L942.5 1078.3 L944.5 1079.1 L946.5 1079.7 L948.5 1080.4 L950.5 1081.0 L952.5 1081.6 L954.5 1082.2 L956.5 1082.8 L958.5 1083.4 L960.5 1084.0 L962.5 1084.7 L964.5 1085.3 L966.5 1086.0 L968.5 1086.8 L970.5 1087.8 L972.5 1088.9 L974.5 1090.2 L976.5 1091.8 L978.5 1093.4 L980.5 1095.0 L982.5 1096.5 L984.5 1097.9 L986.5 1099.1 L988.5 1100.4 L990.5 1101.6 L992.5 1102.7 L994.5 1103.9 L996.5 1105.0 L998.5 1106.0 L1000.5 1107.0 L1002.5 1108.0 L1004.5 1109.0 L1006.5 1110.0 L1008.5 1111.0 L1010.5 1112.0 L1012.5 1113.0 L1014.5 1114.0 L1016.5 1115.0 L1018.5 1116.0 L1020.5 1116.9 L1022.5 1117.8 L1024.5 1118.6 L1026.5 1119.4 L1028.5 1120.2 L1030.5 1121.0 L1032.5 1121.8 L1034.5 1122.7 L1036.5 1123.6 L1038.5 1124.5 L1040.5 1125.5 L1042.5 1126.5 L1044.5 1127.6 L1046.5 1128.8 L1048.5 1130.0 L1050.5 1131.4 L1052.5 1132.9 L1054.5 1134.3 L1056.5 1135.7 L1058.5 1137.1 L1060.5 1138.4 L1062.5 1139.6 L1064.5 1140.8 L1066.5 1142.0 L1068.5 1143.2 L1070.5 1144.4 L1072.5 1145.6 L1074.5 1146.8 L1076.5 1148.0 L1078.5 1149.3 L1080.5 1150.5 L1082.5 1151.6 L1084.5 1152.7 L1086.5 1153.7 L1088.5 1154.8 L1090.5 1155.7 L1092.5 1156.7 L1094.5 1157.7 L1096.5 1158.6 L1098.5 1159.6 L1100.5 1160.6 L1102.5 1161.6 L1104.5 1162.6 L1106.5 1163.6 L1108.5 1164.7 L1110.5 1165.7 L1112.5 1166.9 L1114.5 1168.0 L1116.5 1169.2 L1118.5 1170.5 L1120.5 1171.8 L1122.5 1173.2 L1124.5 1174.7 L1126.5 1176.4 L1128.5 1178.0 L1130.5 1179.7 L1132.5 1181.3 L1134.5 1182.8 L1136.5 1184.3 L1138.5 1185.7 L1140.5 1187.1 L1142.5 1188.5 L1144.5 1189.9 L1146.5 1191.3 L1148.5 1192.7 L1150.5 1194.1 L1152.5 1195.5 L1154.5 1196.9 L1156.5 1198.2 L1158.5 1199.6 L1160.5 1200.8 L1162.5 1202.1 L1164.5 1203.3 L1166.5 1204.5 L1168.5 1205.7 L1170.5 1206.9 L1172.5 1208.1 L1174.5 1209.4 L1176.5 1210.6 L1178.5 1211.9 L1180.5 1213.0 L1182.5 1214.1 L1184.5 1215.1 L1186.5 1216.0 L1188.5 1216.9 L1190.5 1217.6 L1192.5 1218.4 L1194.5 1219.2 L1196.5 1220.0 L1198.5 1220.9 L1200.5 1221.8 L1202.5 1222.7 L1204.5 1223.7 L1206.5 1224.6 L1208.5 1225.5 L1210.5 1226.4 L1212.5 1227.2 L1214.5 1228.0 L1216.5 1228.7 L1218.5 1229.5 L1220.5 1230.3 L1222.5 1231.2 L1224.5 1232.0 L1226.5 1232.9 L1228.5 1233.8 L1230.5 1234.7 L1232.5 1235.6 L1234.5 1236.4 L1236.5 1237.2 L1238.5 1238.0 L1240.5 1238.8 L1242.5 1239.6 L1244.5 1240.4 L1246.5 1241.2 L1248.5 1242.0 L1250.5 1242.8 L1252.5 1243.5 L1254.5 1244.3 L1256.5 1245.1 L1258.5 1245.9 L1260.5 1246.7 L1262.5 1247.4 L1264.5 1248.1 L1266.5 1248.9 L1268.5 1249.6 L1270.5 1250.4 L1272.5 1251.1 L1274.5 1251.9 L1276.5 1252.7 L1278.5 1253.4 L1280.5 1254.2 L1282.5 1255.0 L1284.5 1255.9 L1286.5 1256.7 L1288.5 1257.5 L1290.5 1258.3 L1292.5 1259.1 L1294.5 1259.9 L1296.5 1260.7 L1298.5 1261.4 L1300.5 1262.2 L1302.5 1262.9 L1304.5 1263.6 L1306.5 1264.3 L1308.5 1265.0 L1310.5 1265.7 L1312.5 1266.3 L1314.5 1267.0 L1316.5 1267.7 L1318.5 1268.3 L1320.5 1269.0 L1322.5 1269.6 L1324.5 1270.2 L1326.5 1270.7 L1328.5 1271.2 L1330.5 1271.7 L1332.5 1272.2 L1334.5 1272.7 L1336.5 1273.1 L1338.5 1273.5 L1340.5 1274.0 L1342.5 1274.4 L1344.5 1274.8 L1346.5 1275.1 L1348.5 1275.5 L1350.5 1275.9 L1352.5 1276.3 L1354.5 1276.7 L1356.5 1277.1 L1358.5 1277.5 L1360.5 1277.9 L1362.5 1278.3 L1364.5 1278.7 L1366.5 1279.1 L1368.5 1279.5 L1370.5 1279.9 L1372.5 1280.3 L1374.5 1280.7 L1376.5 1281.1 L1378.5 1281.5 L1380.5 1281.9 L1382.5 1282.3 L1384.5 1282.7 L1386.5 1283.1 L1388.5 1283.5 L1390.5 1283.9 L1392.5 1284.4 L1394.5 1284.8 L1396.5 1285.2 L1398.5 1285.6 L1400.5 1286.0 L1402.5 1286.4 L1404.5 1286.8 L1406.5 1287.2 L1408.5 1287.6 L1410.5 1288.0 L1412.5 1288.4 L1414.5 1288.8 L1416.5 1289.2 L1418.5 1289.6 L1420.5 1290.0 L1422.5 1290.4 L1424.5 1290.8 L1426.5 1291.2 L1428.5 1291.6 L1430.5 1292.0 L1432.5 1292.4 L1434.5 1292.8 L1436.5 1293.2 L1438.5 1293.6 L1440.5 1294.0 L1442.5 1294.4 L1444.5 1294.8 L1446.5 1295.2 L1448.5 1295.6 L1450.5 1295.9 L1452.5 1296.3 L1454.5 1296.7 L1456.5 1297.0 L1458.5 1297.4 L1460.5 1297.8 L1462.5 1298.1 L1464.5 1298.5 L1466.5 1298.8 L1468.5 1299.2 L1470.5 1299.5 L1472.5 1299.9 L1474.5 1300.3 L1476.5 1300.6 L1478.5 1301.0 L1480.5 1301.4 L1482.5 1301.8 L1484.5 1302.2 L1486.5 1302.6 L1488.5 1303.0 L1490.5 1303.5 L1492.5 1303.9 L1494.5 1304.3 L1496.5 1304.7 L1498.5 1305.0 L1500.5 1305.4 L1502.5 1305.8 L1504.5 1306.2 L1506.5 1306.5 L1508.5 1306.9 L1510.5 1307.2 L1512.5 1307.6 L1514.5 1307.9 L1516.5 1308.2 L1518.5 1308.6 L1520.5 1308.9 L1522.5 1309.2 L1524.5 1309.6 L1526.5 1309.9 L1528.5 1310.2 L1530.5 1310.5 L1532.5 1310.8 L1534.5 1311.1 L1536.5 1311.4 L1538.5 1311.7 L1540.5 1312.0 L1542.5 1312.3 L1544.5 1312.6 L1546.5 1312.9 L1548.5 1313.2 L1550.5 1313.5 L1552.5 1313.8 L1554.5 1314.1 L1556.5 1314.4 L1558.5 1314.7 L1560.5 1315.0 L1562.5 1315.3 L1564.5 1315.6 L1566.5 1315.9 L1568.5 1316.2 L1570.5 1316.5 L1572.5 1316.8 L1574.5 1317.0 L1576.5 1317.3 L1578.5 1317.6 L1580.5 1317.9 L1582.5 1318.2 L1584.5 1318.5 L1586.5 1318.8 L1588.5 1319.1 L1590.5 1319.4 L1592.5 1319.7 L1594.5 1320.0 L1596.5 1320.3 L1598.5 1320.6 L1600.5 1320.9 L1602.5 1321.2 L1604.5 1321.5 L1606.5 1321.8 L1608.5 1322.1 L1610.5 1322.3 L1612.5 1322.6 L1614.5 1322.9 L1616.5 1323.2 L1618.5 1323.5 L1620.5 1323.8 L1622.5 1324.0 L1624.5 1324.3 L1626.5 1324.5 L1628.5 1324.7 L1630.5 1324.9 L1632.5 1325.1 L1634.5 1325.3 L1636.5 1325.5 L1638.5 1325.7 L1640.5 1325.9 L1642.5 1326.1 L1644.5 1326.3 L1646.5 1326.5 L1648.5 1326.7 L1650.5 1326.9 L1652.5 1327.1 L1654.5 1327.4 L1656.5 1327.6 L1658.5 1327.9 L1660.5 1328.2 L1662.5 1328.5 L1664.5 1328.8 L1666.5 1329.1 L1668.5 1329.4 L1670.5 1329.7 L1672.5 1330.0 L1674.5 1330.2 L1676.5 1330.5 L1678.5 1330.7 L1680.5 1330.9 L1682.5 1331.1 L1684.5 1331.4 L1686.5 1331.6 L1688.5 1331.8 L1690.5 1331.9 L1692.5 1332.1 L1694.5 1332.3 L1696.5 1332.5 L1698.5 1332.7 L1700.5 1332.9 L1702.5 1333.1 L1704.5 1333.3 L1706.5 1333.5 L1708.5 1333.6 L1710.5 1333.8 L1712.5 1334.0 L1714.5 1334.2 L1716.5 1334.4 L1718.5 1334.6 L1720.5 1334.8 L1722.5 1334.9 L1724.5 1335.1 L1726.5 1335.3 L1728.5 1335.4 L1730.5 1335.6 L1732.5 1335.8 L1734.5 1335.9 L1736.5 1336.1 L1738.5 1336.2 L1740.5 1336.4 L1742.5 1336.5 L1744.5 1336.7 L1746.5 1336.8 L1748.5 1337.0 L1750.5 1337.1 L1752.5 1337.2 L1754.5 1337.4 L1756.5 1337.5 L1758.5 1337.6 L1760.5 1337.7 L1762.5 1337.8 L1764.5 1337.9 L1766.5 1338.0 L1768.5 1338.1 L1770.5 1338.2 L1772.5 1338.3 L1774.5 1338.5 L1776.5 1338.6 L1778.5 1338.7 L1780.5 1338.8 L1782.5 1339.0 L1784.5 1339.1 L1786.5 1339.2 L1788.5 1339.3 L1790.5 1339.5 L1792.5 1339.6 L1794.5 1339.7 L1796.5 1339.9 L1798.5 1340.0 L1800.5 1340.1 L1802.5 1340.3 L1804.5 1340.4 L1806.5 1340.5 L1808.5 1340.7 L1810.5 1340.8 L1812.5 1340.9 L1814.5 1341.1 L1816.5 1341.2 L1818.5 1341.3 L1820.5 1341.5 L1822.5 1341.6 L1824.5 1341.8 L1826.5 1341.9 L1828.5 1342.0 L1830.5 1342.2 L1832.5 1342.3 L1834.5 1342.4 L1836.5 1342.6 L1838.5 1342.7 L1840.5 1342.9 L1842.5 1343.0 L1844.5 1343.1 L1846.5 1343.3 L1848.5 1343.4 L1850.5 1343.5 L1852.5 1343.7 L1854.5 1343.8 L1856.5 1343.9 L1858.5 1344.1 L1860.5 1344.2 L1862.5 1344.4 L1864.5 1344.5 L1866.5 1344.6 L1868.5 1344.8 L1870.5 1344.9 L1872.5 1345.1 L1874.5 1345.2 L1876.5 1345.4 L1878.5 1345.5 L1880.5 1345.6 L1882.5 1345.8 L1884.5 1345.9 L1886.5 1346.1 L1888.5 1346.2 L1890.5 1346.4 L1892.5 1346.5 L1894.5 1346.6 L1896.5 1346.8 L1898.5 1346.9 L1900.5 1347.1 L1902.5 1347.2 L1904.5 1347.3 L1906.5 1347.5 L1908.5 1347.6 L1910.5 1347.7 L1912.5 1347.9 L1914.5 1348.0 L1916.5 1348.1 L1918.5 1348.3 L1920.5 1348.4 L1922.5 1348.5 L1924.5 1348.7 L1926.5 1348.8 L1928.5 1348.9 L1930.5 1349.0 L1932.5 1349.2 L1934.5 1349.3 L1936.5 1349.4 L1938.5 1349.5 L1940.5 1349.6 L1942.5 1349.7 L1944.5 1349.9 L1946.5 1350.0 L1948.5 1350.1 L1950.5 1350.2 L1952.5 1350.3 L1954.5 1350.4 L1956.5 1350.6 L1958.5 1350.7 L1960.5 1350.8 L1962.5 1350.9 L1964.5 1351.0 L1966.5 1351.1 L1968.5 1351.2 L1970.5 1351.3 L1972.5 1351.4 L1974.5 1351.5 L1976.5 1351.6 L1978.5 1351.7 L1980.5 1351.9 L1982.5 1352.0 L1984.5 1352.1 L1986.5 1352.2 L1988.5 1352.3 L1990.5 1352.4 L1992.5 1352.5 L1994.5 1352.6 L1996.5 1352.7 L1998.5 1352.8 L2000.5 1352.9 L2002.5 1352.9 L2003.5 1353.0"/>
<path stroke="#FF8000" stroke-width="6" shape-rendering="crispEdges" d="M258.5 680.5 L260.5 680.5 L262.5 680.5 L264.5 680.5 L266.5 680.4 L268.5 680.4 L270.5 680.3 L272.5 680.3 L274.5 680.2 L276.5 680.1 L278.5 680.1 L280.5 679.9 L282.5 679.8 L284.5 679.5 L286.5 679.2 L288.5 678.9 L290.5 678.6 L292.5 678.3 L294.5 678.1 L296.5 677.9 L298.5 677.8 L300.5 677.7 L302.5 677.6 L304.5 677.6 L306.5 677.5 L308.5 677.6 L310.5 677.8 L312.5 678.1 L314.5 678.5 L316.5 679.0 L318.5 679.5 L320.5 680.1 L322.5 680.7 L324.5 681.4 L326.5 682.2 L328.5 683.1 L330.5 684.0 L332.5 684.9 L334.5 685.8 L336.5 686.8 L338.5 687.9 L340.5 689.0 L342.5 690.1 L344.5 691.3 L346.5 692.5 L348.5 693.8 L350.5 695.1 L352.5 696.5 L354.5 698.0 L356.5 699.5 L358.5 701.2 L360.5 703.0 L362.5 704.9 L364.5 706.9 L366.5 709.0 L368.5 711.0 L370.5 713.1 L372.5 715.1 L374.5 717.0 L376.5 719.0 L378.5 721.0 L380.5 723.1 L382.5 725.2 L384.5 727.4 L386.5 729.7 L388.5 732.0 L390.5 734.4 L392.5 736.9 L394.5 739.5 L396.5 742.2 L398.5 745.0 L400.5 747.9 L402.5 751.0 L404.5 754.1 L406.5 757.4 L408.5 760.8 L410.5 764.3 L412.5 767.9 L414.5 771.4 L416.5 774.9 L418.5 778.4 L420.5 781.8 L422.5 785.3 L424.5 788.8 L426.5 792.4 L428.5 796.1 L430.5 799.9 L432.5 803.7 L434.5 807.5 L436.5 811.3 L438.5 815.1 L440.5 818.8 L442.5 822.6 L444.5 826.3 L446.5 830.1 L448.5 833.8 L450.5 837.5 L452.5 841.3 L454.5 845.0 L456.5 848.7 L458.5 852.5 L460.5 856.3 L462.5 860.1 L464.5 863.8 L466.5 867.4 L468.5 871.0 L470.5 874.6 L472.5 878.1 L474.5 881.4 L476.5 884.7 L478.5 887.8 L480.5 890.8 L482.5 893.8 L484.5 896.7 L486.5 899.7 L488.5 902.8 L490.5 905.8 L492.5 908.8 L494.5 911.8 L496.5 914.7 L498.5 917.6 L500.5 920.4 L502.5 923.1 L504.5 925.7 L506.5 928.3 L508.5 930.8 L510.5 933.1 L512.5 935.5 L514.5 937.8 L516.5 940.1 L518.5 942.3 L520.5 944.6 L522.5 946.8 L524.5 948.9 L526.5 951.0 L528.5 952.9 L530.5 954.8 L532.5 956.6 L534.5 958.4 L536.5 960.1 L538.5 961.9 L540.5 963.6 L542.5 965.3 L544.5 967.0 L546.5 968.7 L548.5 970.3 L550.5 971.8 L552.5 973.2 L554.5 974.4 L556.5 975.5 L558.5 976.6 L560.5 977.6 L562.5 978.5 L564.5 979.4 L566.5 980.2 L568.5 980.9 L570.5 981.6 L572.5 982.2 L574.5 982.9 L576.5 983.5 L578.5 984.1 L580.5 984.7 L582.5 985.4 L584.5 986.0 L586.5 986.6 L588.5 987.3 L590.5 988.1 L592.5 988.8 L594.5 989.7 L596.5 990.5 L598.5 991.3 L600.5 992.1 L602.5 992.8 L604.5 993.6 L606.5 994.3 L608.5 995.0 L610.5 995.7 L612.5 996.3 L614.5 996.8 L616.5 997.3 L618.5 997.7 L620.5 998.1 L622.5 998.5 L624.5 998.9 L626.5 999.2 L628.5 999.6 L630.5 999.9 L632.5 1000.3 L634.5 1000.6 L636.5 1000.9 L638.5 1001.1 L640.5 1001.3 L642.5 1001.5 L644.5 1001.7 L646.5 1001.8 L648.5 1002.0 L650.5 1002.1 L652.5 1002.3 L654.5 1002.5 L656.5 1002.7 L658.5 1002.9 L660.5 1003.1 L662.5 1003.3 L664.5 1003.6 L666.5 1003.9 L668.5 1004.3 L670.5 1004.8 L672.5 1005.3 L674.5 1005.7 L676.5 1006.2 L678.5 1006.6 L680.5 1007.0 L682.5 1007.4 L684.5 1007.8 L686.5 1008.2 L688.5 1008.6 L690.5 1008.9 L692.5 1009.2 L694.5 1009.5 L696.5 1009.7 L698.5 1010.0 L700.5 1010.3 L702.5 1010.7 L704.5 1011.0 L706.5 1011.4 L708.5 1011.8 L710.5 1012.2 L712.5 1012.6 L714.5 1013.1 L716.5 1013.5 L718.5 1013.9 L720.5 1014.2 L722.5 1014.6 L724.5 1015.0 L726.5 1015.4 L728.5 1015.8 L730.5 1016.2 L732.5 1016.6 L734.5 1017.0 L736.5 1017.4 L738.5 1017.8 L740.5 1018.4 L742.5 1019.0 L744.5 1019.6 L746.5 1020.4 L748.5 1021.1 L750.5 1021.8 L752.5 1022.5 L754.5 1023.2 L756.5 1024.0 L758.5 1024.6 L760.5 1025.1 L762.5 1025.5 L764.5 1025.8 L766.5 1026.0 L768.5 1026.2 L770.5 1026.4 L772.5 1026.6 L774.5 1026.9 L776.5 1027.2 L778.5 1027.5 L780.5 1027.8 L782.5 1028.1 L784.5 1028.3 L786.5 1028.5 L788.5 1028.6 L790.5 1028.8 L792.5 1029.0 L794.5 1029.3 L796.5 1029.6 L798.5 1030.0 L800.5 1030.4 L802.5 1030.9 L804.5 1031.5 L806.5 1032.0 L808.5 1032.5 L810.5 1033.1 L812.5 1033.6 L814.5 1034.2 L816.5 1034.7 L818.5 1035.2 L820.5 1035.6 L822.5 1036.0 L824.5 1036.3 L826.5 1036.6 L828.5 1036.9 L830.5 1037.2 L832.5 1037.6 L834.5 1037.9 L836.5 1038.3 L838.5 1038.7 L840.5 1039.1 L842.5 1039.5 L844.5 1039.9 L846.5 1040.4 L848.5 1040.9 L850.5 1041.4 L852.5 1042.0 L854.5 1042.6 L856.5 1043.2 L858.5 1043.8 L860.5 1044.5 L862.5 1045.2 L864.5 1045.9 L866.5 1046.6 L868.5 1047.4 L870.5 1048.1 L872.5 1048.9 L874.5 1049.7 L876.5 1050.5 L878.5 1051.3 L880.5 1052.1 L882.5 1052.9 L884.5 1053.7 L886.5 1054.6 L888.5 1055.4 L890.5 1056.2 L892.5 1057.0 L894.5 1057.8 L896.5 1058.6 L898.5 1059.4 L900.5 1060.2 L902.5 1061.0 L904.5 1061.8 L906.5 1062.6 L908.5 1063.4 L910.5 1064.3 L912.5 1065.1 L914.5 1066.0 L916.5 1066.9 L918.5 1067.8 L920.5 1068.7 L922.5 1069.6 L924.5 1070.5 L926.5 1071.5 L928.5 1072.4 L930.5 1073.3 L932.5 1074.2 L934.5 1075.1 L936.5 1075.9 L938.5 1076.8 L940.5 1077.6 L942.5 1078.3 L944.5 1079.1 L946.5 1079.7 L948.5 1080.4 L950.5 1081.0 L952.5 1081.6 L954.5 1082.2 L956.5 1082.8 L958.5 1083.4 L960.5 1084.0 L962.5 1084.7 L964.5 1085.3 L966.5 1086.0 L968.5 1086.8 L970.5 1087.8 L972.5 1088.9 L974.5 1090.2 L976.5 1091.8 L978.5 1093.4 L980.5 1095.0 L982.5 1096.5 L984.5 1097.9 L986.5 1099.1 L988.5 1100.4 L990.5 1101.6 L992.5 1102.7 L994.5 1103.9 L996.5 1105.0 L998.5 1106.0 L1000.5 1107.0 L1002.5 1108.0 L1004.5 1109.0 L1006.5 1110.0 L1008.5 1111.0 L1010.5 1112.0 L1012.5 1113.0 L1014.5 1114.0 L1016.5 1115.0 L1018.5 1116.0 L1020.5 1116.9 L1022.5 1117.8 L1024.5 1118.6 L1026.5 1119.4 L1028.5 1120.2 L1030.5 1121.0 L1032.5 1121.8 L1034.5 1122.7 L1036.5 1123.6 L1038.5 1124.5 L1040.5 1125.5 L1042.5 1126.5 L1044.5 1127.6 L1046.5 1128.8 L1048.5 1130.0 L1050.5 1131.4 L1052.5 1132.9 L1054.5 1134.3 L1056.5 1135.7 L1058.5 1137.1 L1060.5 1138.4 L1062.5 1139.6 L1064.5 1140.8 L1066.5 1142.0 L1068.5 1143.2 L1070.5 1144.4 L1072.5 1145.6 L1074.5 1146.8 L1076.5 1148.0 L1078.5 1149.3 L1080.5 1150.5 L1082.5 1151.6 L1084.5 1152.7 L1086.5 1153.7 L1088.5 1154.8 L1090.5 1155.7 L1092.5 1156.7 L1094.5 1157.7 L1096.5 1158.6 L1098.5 1159.6 L1100.5 1160.6 L1102.5 1161.6 L1104.5 1162.6 L1106.5 1163.6 L1108.5 1164.7 L1110.5 1165.7 L1112.5 1166.9 L1114.5 1168.0 L1116.5 1169.2 L1118.5 1170.5 L1120.5 1171.8 L1122.5 1173.2 L1124.5 1174.7 L1126.5 1176.4 L1128.5 1178.0 L1130.5 1179.7 L1132.5 1181.3 L1134.5 1182.8 L1136.5 1184.3 L1138.5 1185.7 L1140.5 1187.1 L1142.5 1188.5 L1144.5 1189.9 L1146.5 1191.3 L1148.5 1192.7 L1150.5 1194.1 L1152.5 1195.5 L1154.5 1196.9 L1156.5 1198.2 L1158.5 1199.6 L1160.5 1200.8 L1162.5 1202.1 L1164.5 1203.3 L1166.5 1204.5 L1168.5 1205.7 L1170.5 1206.9 L1172.5 1208.1 L1174.5 1209.4 L1176.5 1210.6 L1178.5 1211.9 L1180.5 1213.0 L1182.5 1214.1 L1184.5 1215.1 L1186.5 1216.0 L1188.5 1216.9 L1190.5 1217.6 L1192.5 1218.4 L1194.5 1219.2 L1196.5 1220.0 L1198.5 1220.9 L1200.5 1221.8 L1202.5 1222.7 L1204.5 1223.7 L1206.5 1224.6 L1208.5 1225.5 L1210.5 1226.4 L1212.5 1227.2 L1214.5 1228.0 L1216.5 1228.7 L1218.5 1229.5 L1220.5 1230.3 L1222.5 1231.2 L1224.5 1232.0 L1226.5 1232.9 L1228.5 1233.8 L1230.5 1234.7 L1232.5 1235.6 L1234.5 1236.4 L1236.5 1237.2 L1238.5 1238.0 L1240.5 1238.8 L1242.5 1239.6 L1244.5 1240.4 L1246.5 1241.2 L1248.5 1242.0 L1250.5 1242.8 L1252.5 1243.5 L1254.5 1244.3 L1256.5 1245.1 L1258.5 1245.9 L1260.5 1246.7 L1262.5 1247.4 L1264.5 1248.1 L1266.5 1248.9 L1268.5 1249.6 L1270.5 1250.4 L1272.5 1251.1 L1274.5 1251.9 L1276.5 1252.7 L1278.5 1253.4 L1280.5 1254.2 L1282.5 1255.0 L1284.5 1255.9 L1286.5 1256.7 L1288.5 1257.5 L1290.5 1258.3 L1292.5 1259.1 L1294.5 1259.9 L1296.5 1260.7 L1298.5 1261.4 L1300.5 1262.2 L1302.5 1262.9 L1304.5 1263.6 L1306.5 1264.3 L1308.5 1265.0 L1310.5 1265.7 L1312.5 1266.3 L1314.5 1267.0 L1316.5 1267.7 L1318.5 1268.3 L1320.5 1269.0 L1322.5 1269.6 L1324.5 1270.2 L1326.5 1270.7 L1328.5 1271.2 L1330.5 1271.7 L1332.5 1272.2 L1334.5 1272.7 L1336.5 1273.1 L1338.5 1273.5 L1340.5 1274.0 L1342.5 1274.4 L1344.5 1274.8 L1346.5 1275.1 L1348.5 1275.5 L1350.5 1275.9 L1352.5 1276.3 L1354.5 1276.7 L1356.5 1277.1 L1358.5 1277.5 L1360.5 1277.9 L1362.5 1278.3 L1364.5 1278.7 L1366.5 1279.1 L1368.5 1279.5 L1370.5 1279.9 L1372.5 1280.3 L1374.5 1280.7 L1376.5 1281.1 L1378.5 1281.5 L1380.5 1281.9 L1382.5 1282.3 L1384.5 1282.7 L1386.5 1283.1 L1388.5 1283.5 L1390.5 1283.9 L1392.5 1284.4 L1394.5 1284.8 L1396.5 1285.2 L1398.5 1285.6 L1400.5 1286.0 L1402.5 1286.4 L1404.5 1286.8 L1406.5 1287.2 L1408.5 1287.6 L1410.5 1288.0 L1412.5 1288.4 L1414.5 1288.8 L1416.5 1289.2 L1418.5 1289.6 L1420.5 1290.0 L1422.5 1290.4 L1424.5 1290.8 L1426.5 1291.2 L1428.5 1291.6 L1430.5 1292.0 L1432.5 1292.4 L1434.5 1292.8 L1436.5 1293.2 L1438.5 1293.6 L1440.5 1294.0 L1442.5 1294.4 L1444.5 1294.8 L1446.5 1295.2 L1448.5 1295.6 L1450.5 1295.9 L1452.5 1296.3 L1454.5 1296.7 L1456.5 1297.0 L1458.5 1297.4 L1460.5 1297.8 L1462.5 1298.1 L1464.5 1298.5 L1466.5 1298.8 L1468.5 1299.2 L1470.5 1299.5 L1472.5 1299.9 L1474.5 1300.3 L1476.5 1300.6 L1478.5 1301.0 L1480.5 1301.4 L1482.5 1301.8 L1484.5 1302.2 L1486.5 1302.6 L1488.5 1303.0 L1490.5 1303.5 L1492.5 1303.9 L1494.5 1304.3 L1496.5 1304.7 L1498.5 1305.0 L1500.5 1305.4 L1502.5 1305.8 L1504.5 1306.2 L1506.5 1306.5 L1508.5 1306.9 L1510.5 1307.2 L1512.5 1307.6 L1514.5 1307.9 L1516.5 1308.2 L1518.5 1308.6 L1520.5 1308.9 L1522.5 1309.2 L1524.5 1309.6 L1526.5 1309.9 L1528.5 1310.2 L1530.5 1310.5 L1532.5 1310.8 L1534.5 1311.1 L1536.5 1311.4 L1538.5 1311.7 L1540.5 1312.0 L1542.5 1312.3 L1544.5 1312.6 L1546.5 1312.9 L1548.5 1313.2 L1550.5 1313.5 L1552.5 1313.8 L1554.5 1314.1 L1556.5 1314.4 L1558.5 1314.7 L1560.5 1315.0 L1562.5 1315.3 L1564.5 1315.6 L1566.5 1315.9 L1568.5 1316.2 L1570.5 1316.5 L1572.5 1316.8 L1574.5 1317.0 L1576.5 1317.3 L1578.5 1317.6 L1580.5 1317.9 L1582.5 1318.2 L1584.5 1318.5 L1586.5 1318.8 L1588.5 1319.1 L1590.5 1319.4 L1592.5 1319.7 L1594.5 1320.0 L1596.5 1320.3 L1598.5 1320.6 L1600.5 1320.9 L1602.5 1321.2 L1604.5 1321.5 L1606.5 1321.8 L1608.5 1322.1 L1610.5 1322.3 L1612.5 1322.6 L1614.5 1322.9 L1616.5 1323.2 L1618.5 1323.5 L1620.5 1323.8 L1622.5 1324.0 L1624.5 1324.3 L1626.5 1324.5 L1628.5 1324.7 L1630.5 1324.9 L1632.5 1325.1 L1634.5 1325.3 L1636.5 1325.5 L1638.5 1325.7 L1640.5 1325.9 L1642.5 1326.1 L1644.5 1326.3 L1646.5 1326.5 L1648.5 1326.7 L1650.5 1326.9 L1652.5 1327.1 L1654.5 1327.4 L1656.5 1327.6 L1658.5 1327.9 L1660.5 1328.2 L1662.5 1328.5 L1664.5 1328.8 L1666.5 1329.1 L1668.5 1329.4 L1670.5 1329.7 L1672.5 1330.0 L1674.5 1330.2 L1676.5 1330.5 L1678.5 1330.7 L1680.5 1330.9 L1682.5 1331.1 L1684.5 1331.4 L1686.5 1331.6 L1688.5 1331.8 L1690.5 1331.9 L1692.5 1332.1 L1694.5 1332.3 L1696.5 1332.5 L1698.5 1332.7 L1700.5 1332.9 L1702.5 1333.1 L1704.5 1333.3 L1706.5 1333.5 L1708.5 1333.6 L1710.5 1333.8 L1712.5 1334.0 L1714.5 1334.2 L1716.5 1334.4 L1718.5 1334.6 L1720.5 1334.8 L1722.5 1334.9 L1724.5 1335.1 L1726.5 1335.3 L1728.5 1335.4 L1730.5 1335.6 L1732.5 1335.8 L1734.5 1335.9 L1736.5 1336.1 L1738.5 1336.2 L1740.5 1336.4 L1742.5 1336.5 L1744.5 1336.7 L1746.5 1336.8 L1748.5 1337.0 L1750.5 1337.1 L1752.5 1337.2 L1754.5 1337.4 L1756.5 1337.5 L1758.5 1337.6 L1760.5 1337.7 L1762.5 1337.8 L1764.5 1337.9 L1766.5 1338.0 L1768.5 1338.1 L1770.5 1338.2 L1772.5 1338.3 L1774.5 1338.5 L1776.5 1338.6 L1778.5 1338.7 L1780.5 1338.8 L1782.5 1339.0 L1784.5 1339.1 L1786.5 1339.2 L1788.5 1339.3 L1790.5 1339.5 L1792.5 1339.6 L1794.5 1339.7 L1796.5 1339.9 L1798.5 1340.0 L1800.5 1340.1 L1802.5 1340.3 L1804.5 1340.4 L1806.5 1340.5 L1808.5 1340.7 L1810.5 1340.8 L1812.5 1340.9 L1814.5 1341.1 L1816.5 1341.2 L1818.5 1341.3 L1820.5 1341.5 L1822.5 1341.6 L1824.5 1341.8 L1826.5 1341.9 L1828.5 1342.0 L1830.5 1342.2 L1832.5 1342.3 L1834.5 1342.4 L1836.5 1342.6 L1838.5 1342.7 L1840.5 1342.9 L1842.5 1343.0 L1844.5 1343.1 L1846.5 1343.3 L1848.5 1343.4 L1850.5 1343.5 L1852.5 1343.7 L1854.5 1343.8 L1856.5 1343.9 L1858.5 1344.1 L1860.5 1344.2 L1862.5 1344.4 L1864.5 1344.5 L1866.5 1344.6 L1868.5 1344.8 L1870.5 1344.9 L1872.5 1345.1 L1874.5 1345.2 L1876.5 1345.4 L1878.5 1345.5 L1880.5 1345.6 L1882.5 1345.8 L1884.5 1345.9 L1886.5 1346.1 L1888.5 1346.2 L1890.5 1346.4 L1892.5 1346.5 L1894.5 1346.6 L1896.5 1346.8 L1898.5 1346.9 L1900.5 1347.1 L1902.5 1347.2 L1904.5 1347.3 L1906.5 1347.5 L1908.5 1347.6 L1910.5 1347.7 L1912.5 1347.9 L1914.5 1348.0 L1916.5 1348.1 L1918.5 1348.3 L1920.5 1348.4 L1922.5 1348.5 L1924.5 1348.7 L1926.5 1348.8 L1928.5 1348.9 L1930.5 1349.0 L1932.5 1349.2 L1934.5 1349.3 L1936.5 1349.4 L1938.5 1349.5 L1940.5 1349.6 L1942.5 1349.7 L1944.5 1349.9 L1946.5 1350.0 L1948.5 1350.1 L1950.5 1350.2 L1952.5 1350.3 L1954.5 1350.4 L1956.5 1350.6 L1958.5 1350.7 L1960.5 1350.8 L1962.5 1350.9 L1964.5 1351.0 L1966.5 1351.1 L1968.5 1351.2 L1970.5 1351.3 L1972.5 1351.4 L1974.5 1351.5 L1976.5 1351.6 L1978.5 1351.7 L1980.5 1351.9 L1982.5 1352.0 L1984.5 1352.1 L1986.5 1352.2 L1988.5 1352.3 L1990.5 1352.4 L1992.5 1352.5 L1994.5 1352.6 L1996.5 1352.7 L1998.5 1352.8 L2000.5 1352.9 L2002.5 1352.9 L2003.5 1353.0"/>
<path stroke="#FF0080" stroke-width="4.6" d="M258.5 729.5 L260.5 729.5 L262.5 729.5 L264.5 729.4 L266.5 729.4 L268.5 729.3 L270.5 729.2 L272.5 729.1 L274.5 729.0 L276.5 728.9 L278.5 728.8 L280.5 728.6 L282.5 728.5 L284.5 728.2 L286.5 727.9 L288.5 727.6 L290.5 727.4 L292.5 727.2 L294.5 727.1 L296.5 727.1 L298.5 727.3 L300.5 727.7 L302.5 728.1 L304.5 728.6 L306.5 729.2 L308.5 729.7 L310.5 730.4 L312.5 731.0 L314.5 731.8 L316.5 732.6 L318.5 733.4 L320.5 734.2 L322.5 735.1 L324.5 735.9 L326.5 736.8 L328.5 737.7 L330.5 738.6 L332.5 739.5 L334.5 740.4 L336.5 741.4 L338.5 742.3 L340.5 743.3 L342.5 744.2 L344.5 745.2 L346.5 746.2 L348.5 747.3 L350.5 748.4 L352.5 749.6 L354.5 750.9 L356.5 752.3 L358.5 753.8 L360.5 755.3 L362.5 756.8 L364.5 758.4 L366.5 760.1 L368.5 761.9 L370.5 763.7 L372.5 765.6 L374.5 767.5 L376.5 769.3 L378.5 771.2 L380.5 773.2 L382.5 775.1 L384.5 777.2 L386.5 779.3 L388.5 781.5 L390.5 783.9 L392.5 786.4 L394.5 788.9 L396.5 791.6 L398.5 794.3 L400.5 797.1 L402.5 800.0 L404.5 802.9 L406.5 806.0 L408.5 809.1 L410.5 812.1 L412.5 815.1 L414.5 818.0 L416.5 820.8 L418.5 823.5 L420.5 826.2 L422.5 829.0 L424.5 831.9 L426.5 834.9 L428.5 837.9 L430.5 841.0 L432.5 844.3 L434.5 847.5 L436.5 850.9 L438.5 854.3 L440.5 857.7 L442.5 861.3 L444.5 864.9 L446.5 868.5 L448.5 872.1 L450.5 875.8 L452.5 879.4 L454.5 883.1 L456.5 886.7 L458.5 890.4 L460.5 893.9 L462.5 897.4 L464.5 900.7 L466.5 903.9 L468.5 907.1 L470.5 910.2 L472.5 913.2 L474.5 916.2 L476.5 919.2 L478.5 922.2 L480.5 925.1 L482.5 928.1 L484.5 931.0 L486.5 933.8 L488.5 936.6 L490.5 939.3 L492.5 942.0 L494.5 944.6 L496.5 947.2 L498.5 949.8 L500.5 952.3 L502.5 954.8 L504.5 957.2 L506.5 959.7 L508.5 962.1 L510.5 964.4 L512.5 966.7 L514.5 968.9 L516.5 971.0 L518.5 973.1 L520.5 975.1 L522.5 977.1 L524.5 979.0 L526.5 980.8 L528.5 982.5 L530.5 984.2 L532.5 985.8 L534.5 987.3 L536.5 988.8 L538.5 990.3 L540.5 991.8 L542.5 993.3 L544.5 994.7 L546.5 996.1 L548.5 997.5 L550.5 998.8 L552.5 1000.1 L554.5 1001.4 L556.5 1002.6 L558.5 1003.8 L560.5 1005.0 L562.5 1006.1 L564.5 1007.0 L566.5 1008.0 L568.5 1008.8 L570.5 1009.7 L572.5 1010.4 L574.5 1011.1 L576.5 1011.8 L578.5 1012.3 L580.5 1012.8 L582.5 1013.3 L584.5 1013.7 L586.5 1014.2 L588.5 1014.7 L590.5 1015.3 L592.5 1016.0 L594.5 1016.7 L596.5 1017.4 L598.5 1018.2 L600.5 1019.0 L602.5 1019.8 L604.5 1020.8 L606.5 1021.7 L608.5 1022.7 L610.5 1023.6 L612.5 1024.4 L614.5 1025.2 L616.5 1025.8 L618.5 1026.4 L620.5 1026.9 L622.5 1027.4 L624.5 1027.8 L626.5 1028.1 L628.5 1028.3 L630.5 1028.5 L632.5 1028.7 L634.5 1028.9 L636.5 1029.0 L638.5 1029.3 L640.5 1029.5 L642.5 1029.9 L644.5 1030.3 L646.5 1030.7 L648.5 1031.1 L650.5 1031.6 L652.5 1032.1 L654.5 1032.6 L656.5 1033.1 L658.5 1033.6 L660.5 1034.2 L662.5 1034.7 L664.5 1035.2 L666.5 1035.7 L668.5 1036.1 L670.5 1036.5 L672.5 1036.9 L674.5 1037.3 L676.5 1037.6 L678.5 1037.8 L680.5 1037.9 L682.5 1038.1 L684.5 1038.2 L686.5 1038.4 L688.5 1038.5 L690.5 1038.7 L692.5 1038.9 L694.5 1039.1 L696.5 1039.4 L698.5 1039.6 L700.5 1039.9 L702.5 1040.3 L704.5 1040.7 L706.5 1041.3 L708.5 1041.9 L710.5 1042.5 L712.5 1043.1 L714.5 1043.7 L716.5 1044.2 L718.5 1044.7 L720.5 1045.2 L722.5 1045.8 L724.5 1046.3 L726.5 1046.8 L728.5 1047.4 L730.5 1047.9 L732.5 1048.4 L734.5 1049.0 L736.5 1049.6 L738.5 1050.4 L740.5 1051.2 L742.5 1052.3 L744.5 1053.5 L746.5 1054.8 L748.5 1056.1 L750.5 1057.3 L752.5 1058.5 L754.5 1059.6 L756.5 1060.6 L758.5 1061.6 L760.5 1062.6 L762.5 1063.4 L764.5 1064.2 L766.5 1065.0 L768.5 1065.7 L770.5 1066.3 L772.5 1066.9 L774.5 1067.4 L776.5 1068.0 L778.5 1068.5 L780.5 1069.0 L782.5 1069.5 L784.5 1070.1 L786.5 1070.7 L788.5 1071.3 L790.5 1071.9 L792.5 1072.5 L794.5 1073.0 L796.5 1073.5 L798.5 1073.9 L800.5 1074.3 L802.5 1074.6 L804.5 1075.0 L806.5 1075.5 L808.5 1076.0 L810.5 1076.6 L812.5 1077.3 L814.5 1078.1 L816.5 1078.9 L818.5 1079.7 L820.5 1080.4 L822.5 1081.1 L824.5 1081.8 L826.5 1082.5 L828.5 1083.1 L830.5 1083.8 L832.5 1084.4 L834.5 1085.1 L836.5 1085.7 L838.5 1086.3 L840.5 1086.9 L842.5 1087.5 L844.5 1088.1 L846.5 1088.7 L848.5 1089.2 L850.5 1089.8 L852.5 1090.4 L854.5 1091.0 L856.5 1091.6 L858.5 1092.2 L860.5 1092.9 L862.5 1093.5 L864.5 1094.2 L866.5 1094.9 L868.5 1095.6 L870.5 1096.3 L872.5 1097.1 L874.5 1097.8 L876.5 1098.6 L878.5 1099.4 L880.5 1100.2 L882.5 1101.2 L884.5 1102.3 L886.5 1103.5 L888.5 1104.9 L890.5 1106.3 L892.5 1107.6 L894.5 1108.9 L896.5 1110.1 L898.5 1111.3 L900.5 1112.3 L902.5 1113.3 L904.5 1114.3 L906.5 1115.2 L908.5 1116.1 L910.5 1116.9 L912.5 1117.6 L914.5 1118.4 L916.5 1119.1 L918.5 1119.7 L920.5 1120.3 L922.5 1120.9 L924.5 1121.5 L926.5 1122.0 L928.5 1122.5 L930.5 1123.1 L932.5 1123.8 L934.5 1124.5 L936.5 1125.3 L938.5 1126.3 L940.5 1127.3 L942.5 1128.2 L944.5 1129.1 L946.5 1130.0 L948.5 1130.7 L950.5 1131.5 L952.5 1132.2 L954.5 1132.9 L956.5 1133.6 L958.5 1134.3 L960.5 1135.1 L962.5 1135.9 L964.5 1136.8 L966.5 1137.7 L968.5 1138.6 L970.5 1139.6 L972.5 1140.6 L974.5 1141.8 L976.5 1143.0 L978.5 1144.2 L980.5 1145.5 L982.5 1146.7 L984.5 1148.0 L986.5 1149.2 L988.5 1150.5 L990.5 1151.8 L992.5 1153.0 L994.5 1154.1 L996.5 1155.1 L998.5 1156.0 L1000.5 1156.8 L1002.5 1157.6 L1004.5 1158.4 L1006.5 1159.1 L1008.5 1159.8 L1010.5 1160.5 L1012.5 1161.2 L1014.5 1161.9 L1016.5 1162.6 L1018.5 1163.3 L1020.5 1164.0 L1022.5 1164.7 L1024.5 1165.5 L1026.5 1166.3 L1028.5 1167.1 L1030.5 1167.9 L1032.5 1168.7 L1034.5 1169.5 L1036.5 1170.2 L1038.5 1171.0 L1040.5 1171.8 L1042.5 1172.6 L1044.5 1173.4 L1046.5 1174.4 L1048.5 1175.6 L1050.5 1176.8 L1052.5 1178.2 L1054.5 1179.5 L1056.5 1180.9 L1058.5 1182.3 L1060.5 1183.7 L1062.5 1185.1 L1064.5 1186.5 L1066.5 1187.8 L1068.5 1189.1 L1070.5 1190.3 L1072.5 1191.4 L1074.5 1192.4 L1076.5 1193.4 L1078.5 1194.3 L1080.5 1195.2 L1082.5 1196.2 L1084.5 1197.1 L1086.5 1198.0 L1088.5 1198.9 L1090.5 1199.8 L1092.5 1200.8 L1094.5 1201.7 L1096.5 1202.7 L1098.5 1203.6 L1100.5 1204.6 L1102.5 1205.6 L1104.5 1206.6 L1106.5 1207.6 L1108.5 1208.5 L1110.5 1209.5 L1112.5 1210.4 L1114.5 1211.3 L1116.5 1212.1 L1118.5 1213.0 L1120.5 1213.9 L1122.5 1214.7 L1124.5 1215.6 L1126.5 1216.4 L1128.5 1217.2 L1130.5 1218.0 L1132.5 1218.8 L1134.5 1219.5 L1136.5 1220.2 L1138.5 1220.8 L1140.5 1221.5 L1142.5 1222.1 L1144.5 1222.7 L1146.5 1223.3 L1148.5 1224.0 L1150.5 1224.6 L1152.5 1225.2 L1154.5 1225.9 L1156.5 1226.6 L1158.5 1227.3 L1160.5 1228.1 L1162.5 1229.0 L1164.5 1229.9 L1166.5 1230.9 L1168.5 1231.9 L1170.5 1232.8 L1172.5 1233.8 L1174.5 1234.7 L1176.5 1235.7 L1178.5 1236.6 L1180.5 1237.6 L1182.5 1238.5 L1184.5 1239.5 L1186.5 1240.4 L1188.5 1241.4 L1190.5 1242.3 L1192.5 1243.3 L1194.5 1244.2 L1196.5 1245.0 L1198.5 1245.9 L1200.5 1246.7 L1202.5 1247.5 L1204.5 1248.3 L1206.5 1249.1 L1208.5 1249.9 L1210.5 1250.6 L1212.5 1251.3 L1214.5 1252.0 L1216.5 1252.7 L1218.5 1253.4 L1220.5 1254.0 L1222.5 1254.6 L1224.5 1255.2 L1226.5 1255.7 L1228.5 1256.3 L1230.5 1256.8 L1232.5 1257.3 L1234.5 1257.8 L1236.5 1258.2 L1238.5 1258.7 L1240.5 1259.1 L1242.5 1259.5 L1244.5 1260.0 L1246.5 1260.4 L1248.5 1260.9 L1250.5 1261.4 L1252.5 1261.9 L1254.5 1262.5 L1256.5 1263.0 L1258.5 1263.5 L1260.5 1264.1 L1262.5 1264.6 L1264.5 1265.1 L1266.5 1265.7 L1268.5 1266.2 L1270.5 1266.7 L1272.5 1267.3 L1274.5 1267.7 L1276.5 1268.2 L1278.5 1268.6 L1280.5 1269.0 L1282.5 1269.4 L1284.5 1269.8 L1286.5 1270.2 L1288.5 1270.6 L1290.5 1271.0 L1292.5 1271.5 L1294.5 1272.0 L1296.5 1272.5 L1298.5 1273.0 L1300.5 1273.5 L1302.5 1274.1 L1304.5 1274.7 L1306.5 1275.3 L1308.5 1275.9 L1310.5 1276.5 L1312.5 1277.1 L1314.5 1277.7 L1316.5 1278.3 L1318.5 1278.8 L1320.5 1279.3 L1322.5 1279.8 L1324.5 1280.2 L1326.5 1280.6 L1328.5 1280.9 L1330.5 1281.1 L1332.5 1281.4 L1334.5 1281.6 L1336.5 1281.8 L1338.5 1282.0 L1340.5 1282.2 L1342.5 1282.4 L1344.5 1282.6 L1346.5 1282.9 L1348.5 1283.1 L1350.5 1283.4 L1352.5 1283.7 L1354.5 1284.1 L1356.5 1284.5 L1358.5 1284.9 L1360.5 1285.3 L1362.5 1285.7 L1364.5 1286.1 L1366.5 1286.6 L1368.5 1287.0 L1370.5 1287.4 L1372.5 1287.9 L1374.5 1288.3 L1376.5 1288.7 L1378.5 1289.1 L1380.5 1289.5 L1382.5 1289.9 L1384.5 1290.3 L1386.5 1290.7 L1388.5 1291.1 L1390.5 1291.5 L1392.5 1291.9 L1394.5 1292.3 L1396.5 1292.7 L1398.5 1293.1 L1400.5 1293.5 L1402.5 1293.9 L1404.5 1294.2 L1406.5 1294.6 L1408.5 1295.0 L1410.5 1295.4 L1412.5 1295.7 L1414.5 1296.1 L1416.5 1296.5 L1418.5 1296.8 L1420.5 1297.1 L1422.5 1297.5 L1424.5 1297.8 L1426.5 1298.1 L1428.5 1298.4 L1430.5 1298.7 L1432.5 1299.0 L1434.5 1299.3 L1436.5 1299.6 L1438.5 1299.8 L1440.5 1300.1 L1442.5 1300.4 L1444.5 1300.7 L1446.5 1300.9 L1448.5 1301.2 L1450.5 1301.5 L1452.5 1301.7 L1454.5 1302.0 L1456.5 1302.3 L1458.5 1302.5 L1460.5 1302.8 L1462.5 1303.1 L1464.5 1303.3 L1466.5 1303.6 L1468.5 1303.8 L1470.5 1304.1 L1472.5 1304.4 L1474.5 1304.6 L1476.5 1304.9 L1478.5 1305.1 L1480.5 1305.4 L1482.5 1305.7 L1484.5 1305.9 L1486.5 1306.2 L1488.5 1306.4 L1490.5 1306.7 L1492.5 1306.9 L1494.5 1307.2 L1496.5 1307.4 L1498.5 1307.7 L1500.5 1307.9 L1502.5 1308.2 L1504.5 1308.5 L1506.5 1308.8 L1508.5 1309.0 L1510.5 1309.3 L1512.5 1309.6 L1514.5 1309.9 L1516.5 1310.2 L1518.5 1310.5 L1520.5 1310.8 L1522.5 1311.1 L1524.5 1311.4 L1526.5 1311.7 L1528.5 1312.0 L1530.5 1312.3 L1532.5 1312.6 L1534.5 1312.9 L1536.5 1313.3 L1538.5 1313.6 L1540.5 1313.9 L1542.5 1314.3 L1544.5 1314.6 L1546.5 1314.9 L1548.5 1315.2 L1550.5 1315.5 L1552.5 1315.8 L1554.5 1316.1 L1556.5 1316.4 L1558.5 1316.7 L1560.5 1317.0 L1562.5 1317.2 L1564.5 1317.5 L1566.5 1317.8 L1568.5 1318.1 L1570.5 1318.3 L1572.5 1318.6 L1574.5 1318.9 L1576.5 1319.1 L1578.5 1319.4 L1580.5 1319.7 L1582.5 1319.9 L1584.5 1320.2 L1586.5 1320.4 L1588.5 1320.7 L1590.5 1320.9 L1592.5 1321.2 L1594.5 1321.4 L1596.5 1321.7 L1598.5 1321.9 L1600.5 1322.2 L1602.5 1322.5 L1604.5 1322.7 L1606.5 1323.0 L1608.5 1323.2 L1610.5 1323.5 L1612.5 1323.7 L1614.5 1324.0 L1616.5 1324.3 L1618.5 1324.5 L1620.5 1324.7 L1622.5 1325.0 L1624.5 1325.2 L1626.5 1325.4 L1628.5 1325.6 L1630.5 1325.8 L1632.5 1326.0 L1634.5 1326.1 L1636.5 1326.3 L1638.5 1326.5 L1640.5 1326.6 L1642.5 1326.8 L1644.5 1326.9 L1646.5 1327.1 L1648.5 1327.3 L1650.5 1327.5 L1652.5 1327.7 L1654.5 1328.0 L1656.5 1328.2 L1658.5 1328.5 L1660.5 1328.8 L1662.5 1329.1 L1664.5 1329.4 L1666.5 1329.7 L1668.5 1330.0 L1670.5 1330.2 L1672.5 1330.5 L1674.5 1330.8 L1676.5 1331.0 L1678.5 1331.2 L1680.5 1331.4 L1682.5 1331.5 L1684.5 1331.7 L1686.5 1331.9 L1688.5 1332.0 L1690.5 1332.2 L1692.5 1332.3 L1694.5 1332.5 L1696.5 1332.7 L1698.5 1332.8 L1700.5 1333.0 L1702.5 1333.2 L1704.5 1333.4 L1706.5 1333.6 L1708.5 1333.8 L1710.5 1334.0 L1712.5 1334.2 L1714.5 1334.4 L1716.5 1334.6 L1718.5 1334.8 L1720.5 1335.0 L1722.5 1335.2 L1724.5 1335.4 L1726.5 1335.6 L1728.5 1335.7 L1730.5 1335.9 L1732.5 1336.1 L1734.5 1336.2 L1736.5 1336.4 L1738.5 1336.5 L1740.5 1336.7 L1742.5 1336.8 L1744.5 1336.9 L1746.5 1337.1 L1748.5 1337.2 L1750.5 1337.3 L1752.5 1337.4 L1754.5 1337.5 L1756.5 1337.6 L1758.5 1337.7 L1760.5 1337.8 L1762.5 1337.9 L1764.5 1338.0 L1766.5 1338.0 L1768.5 1338.1 L1770.5 1338.2 L1772.5 1338.3 L1774.5 1338.4 L1776.5 1338.5 L1778.5 1338.7 L1780.5 1338.8 L1782.5 1338.9 L1784.5 1339.0 L1786.5 1339.1 L1788.5 1339.3 L1790.5 1339.4 L1792.5 1339.5 L1794.5 1339.6 L1796.5 1339.8 L1798.5 1339.9 L1800.5 1340.0 L1802.5 1340.2 L1804.5 1340.3 L1806.5 1340.4 L1808.5 1340.6 L1810.5 1340.7 L1812.5 1340.9 L1814.5 1341.0 L1816.5 1341.1 L1818.5 1341.3 L1820.5 1341.4 L1822.5 1341.6 L1824.5 1341.7 L1826.5 1341.9 L1828.5 1342.0 L1830.5 1342.1 L1832.5 1342.3 L1834.5 1342.4 L1836.5 1342.6 L1838.5 1342.7 L1840.5 1342.8 L1842.5 1343.0 L1844.5 1343.1 L1846.5 1343.3 L1848.5 1343.4 L1850.5 1343.5 L1852.5 1343.7 L1854.5 1343.8 L1856.5 1343.9 L1858.5 1344.1 L1860.5 1344.2 L1862.5 1344.4 L1864.5 1344.5 L1866.5 1344.6 L1868.5 1344.8 L1870.5 1344.9 L1872.5 1345.1 L1874.5 1345.2 L1876.5 1345.4 L1878.5 1345.5 L1880.5 1345.6 L1882.5 1345.8 L1884.5 1345.9 L1886.5 1346.1 L1888.5 1346.2 L1890.5 1346.4 L1892.5 1346.5 L1894.5 1346.6 L1896.5 1346.8 L1898.5 1346.9 L1900.5 1347.1 L1902.5 1347.2 L1904.5 1347.3 L1906.5 1347.5 L1908.5 1347.6 L1910.5 1347.7 L1912.5 1347.9 L1914.5 1348.0 L1916.5 1348.1 L1918.5 1348.3 L1920.5 1348.4 L1922.5 1348.5 L1924.5 1348.7 L1926.5 1348.8 L1928.5 1348.9 L1930.5 1349.0 L1932.5 1349.2 L1934.5 1349.3 L1936.5 1349.4 L1938.5 1349.5 L1940.5 1349.6 L1942.5 1349.7 L1944.5 1349.9 L1946.5 1350.0 L1948.5 1350.1 L1950.5 1350.2 L1952.5 1350.3 L1954.5 1350.4 L1956.5 1350.6 L1958.5 1350.7 L1960.5 1350.8 L1962.5 1350.9 L1964.5 1351.0 L1966.5 1351.1 L1968.5 1351.2 L1970.5 1351.3 L1972.5 1351.4 L1974.5 1351.5 L1976.5 1351.6 L1978.5 1351.7 L1980.5 1351.9 L1982.5 1352.0 L1984.5 1352.1 L1986.5 1352.2 L1988.5 1352.3 L1990.5 1352.4 L1992.5 1352.5 L1994.5 1352.6 L1996.5 1352.7 L1998.5 1352.8 L2000.5 1352.9 L2002.5 1352.9 L2003.5 1353.0"/>
<path stroke="#FF0080" stroke-width="6" shape-rendering="crispEdges" d="M258.5 729.5 L260.5 729.5 L262.5 729.5 L264.5 729.4 L266.5 729.4 L268.5 729.3 L270.5 729.2 L272.5 729.1 L274.5 729.0 L276.5 728.9 L278.5 728.8 L280.5 728.6 L282.5 728.5 L284.5 728.2 L286.5 727.9 L288.5 727.6 L290.5 727.4 L292.5 727.2 L294.5 727.1 L296.5 727.1 L298.5 727.3 L300.5 727.7 L302.5 728.1 L304.5 728.6 L306.5 729.2 L308.5 729.7 L310.5 730.4 L312.5 731.0 L314.5 731.8 L316.5 732.6 L318.5 733.4 L320.5 734.2 L322.5 735.1 L324.5 735.9 L326.5 736.8 L328.5 737.7 L330.5 738.6 L332.5 739.5 L334.5 740.4 L336.5 741.4 L338.5 742.3 L340.5 743.3 L342.5 744.2 L344.5 745.2 L346.5 746.2 L348.5 747.3 L350.5 748.4 L352.5 749.6 L354.5 750.9 L356.5 752.3 L358.5 753.8 L360.5 755.3 L362.5 756.8 L364.5 758.4 L366.5 760.1 L368.5 761.9 L370.5 763.7 L372.5 765.6 L374.5 767.5 L376.5 769.3 L378.5 771.2 L380.5 773.2 L382.5 775.1 L384.5 777.2 L386.5 779.3 L388.5 781.5 L390.5 783.9 L392.5 786.4 L394.5 788.9 L396.5 791.6 L398.5 794.3 L400.5 797.1 L402.5 800.0 L404.5 802.9 L406.5 806.0 L408.5 809.1 L410.5 812.1 L412.5 815.1 L414.5 818.0 L416.5 820.8 L418.5 823.5 L420.5 826.2 L422.5 829.0 L424.5 831.9 L426.5 834.9 L428.5 837.9 L430.5 841.0 L432.5 844.3 L434.5 847.5 L436.5 850.9 L438.5 854.3 L440.5 857.7 L442.5 861.3 L444.5 864.9 L446.5 868.5 L448.5 872.1 L450.5 875.8 L452.5 879.4 L454.5 883.1 L456.5 886.7 L458.5 890.4 L460.5 893.9 L462.5 897.4 L464.5 900.7 L466.5 903.9 L468.5 907.1 L470.5 910.2 L472.5 913.2 L474.5 916.2 L476.5 919.2 L478.5 922.2 L480.5 925.1 L482.5 928.1 L484.5 931.0 L486.5 933.8 L488.5 936.6 L490.5 939.3 L492.5 942.0 L494.5 944.6 L496.5 947.2 L498.5 949.8 L500.5 952.3 L502.5 954.8 L504.5 957.2 L506.5 959.7 L508.5 962.1 L510.5 964.4 L512.5 966.7 L514.5 968.9 L516.5 971.0 L518.5 973.1 L520.5 975.1 L522.5 977.1 L524.5 979.0 L526.5 980.8 L528.5 982.5 L530.5 984.2 L532.5 985.8 L534.5 987.3 L536.5 988.8 L538.5 990.3 L540.5 991.8 L542.5 993.3 L544.5 994.7 L546.5 996.1 L548.5 997.5 L550.5 998.8 L552.5 1000.1 L554.5 1001.4 L556.5 1002.6 L558.5 1003.8 L560.5 1005.0 L562.5 1006.1 L564.5 1007.0 L566.5 1008.0 L568.5 1008.8 L570.5 1009.7 L572.5 1010.4 L574.5 1011.1 L576.5 1011.8 L578.5 1012.3 L580.5 1012.8 L582.5 1013.3 L584.5 1013.7 L586.5 1014.2 L588.5 1014.7 L590.5 1015.3 L592.5 1016.0 L594.5 1016.7 L596.5 1017.4 L598.5 1018.2 L600.5 1019.0 L602.5 1019.8 L604.5 1020.8 L606.5 1021.7 L608.5 1022.7 L610.5 1023.6 L612.5 1024.4 L614.5 1025.2 L616.5 1025.8 L618.5 1026.4 L620.5 1026.9 L622.5 1027.4 L624.5 1027.8 L626.5 1028.1 L628.5 1028.3 L630.5 1028.5 L632.5 1028.7 L634.5 1028.9 L636.5 1029.0 L638.5 1029.3 L640.5 1029.5 L642.5 1029.9 L644.5 1030.3 L646.5 1030.7 L648.5 1031.1 L650.5 1031.6 L652.5 1032.1 L654.5 1032.6 L656.5 1033.1 L658.5 1033.6 L660.5 1034.2 L662.5 1034.7 L664.5 1035.2 L666.5 1035.7 L668.5 1036.1 L670.5 1036.5 L672.5 1036.9 L674.5 1037.3 L676.5 1037.6 L678.5 1037.8 L680.5 1037.9 L682.5 1038.1 L684.5 1038.2 L686.5 1038.4 L688.5 1038.5 L690.5 1038.7 L692.5 1038.9 L694.5 1039.1 L696.5 1039.4 L698.5 1039.6 L700.5 1039.9 L702.5 1040.3 L704.5 1040.7 L706.5 1041.3 L708.5 1041.9 L710.5 1042.5 L712.5 1043.1 L714.5 1043.7 L716.5 1044.2 L718.5 1044.7 L720.5 1045.2 L722.5 1045.8 L724.5 1046.3 L726.5 1046.8 L728.5 1047.4 L730.5 1047.9 L732.5 1048.4 L734.5 1049.0 L736.5 1049.6 L738.5 1050.4 L740.5 1051.2 L742.5 1052.3 L744.5 1053.5 L746.5 1054.8 L748.5 1056.1 L750.5 1057.3 L752.5 1058.5 L754.5 1059.6 L756.5 1060.6 L758.5 1061.6 L760.5 1062.6 L762.5 1063.4 L764.5 1064.2 L766.5 1065.0 L768.5 1065.7 L770.5 1066.3 L772.5 1066.9 L774.5 1067.4 L776.5 1068.0 L778.5 1068.5 L780.5 1069.0 L782.5 1069.5 L784.5 1070.1 L786.5 1070.7 L788.5 1071.3 L790.5 1071.9 L792.5 1072.5 L794.5 1073.0 L796.5 1073.5 L798.5 1073.9 L800.5 1074.3 L802.5 1074.6 L804.5 1075.0 L806.5 1075.5 L808.5 1076.0 L810.5 1076.6 L812.5 1077.3 L814.5 1078.1 L816.5 1078.9 L818.5 1079.7 L820.5 1080.4 L822.5 1081.1 L824.5 1081.8 L826.5 1082.5 L828.5 1083.1 L830.5 1083.8 L832.5 1084.4 L834.5 1085.1 L836.5 1085.7 L838.5 1086.3 L840.5 1086.9 L842.5 1087.5 L844.5 1088.1 L846.5 1088.7 L848.5 1089.2 L850.5 1089.8 L852.5 1090.4 L854.5 1091.0 L856.5 1091.6 L858.5 1092.2 L860.5 1092.9 L862.5 1093.5 L864.5 1094.2 L866.5 1094.9 L868.5 1095.6 L870.5 1096.3 L872.5 1097.1 L874.5 1097.8 L876.5 1098.6 L878.5 1099.4 L880.5 1100.2 L882.5 1101.2 L884.5 1102.3 L886.5 1103.5 L888.5 1104.9 L890.5 1106.3 L892.5 1107.6 L894.5 1108.9 L896.5 1110.1 L898.5 1111.3 L900.5 1112.3 L902.5 1113.3 L904.5 1114.3 L906.5 1115.2 L908.5 1116.1 L910.5 1116.9 L912.5 1117.6 L914.5 1118.4 L916.5 1119.1 L918.5 1119.7 L920.5 1120.3 L922.5 1120.9 L924.5 1121.5 L926.5 1122.0 L928.5 1122.5 L930.5 1123.1 L932.5 1123.8 L934.5 1124.5 L936.5 1125.3 L938.5 1126.3 L940.5 1127.3 L942.5 1128.2 L944.5 1129.1 L946.5 1130.0 L948.5 1130.7 L950.5 1131.5 L952.5 1132.2 L954.5 1132.9 L956.5 1133.6 L958.5 1134.3 L960.5 1135.1 L962.5 1135.9 L964.5 1136.8 L966.5 1137.7 L968.5 1138.6 L970.5 1139.6 L972.5 1140.6 L974.5 1141.8 L976.5 1143.0 L978.5 1144.2 L980.5 1145.5 L982.5 1146.7 L984.5 1148.0 L986.5 1149.2 L988.5 1150.5 L990.5 1151.8 L992.5 1153.0 L994.5 1154.1 L996.5 1155.1 L998.5 1156.0 L1000.5 1156.8 L1002.5 1157.6 L1004.5 1158.4 L1006.5 1159.1 L1008.5 1159.8 L1010.5 1160.5 L1012.5 1161.2 L1014.5 1161.9 L1016.5 1162.6 L1018.5 1163.3 L1020.5 1164.0 L1022.5 1164.7 L1024.5 1165.5 L1026.5 1166.3 L1028.5 1167.1 L1030.5 1167.9 L1032.5 1168.7 L1034.5 1169.5 L1036.5 1170.2 L1038.5 1171.0 L1040.5 1171.8 L1042.5 1172.6 L1044.5 1173.4 L1046.5 1174.4 L1048.5 1175.6 L1050.5 1176.8 L1052.5 1178.2 L1054.5 1179.5 L1056.5 1180.9 L1058.5 1182.3 L1060.5 1183.7 L1062.5 1185.1 L1064.5 1186.5 L1066.5 1187.8 L1068.5 1189.1 L1070.5 1190.3 L1072.5 1191.4 L1074.5 1192.4 L1076.5 1193.4 L1078.5 1194.3 L1080.5 1195.2 L1082.5 1196.2 L1084.5 1197.1 L1086.5 1198.0 L1088.5 1198.9 L1090.5 1199.8 L1092.5 1200.8 L1094.5 1201.7 L1096.5 1202.7 L1098.5 1203.6 L1100.5 1204.6 L1102.5 1205.6 L1104.5 1206.6 L1106.5 1207.6 L1108.5 1208.5 L1110.5 1209.5 L1112.5 1210.4 L1114.5 1211.3 L1116.5 1212.1 L1118.5 1213.0 L1120.5 1213.9 L1122.5 1214.7 L1124.5 1215.6 L1126.5 1216.4 L1128.5 1217.2 L1130.5 1218.0 L1132.5 1218.8 L1134.5 1219.5 L1136.5 1220.2 L1138.5 1220.8 L1140.5 1221.5 L1142.5 1222.1 L1144.5 1222.7 L1146.5 1223.3 L1148.5 1224.0 L1150.5 1224.6 L1152.5 1225.2 L1154.5 1225.9 L1156.5 1226.6 L1158.5 1227.3 L1160.5 1228.1 L1162.5 1229.0 L1164.5 1229.9 L1166.5 1230.9 L1168.5 1231.9 L1170.5 1232.8 L1172.5 1233.8 L1174.5 1234.7 L1176.5 1235.7 L1178.5 1236.6 L1180.5 1237.6 L1182.5 1238.5 L1184.5 1239.5 L1186.5 1240.4 L1188.5 1241.4 L1190.5 1242.3 L1192.5 1243.3 L1194.5 1244.2 L1196.5 1245.0 L1198.5 1245.9 L1200.5 1246.7 L1202.5 1247.5 L1204.5 1248.3 L1206.5 1249.1 L1208.5 1249.9 L1210.5 1250.6 L1212.5 1251.3 L1214.5 1252.0 L1216.5 1252.7 L1218.5 1253.4 L1220.5 1254.0 L1222.5 1254.6 L1224.5 1255.2 L1226.5 1255.7 L1228.5 1256.3 L1230.5 1256.8 L1232.5 1257.3 L1234.5 1257.8 L1236.5 1258.2 L1238.5 1258.7 L1240.5 1259.1 L1242.5 1259.5 L1244.5 1260.0 L1246.5 1260.4 L1248.5 1260.9 L1250.5 1261.4 L1252.5 1261.9 L1254.5 1262.5 L1256.5 1263.0 L1258.5 1263.5 L1260.5 1264.1 L1262.5 1264.6 L1264.5 1265.1 L1266.5 1265.7 L1268.5 1266.2 L1270.5 1266.7 L1272.5 1267.3 L1274.5 1267.7 L1276.5 1268.2 L1278.5 1268.6 L1280.5 1269.0 L1282.5 1269.4 L1284.5 1269.8 L1286.5 1270.2 L1288.5 1270.6 L1290.5 1271.0 L1292.5 1271.5 L1294.5 1272.0 L1296.5 1272.5 L1298.5 1273.0 L1300.5 1273.5 L1302.5 1274.1 L1304.5 1274.7 L1306.5 1275.3 L1308.5 1275.9 L1310.5 1276.5 L1312.5 1277.1 L1314.5 1277.7 L1316.5 1278.3 L1318.5 1278.8 L1320.5 1279.3 L1322.5 1279.8 L1324.5 1280.2 L1326.5 1280.6 L1328.5 1280.9 L1330.5 1281.1 L1332.5 1281.4 L1334.5 1281.6 L1336.5 1281.8 L1338.5 1282.0 L1340.5 1282.2 L1342.5 1282.4 L1344.5 1282.6 L1346.5 1282.9 L1348.5 1283.1 L1350.5 1283.4 L1352.5 1283.7 L1354.5 1284.1 L1356.5 1284.5 L1358.5 1284.9 L1360.5 1285.3 L1362.5 1285.7 L1364.5 1286.1 L1366.5 1286.6 L1368.5 1287.0 L1370.5 1287.4 L1372.5 1287.9 L1374.5 1288.3 L1376.5 1288.7 L1378.5 1289.1 L1380.5 1289.5 L1382.5 1289.9 L1384.5 1290.3 L1386.5 1290.7 L1388.5 1291.1 L1390.5 1291.5 L1392.5 1291.9 L1394.5 1292.3 L1396.5 1292.7 L1398.5 1293.1 L1400.5 1293.5 L1402.5 1293.9 L1404.5 1294.2 L1406.5 1294.6 L1408.5 1295.0 L1410.5 1295.4 L1412.5 1295.7 L1414.5 1296.1 L1416.5 1296.5 L1418.5 1296.8 L1420.5 1297.1 L1422.5 1297.5 L1424.5 1297.8 L1426.5 1298.1 L1428.5 1298.4 L1430.5 1298.7 L1432.5 1299.0 L1434.5 1299.3 L1436.5 1299.6 L1438.5 1299.8 L1440.5 1300.1 L1442.5 1300.4 L1444.5 1300.7 L1446.5 1300.9 L1448.5 1301.2 L1450.5 1301.5 L1452.5 1301.7 L1454.5 1302.0 L1456.5 1302.3 L1458.5 1302.5 L1460.5 1302.8 L1462.5 1303.1 L1464.5 1303.3 L1466.5 1303.6 L1468.5 1303.8 L1470.5 1304.1 L1472.5 1304.4 L1474.5 1304.6 L1476.5 1304.9 L1478.5 1305.1 L1480.5 1305.4 L1482.5 1305.7 L1484.5 1305.9 L1486.5 1306.2 L1488.5 1306.4 L1490.5 1306.7 L1492.5 1306.9 L1494.5 1307.2 L1496.5 1307.4 L1498.5 1307.7 L1500.5 1307.9 L1502.5 1308.2 L1504.5 1308.5 L1506.5 1308.8 L1508.5 1309.0 L1510.5 1309.3 L1512.5 1309.6 L1514.5 1309.9 L1516.5 1310.2 L1518.5 1310.5 L1520.5 1310.8 L1522.5 1311.1 L1524.5 1311.4 L1526.5 1311.7 L1528.5 1312.0 L1530.5 1312.3 L1532.5 1312.6 L1534.5 1312.9 L1536.5 1313.3 L1538.5 1313.6 L1540.5 1313.9 L1542.5 1314.3 L1544.5 1314.6 L1546.5 1314.9 L1548.5 1315.2 L1550.5 1315.5 L1552.5 1315.8 L1554.5 1316.1 L1556.5 1316.4 L1558.5 1316.7 L1560.5 1317.0 L1562.5 1317.2 L1564.5 1317.5 L1566.5 1317.8 L1568.5 1318.1 L1570.5 1318.3 L1572.5 1318.6 L1574.5 1318.9 L1576.5 1319.1 L1578.5 1319.4 L1580.5 1319.7 L1582.5 1319.9 L1584.5 1320.2 L1586.5 1320.4 L1588.5 1320.7 L1590.5 1320.9 L1592.5 1321.2 L1594.5 1321.4 L1596.5 1321.7 L1598.5 1321.9 L1600.5 1322.2 L1602.5 1322.5 L1604.5 1322.7 L1606.5 1323.0 L1608.5 1323.2 L1610.5 1323.5 L1612.5 1323.7 L1614.5 1324.0 L1616.5 1324.3 L1618.5 1324.5 L1620.5 1324.7 L1622.5 1325.0 L1624.5 1325.2 L1626.5 1325.4 L1628.5 1325.6 L1630.5 1325.8 L1632.5 1326.0 L1634.5 1326.1 L1636.5 1326.3 L1638.5 1326.5 L1640.5 1326.6 L1642.5 1326.8 L1644.5 1326.9 L1646.5 1327.1 L1648.5 1327.3 L1650.5 1327.5 L1652.5 1327.7 L1654.5 1328.0 L1656.5 1328.2 L1658.5 1328.5 L1660.5 1328.8 L1662.5 1329.1 L1664.5 1329.4 L1666.5 1329.7 L1668.5 1330.0 L1670.5 1330.2 L1672.5 1330.5 L1674.5 1330.8 L1676.5 1331.0 L1678.5 1331.2 L1680.5 1331.4 L1682.5 1331.5 L1684.5 1331.7 L1686.5 1331.9 L1688.5 1332.0 L1690.5 1332.2 L1692.5 1332.3 L1694.5 1332.5 L1696.5 1332.7 L1698.5 1332.8 L1700.5 1333.0 L1702.5 1333.2 L1704.5 1333.4 L1706.5 1333.6 L1708.5 1333.8 L1710.5 1334.0 L1712.5 1334.2 L1714.5 1334.4 L1716.5 1334.6 L1718.5 1334.8 L1720.5 1335.0 L1722.5 1335.2 L1724.5 1335.4 L1726.5 1335.6 L1728.5 1335.7 L1730.5 1335.9 L1732.5 1336.1 L1734.5 1336.2 L1736.5 1336.4 L1738.5 1336.5 L1740.5 1336.7 L1742.5 1336.8 L1744.5 1336.9 L1746.5 1337.1 L1748.5 1337.2 L1750.5 1337.3 L1752.5 1337.4 L1754.5 1337.5 L1756.5 1337.6 L1758.5 1337.7 L1760.5 1337.8 L1762.5 1337.9 L1764.5 1338.0 L1766.5 1338.0 L1768.5 1338.1 L1770.5 1338.2 L1772.5 1338.3 L1774.5 1338.4 L1776.5 1338.5 L1778.5 1338.7 L1780.5 1338.8 L1782.5 1338.9 L1784.5 1339.0 L1786.5 1339.1 L1788.5 1339.3 L1790.5 1339.4 L1792.5 1339.5 L1794.5 1339.6 L1796.5 1339.8 L1798.5 1339.9 L1800.5 1340.0 L1802.5 1340.2 L1804.5 1340.3 L1806.5 1340.4 L1808.5 1340.6 L1810.5 1340.7 L1812.5 1340.9 L1814.5 1341.0 L1816.5 1341.1 L1818.5 1341.3 L1820.5 1341.4 L1822.5 1341.6 L1824.5 1341.7 L1826.5 1341.9 L1828.5 1342.0 L1830.5 1342.1 L1832.5 1342.3 L1834.5 1342.4 L1836.5 1342.6 L1838.5 1342.7 L1840.5 1342.8 L1842.5 1343.0 L1844.5 1343.1 L1846.5 1343.3 L1848.5 1343.4 L1850.5 1343.5 L1852.5 1343.7 L1854.5 1343.8 L1856.5 1343.9 L1858.5 1344.1 L1860.5 1344.2 L1862.5 1344.4 L1864.5 1344.5 L1866.5 1344.6 L1868.5 1344.8 L1870.5 1344.9 L1872.5 1345.1 L1874.5 1345.2 L1876.5 1345.4 L1878.5 1345.5 L1880.5 1345.6 L1882.5 1345.8 L1884.5 1345.9 L1886.5 1346.1 L1888.5 1346.2 L1890.5 1346.4 L1892.5 1346.5 L1894.5 1346.6 L1896.5 1346.8 L1898.5 1346.9 L1900.5 1347.1 L1902.5 1347.2 L1904.5 1347.3 L1906.5 1347.5 L1908.5 1347.6 L1910.5 1347.7 L1912.5 1347.9 L1914.5 1348.0 L1916.5 1348.1 L1918.5 1348.3 L1920.5 1348.4 L1922.5 1348.5 L1924.5 1348.7 L1926.5 1348.8 L1928.5 1348.9 L1930.5 1349.0 L1932.5 1349.2 L1934.5 1349.3 L1936.5 1349.4 L1938.5 1349.5 L1940.5 1349.6 L1942.5 1349.7 L1944.5 1349.9 L1946.5 1350.0 L1948.5 1350.1 L1950.5 1350.2 L1952.5 1350.3 L1954.5 1350.4 L1956.5 1350.6 L1958.5 1350.7 L1960.5 1350.8 L1962.5 1350.9 L1964.5 1351.0 L1966.5 1351.1 L1968.5 1351.2 L1970.5 1351.3 L1972.5 1351.4 L1974.5 1351.5 L1976.5 1351.6 L1978.5 1351.7 L1980.5 1351.9 L1982.5 1352.0 L1984.5 1352.1 L1986.5 1352.2 L1988.5 1352.3 L1990.5 1352.4 L1992.5 1352.5 L1994.5 1352.6 L1996.5 1352.7 L1998.5 1352.8 L2000.5 1352.9 L2002.5 1352.9 L2003.5 1353.0"/>
<path stroke="#A000FF" stroke-width="4.6" d="M258.5 763.3 L260.5 763.3 L262.5 763.3 L264.5 763.3 L266.5 763.3 L268.5 763.3 L270.5 763.3 L272.5 763.3 L274.5 763.3 L276.5 763.3 L278.5 763.3 L280.5 763.3 L282.5 763.4 L284.5 763.5 L286.5 763.7 L288.5 763.9 L290.5 764.2 L292.5 764.5 L294.5 764.8 L296.5 765.1 L298.5 765.5 L300.5 765.9 L302.5 766.3 L304.5 766.8 L306.5 767.3 L308.5 767.8 L310.5 768.5 L312.5 769.1 L314.5 769.8 L316.5 770.5 L318.5 771.2 L320.5 771.9 L322.5 772.7 L324.5 773.5 L326.5 774.3 L328.5 775.2 L330.5 776.1 L332.5 777.0 L334.5 778.0 L336.5 779.0 L338.5 780.1 L340.5 781.1 L342.5 782.3 L344.5 783.5 L346.5 784.7 L348.5 786.0 L350.5 787.3 L352.5 788.7 L354.5 790.3 L356.5 791.8 L358.5 793.5 L360.5 795.2 L362.5 796.9 L364.5 798.6 L366.5 800.3 L368.5 802.0 L370.5 803.8 L372.5 805.7 L374.5 807.6 L376.5 809.6 L378.5 811.6 L380.5 813.8 L382.5 816.0 L384.5 818.3 L386.5 820.6 L388.5 822.9 L390.5 825.2 L392.5 827.6 L394.5 829.9 L396.5 832.4 L398.5 834.8 L400.5 837.3 L402.5 839.8 L404.5 842.4 L406.5 845.0 L408.5 847.6 L410.5 850.2 L412.5 852.9 L414.5 855.6 L416.5 858.3 L418.5 861.1 L420.5 863.9 L422.5 866.7 L424.5 869.6 L426.5 872.6 L428.5 875.6 L430.5 878.8 L432.5 882.0 L434.5 885.0 L436.5 887.8 L438.5 890.2 L440.5 892.4 L442.5 894.5 L444.5 896.8 L446.5 899.4 L448.5 902.2 L450.5 905.1 L452.5 908.1 L454.5 911.1 L456.5 914.0 L458.5 916.9 L460.5 919.9 L462.5 922.8 L464.5 925.8 L466.5 928.8 L468.5 931.9 L470.5 935.0 L472.5 938.3 L474.5 941.6 L476.5 944.8 L478.5 947.9 L480.5 950.8 L482.5 953.6 L484.5 956.1 L486.5 958.6 L488.5 961.0 L490.5 963.3 L492.5 965.6 L494.5 967.9 L496.5 970.2 L498.5 972.5 L500.5 974.7 L502.5 976.9 L504.5 978.9 L506.5 980.8 L508.5 982.5 L510.5 984.1 L512.5 985.7 L514.5 987.2 L516.5 988.8 L518.5 990.5 L520.5 992.2 L522.5 994.0 L524.5 995.9 L526.5 997.7 L528.5 999.5 L530.5 1001.2 L532.5 1002.7 L534.5 1004.2 L536.5 1005.7 L538.5 1007.0 L540.5 1008.4 L542.5 1009.8 L544.5 1011.1 L546.5 1012.5 L548.5 1013.9 L550.5 1015.3 L552.5 1016.6 L554.5 1017.8 L556.5 1019.0 L558.5 1020.0 L560.5 1020.9 L562.5 1021.7 L564.5 1022.6 L566.5 1023.4 L568.5 1024.2 L570.5 1025.1 L572.5 1025.9 L574.5 1026.7 L576.5 1027.5 L578.5 1028.3 L580.5 1029.0 L582.5 1029.7 L584.5 1030.4 L586.5 1031.0 L588.5 1031.6 L590.5 1032.1 L592.5 1032.7 L594.5 1033.3 L596.5 1033.9 L598.5 1034.5 L600.5 1035.1 L602.5 1035.6 L604.5 1036.3 L606.5 1036.9 L608.5 1037.6 L610.5 1038.3 L612.5 1039.0 L614.5 1039.7 L616.5 1040.4 L618.5 1040.9 L620.5 1041.4 L622.5 1041.9 L624.5 1042.2 L626.5 1042.6 L628.5 1043.0 L630.5 1043.4 L632.5 1043.9 L634.5 1044.5 L636.5 1045.1 L638.5 1045.7 L640.5 1046.4 L642.5 1047.1 L644.5 1047.8 L646.5 1048.5 L648.5 1049.1 L650.5 1049.8 L652.5 1050.5 L654.5 1051.2 L656.5 1051.9 L658.5 1052.5 L660.5 1053.2 L662.5 1053.8 L664.5 1054.4 L666.5 1055.0 L668.5 1055.5 L670.5 1056.1 L672.5 1056.5 L674.5 1057.0 L676.5 1057.5 L678.5 1058.0 L680.5 1058.4 L682.5 1058.9 L684.5 1059.4 L686.5 1059.9 L688.5 1060.4 L690.5 1060.9 L692.5 1061.4 L694.5 1062.0 L696.5 1062.6 L698.5 1063.3 L700.5 1064.0 L702.5 1064.7 L704.5 1065.4 L706.5 1066.1 L708.5 1066.9 L710.5 1067.7 L712.5 1068.6 L714.5 1069.4 L716.5 1070.2 L718.5 1070.9 L720.5 1071.5 L722.5 1072.1 L724.5 1072.6 L726.5 1073.1 L728.5 1073.6 L730.5 1074.2 L732.5 1074.7 L734.5 1075.3 L736.5 1075.8 L738.5 1076.4 L740.5 1077.0 L742.5 1077.6 L744.5 1078.3 L746.5 1079.0 L748.5 1079.7 L750.5 1080.4 L752.5 1081.2 L754.5 1081.9 L756.5 1082.6 L758.5 1083.3 L760.5 1084.0 L762.5 1084.6 L764.5 1085.2 L766.5 1085.8 L768.5 1086.5 L770.5 1087.2 L772.5 1088.0 L774.5 1088.8 L776.5 1089.6 L778.5 1090.4 L780.5 1091.2 L782.5 1092.0 L784.5 1092.6 L786.5 1093.2 L788.5 1093.8 L790.5 1094.4 L792.5 1095.0 L794.5 1095.6 L796.5 1096.3 L798.5 1097.1 L800.5 1097.9 L802.5 1098.7 L804.5 1099.5 L806.5 1100.3 L808.5 1101.2 L810.5 1102.0 L812.5 1102.8 L814.5 1103.6 L816.5 1104.4 L818.5 1105.2 L820.5 1105.9 L822.5 1106.6 L824.5 1107.2 L826.5 1107.9 L828.5 1108.5 L830.5 1109.0 L832.5 1109.5 L834.5 1110.0 L836.5 1110.4 L838.5 1110.8 L840.5 1111.1 L842.5 1111.5 L844.5 1111.9 L846.5 1112.4 L848.5 1112.9 L850.5 1113.5 L852.5 1114.1 L854.5 1114.8 L856.5 1115.5 L858.5 1116.2 L860.5 1117.0 L862.5 1117.9 L864.5 1118.8 L866.5 1119.7 L868.5 1120.6 L870.5 1121.4 L872.5 1122.2 L874.5 1122.9 L876.5 1123.6 L878.5 1124.3 L880.5 1125.0 L882.5 1125.8 L884.5 1126.5 L886.5 1127.3 L888.5 1128.0 L890.5 1128.8 L892.5 1129.6 L894.5 1130.5 L896.5 1131.4 L898.5 1132.3 L900.5 1133.3 L902.5 1134.3 L904.5 1135.3 L906.5 1136.4 L908.5 1137.5 L910.5 1138.7 L912.5 1139.9 L914.5 1141.2 L916.5 1142.4 L918.5 1143.5 L920.5 1144.6 L922.5 1145.6 L924.5 1146.4 L926.5 1147.3 L928.5 1148.1 L930.5 1148.8 L932.5 1149.6 L934.5 1150.3 L936.5 1151.0 L938.5 1151.6 L940.5 1152.3 L942.5 1152.9 L944.5 1153.6 L946.5 1154.3 L948.5 1155.0 L950.5 1155.6 L952.5 1156.3 L954.5 1157.1 L956.5 1157.8 L958.5 1158.7 L960.5 1159.6 L962.5 1160.6 L964.5 1161.6 L966.5 1162.7 L968.5 1163.7 L970.5 1164.6 L972.5 1165.5 L974.5 1166.3 L976.5 1167.1 L978.5 1167.9 L980.5 1168.7 L982.5 1169.5 L984.5 1170.3 L986.5 1171.2 L988.5 1172.2 L990.5 1173.1 L992.5 1174.1 L994.5 1175.0 L996.5 1175.9 L998.5 1176.8 L1000.5 1177.6 L1002.5 1178.5 L1004.5 1179.4 L1006.5 1180.2 L1008.5 1181.2 L1010.5 1182.1 L1012.5 1183.1 L1014.5 1184.2 L1016.5 1185.2 L1018.5 1186.2 L1020.5 1187.2 L1022.5 1188.2 L1024.5 1189.1 L1026.5 1190.1 L1028.5 1191.0 L1030.5 1191.9 L1032.5 1192.8 L1034.5 1193.6 L1036.5 1194.4 L1038.5 1195.2 L1040.5 1195.9 L1042.5 1196.7 L1044.5 1197.6 L1046.5 1198.5 L1048.5 1199.5 L1050.5 1200.5 L1052.5 1201.6 L1054.5 1202.7 L1056.5 1203.9 L1058.5 1204.9 L1060.5 1206.0 L1062.5 1207.0 L1064.5 1208.0 L1066.5 1209.0 L1068.5 1210.0 L1070.5 1210.9 L1072.5 1211.8 L1074.5 1212.6 L1076.5 1213.5 L1078.5 1214.2 L1080.5 1215.0 L1082.5 1215.8 L1084.5 1216.6 L1086.5 1217.4 L1088.5 1218.2 L1090.5 1219.0 L1092.5 1219.8 L1094.5 1220.6 L1096.5 1221.4 L1098.5 1222.3 L1100.5 1223.2 L1102.5 1224.1 L1104.5 1224.9 L1106.5 1225.8 L1108.5 1226.7 L1110.5 1227.5 L1112.5 1228.3 L1114.5 1229.1 L1116.5 1229.9 L1118.5 1230.7 L1120.5 1231.5 L1122.5 1232.3 L1124.5 1233.1 L1126.5 1233.9 L1128.5 1234.7 L1130.5 1235.5 L1132.5 1236.3 L1134.5 1237.0 L1136.5 1237.7 L1138.5 1238.4 L1140.5 1239.1 L1142.5 1239.8 L1144.5 1240.6 L1146.5 1241.4 L1148.5 1242.3 L1150.5 1243.2 L1152.5 1244.3 L1154.5 1245.3 L1156.5 1246.3 L1158.5 1247.3 L1160.5 1248.3 L1162.5 1249.3 L1164.5 1250.3 L1166.5 1251.2 L1168.5 1252.1 L1170.5 1253.0 L1172.5 1253.8 L1174.5 1254.5 L1176.5 1255.2 L1178.5 1255.9 L1180.5 1256.5 L1182.5 1257.2 L1184.5 1257.8 L1186.5 1258.4 L1188.5 1259.0 L1190.5 1259.6 L1192.5 1260.2 L1194.5 1260.8 L1196.5 1261.4 L1198.5 1262.0 L1200.5 1262.7 L1202.5 1263.4 L1204.5 1264.1 L1206.5 1264.8 L1208.5 1265.5 L1210.5 1266.1 L1212.5 1266.8 L1214.5 1267.4 L1216.5 1268.0 L1218.5 1268.6 L1220.5 1269.2 L1222.5 1269.7 L1224.5 1270.3 L1226.5 1270.8 L1228.5 1271.4 L1230.5 1271.9 L1232.5 1272.3 L1234.5 1272.7 L1236.5 1273.1 L1238.5 1273.4 L1240.5 1273.6 L1242.5 1273.9 L1244.5 1274.2 L1246.5 1274.5 L1248.5 1274.8 L1250.5 1275.1 L1252.5 1275.4 L1254.5 1275.8 L1256.5 1276.1 L1258.5 1276.5 L1260.5 1276.8 L1262.5 1277.2 L1264.5 1277.6 L1266.5 1278.0 L1268.5 1278.4 L1270.5 1278.8 L1272.5 1279.2 L1274.5 1279.6 L1276.5 1280.0 L1278.5 1280.4 L1280.5 1280.8 L1282.5 1281.2 L1284.5 1281.6 L1286.5 1282.0 L1288.5 1282.4 L1290.5 1282.9 L1292.5 1283.3 L1294.5 1283.8 L1296.5 1284.3 L1298.5 1284.8 L1300.5 1285.3 L1302.5 1285.7 L1304.5 1286.2 L1306.5 1286.6 L1308.5 1287.1 L1310.5 1287.5 L1312.5 1288.0 L1314.5 1288.4 L1316.5 1288.8 L1318.5 1289.2 L1320.5 1289.6 L1322.5 1290.0 L1324.5 1290.4 L1326.5 1290.7 L1328.5 1290.9 L1330.5 1291.2 L1332.5 1291.4 L1334.5 1291.7 L1336.5 1291.9 L1338.5 1292.1 L1340.5 1292.3 L1342.5 1292.5 L1344.5 1292.8 L1346.5 1293.0 L1348.5 1293.2 L1350.5 1293.5 L1352.5 1293.8 L1354.5 1294.1 L1356.5 1294.5 L1358.5 1294.8 L1360.5 1295.2 L1362.5 1295.6 L1364.5 1295.9 L1366.5 1296.3 L1368.5 1296.7 L1370.5 1297.1 L1372.5 1297.5 L1374.5 1297.8 L1376.5 1298.2 L1378.5 1298.5 L1380.5 1298.9 L1382.5 1299.2 L1384.5 1299.6 L1386.5 1299.9 L1388.5 1300.3 L1390.5 1300.6 L1392.5 1301.0 L1394.5 1301.3 L1396.5 1301.6 L1398.5 1302.0 L1400.5 1302.3 L1402.5 1302.6 L1404.5 1302.9 L1406.5 1303.2 L1408.5 1303.5 L1410.5 1303.8 L1412.5 1304.1 L1414.5 1304.4 L1416.5 1304.7 L1418.5 1304.9 L1420.5 1305.2 L1422.5 1305.5 L1424.5 1305.8 L1426.5 1306.1 L1428.5 1306.4 L1430.5 1306.7 L1432.5 1307.1 L1434.5 1307.4 L1436.5 1307.7 L1438.5 1308.0 L1440.5 1308.3 L1442.5 1308.6 L1444.5 1308.9 L1446.5 1309.2 L1448.5 1309.5 L1450.5 1309.8 L1452.5 1310.0 L1454.5 1310.2 L1456.5 1310.4 L1458.5 1310.7 L1460.5 1310.9 L1462.5 1311.1 L1464.5 1311.3 L1466.5 1311.5 L1468.5 1311.6 L1470.5 1311.8 L1472.5 1312.0 L1474.5 1312.2 L1476.5 1312.4 L1478.5 1312.5 L1480.5 1312.7 L1482.5 1312.9 L1484.5 1313.0 L1486.5 1313.2 L1488.5 1313.3 L1490.5 1313.5 L1492.5 1313.6 L1494.5 1313.8 L1496.5 1313.9 L1498.5 1314.1 L1500.5 1314.3 L1502.5 1314.4 L1504.5 1314.6 L1506.5 1314.8 L1508.5 1315.0 L1510.5 1315.2 L1512.5 1315.4 L1514.5 1315.6 L1516.5 1315.8 L1518.5 1316.0 L1520.5 1316.2 L1522.5 1316.4 L1524.5 1316.6 L1526.5 1316.9 L1528.5 1317.1 L1530.5 1317.4 L1532.5 1317.7 L1534.5 1318.0 L1536.5 1318.3 L1538.5 1318.6 L1540.5 1318.9 L1542.5 1319.3 L1544.5 1319.6 L1546.5 1319.9 L1548.5 1320.2 L1550.5 1320.5 L1552.5 1320.8 L1554.5 1321.1 L1556.5 1321.4 L1558.5 1321.7 L1560.5 1321.9 L1562.5 1322.2 L1564.5 1322.5 L1566.5 1322.8 L1568.5 1323.1 L1570.5 1323.3 L1572.5 1323.6 L1574.5 1323.9 L1576.5 1324.1 L1578.5 1324.4 L1580.5 1324.7 L1582.5 1324.9 L1584.5 1325.2 L1586.5 1325.5 L1588.5 1325.7 L1590.5 1326.0 L1592.5 1326.3 L1594.5 1326.5 L1596.5 1326.8 L1598.5 1327.0 L1600.5 1327.3 L1602.5 1327.6 L1604.5 1327.8 L1606.5 1328.1 L1608.5 1328.3 L1610.5 1328.6 L1612.5 1328.9 L1614.5 1329.1 L1616.5 1329.4 L1618.5 1329.7 L1620.5 1329.9 L1622.5 1330.1 L1624.5 1330.4 L1626.5 1330.6 L1628.5 1330.8 L1630.5 1331.0 L1632.5 1331.2 L1634.5 1331.4 L1636.5 1331.6 L1638.5 1331.8 L1640.5 1332.0 L1642.5 1332.2 L1644.5 1332.4 L1646.5 1332.6 L1648.5 1332.8 L1650.5 1333.0 L1652.5 1333.2 L1654.5 1333.5 L1656.5 1333.7 L1658.5 1334.0 L1660.5 1334.3 L1662.5 1334.5 L1664.5 1334.8 L1666.5 1335.1 L1668.5 1335.4 L1670.5 1335.7 L1672.5 1335.9 L1674.5 1336.2 L1676.5 1336.4 L1678.5 1336.6 L1680.5 1336.8 L1682.5 1337.0 L1684.5 1337.2 L1686.5 1337.4 L1688.5 1337.6 L1690.5 1337.7 L1692.5 1337.9 L1694.5 1338.1 L1696.5 1338.3 L1698.5 1338.4 L1700.5 1338.6 L1702.5 1338.8 L1704.5 1338.9 L1706.5 1339.1 L1708.5 1339.3 L1710.5 1339.4 L1712.5 1339.6 L1714.5 1339.7 L1716.5 1339.9 L1718.5 1340.0 L1720.5 1340.2 L1722.5 1340.4 L1724.5 1340.5 L1726.5 1340.7 L1728.5 1340.9 L1730.5 1341.0 L1732.5 1341.2 L1734.5 1341.4 L1736.5 1341.6 L1738.5 1341.8 L1740.5 1342.0 L1742.5 1342.2 L1744.5 1342.3 L1746.5 1342.5 L1748.5 1342.7 L1750.5 1342.8 L1752.5 1342.9 L1754.5 1343.0 L1756.5 1343.1 L1758.5 1343.2 L1760.5 1343.3 L1762.5 1343.4 L1764.5 1343.5 L1766.5 1343.5 L1768.5 1343.6 L1770.5 1343.7 L1772.5 1343.8 L1774.5 1343.9 L1776.5 1344.0 L1778.5 1344.1 L1780.5 1344.2 L1782.5 1344.3 L1784.5 1344.4 L1786.5 1344.5 L1788.5 1344.6 L1790.5 1344.7 L1792.5 1344.8 L1794.5 1344.9 L1796.5 1345.0 L1798.5 1345.1 L1800.5 1345.2 L1802.5 1345.3 L1804.5 1345.5 L1806.5 1345.6 L1808.5 1345.7 L1810.5 1345.8 L1812.5 1345.9 L1814.5 1346.0 L1816.5 1346.1 L1818.5 1346.2 L1820.5 1346.3 L1822.5 1346.4 L1824.5 1346.5 L1826.5 1346.7 L1828.5 1346.8 L1830.5 1346.9 L1832.5 1347.0 L1834.5 1347.1 L1836.5 1347.2 L1838.5 1347.3 L1840.5 1347.5 L1842.5 1347.6 L1844.5 1347.7 L1846.5 1347.8 L1848.5 1347.9 L1850.5 1348.0 L1852.5 1348.1 L1854.5 1348.3 L1856.5 1348.4 L1858.5 1348.5 L1860.5 1348.6 L1862.5 1348.8 L1864.5 1348.9 L1866.5 1349.0 L1868.5 1349.1 L1870.5 1349.3 L1872.5 1349.4 L1874.5 1349.5 L1876.5 1349.7 L1878.5 1349.8 L1880.5 1349.9 L1882.5 1350.0 L1884.5 1350.2 L1886.5 1350.3 L1888.5 1350.4 L1890.5 1350.6 L1892.5 1350.7 L1894.5 1350.8 L1896.5 1351.0 L1898.5 1351.1 L1900.5 1351.2 L1902.5 1351.4 L1904.5 1351.5 L1906.5 1351.6 L1908.5 1351.7 L1910.5 1351.9 L1912.5 1352.0 L1914.5 1352.1 L1916.5 1352.2 L1918.5 1352.3 L1920.5 1352.5 L1922.5 1352.6 L1924.5 1352.7 L1926.5 1352.8 L1928.5 1352.9 L1930.5 1353.0 L1932.5 1353.1 L1934.5 1353.2 L1936.5 1353.3 L1938.5 1353.5 L1940.5 1353.6 L1942.5 1353.7 L1944.5 1353.8 L1946.5 1353.9 L1948.5 1354.0 L1950.5 1354.1 L1952.5 1354.2 L1954.5 1354.3 L1956.5 1354.4 L1958.5 1354.5 L1960.5 1354.6 L1962.5 1354.7 L1964.5 1354.8 L1966.5 1354.9 L1968.5 1355.0 L1970.5 1355.1 L1972.5 1355.1 L1974.5 1355.2 L1976.5 1355.3 L1978.5 1355.4 L1980.5 1355.5 L1982.5 1355.6 L1984.5 1355.7 L1986.5 1355.8 L1988.5 1355.9 L1990.5 1356.0 L1992.5 1356.0 L1994.5 1356.1 L1996.5 1356.2 L1998.5 1356.3 L2000.5 1356.4 L2002.5 1356.4 L2003.5 1356.5"/>
<path stroke="#A000FF" stroke-width="6" shape-rendering="crispEdges" d="M258.5 763.3 L260.5 763.3 L262.5 763.3 L264.5 763.3 L266.5 763.3 L268.5 763.3 L270.5 763.3 L272.5 763.3 L274.5 763.3 L276.5 763.3 L278.5 763.3 L280.5 763.3 L282.5 763.4 L284.5 763.5 L286.5 763.7 L288.5 763.9 L290.5 764.2 L292.5 764.5 L294.5 764.8 L296.5 765.1 L298.5 765.5 L300.5 765.9 L302.5 766.3 L304.5 766.8 L306.5 767.3 L308.5 767.8 L310.5 768.5 L312.5 769.1 L314.5 769.8 L316.5 770.5 L318.5 771.2 L320.5 771.9 L322.5 772.7 L324.5 773.5 L326.5 774.3 L328.5 775.2 L330.5 776.1 L332.5 777.0 L334.5 778.0 L336.5 779.0 L338.5 780.1 L340.5 781.1 L342.5 782.3 L344.5 783.5 L346.5 784.7 L348.5 786.0 L350.5 787.3 L352.5 788.7 L354.5 790.3 L356.5 791.8 L358.5 793.5 L360.5 795.2 L362.5 796.9 L364.5 798.6 L366.5 800.3 L368.5 802.0 L370.5 803.8 L372.5 805.7 L374.5 807.6 L376.5 809.6 L378.5 811.6 L380.5 813.8 L382.5 816.0 L384.5 818.3 L386.5 820.6 L388.5 822.9 L390.5 825.2 L392.5 827.6 L394.5 829.9 L396.5 832.4 L398.5 834.8 L400.5 837.3 L402.5 839.8 L404.5 842.4 L406.5 845.0 L408.5 847.6 L410.5 850.2 L412.5 852.9 L414.5 855.6 L416.5 858.3 L418.5 861.1 L420.5 863.9 L422.5 866.7 L424.5 869.6 L426.5 872.6 L428.5 875.6 L430.5 878.8 L432.5 882.0 L434.5 885.0 L436.5 887.8 L438.5 890.2 L440.5 892.4 L442.5 894.5 L444.5 896.8 L446.5 899.4 L448.5 902.2 L450.5 905.1 L452.5 908.1 L454.5 911.1 L456.5 914.0 L458.5 916.9 L460.5 919.9 L462.5 922.8 L464.5 925.8 L466.5 928.8 L468.5 931.9 L470.5 935.0 L472.5 938.3 L474.5 941.6 L476.5 944.8 L478.5 947.9 L480.5 950.8 L482.5 953.6 L484.5 956.1 L486.5 958.6 L488.5 961.0 L490.5 963.3 L492.5 965.6 L494.5 967.9 L496.5 970.2 L498.5 972.5 L500.5 974.7 L502.5 976.9 L504.5 978.9 L506.5 980.8 L508.5 982.5 L510.5 984.1 L512.5 985.7 L514.5 987.2 L516.5 988.8 L518.5 990.5 L520.5 992.2 L522.5 994.0 L524.5 995.9 L526.5 997.7 L528.5 999.5 L530.5 1001.2 L532.5 1002.7 L534.5 1004.2 L536.5 1005.7 L538.5 1007.0 L540.5 1008.4 L542.5 1009.8 L544.5 1011.1 L546.5 1012.5 L548.5 1013.9 L550.5 1015.3 L552.5 1016.6 L554.5 1017.8 L556.5 1019.0 L558.5 1020.0 L560.5 1020.9 L562.5 1021.7 L564.5 1022.6 L566.5 1023.4 L568.5 1024.2 L570.5 1025.1 L572.5 1025.9 L574.5 1026.7 L576.5 1027.5 L578.5 1028.3 L580.5 1029.0 L582.5 1029.7 L584.5 1030.4 L586.5 1031.0 L588.5 1031.6 L590.5 1032.1 L592.5 1032.7 L594.5 1033.3 L596.5 1033.9 L598.5 1034.5 L600.5 1035.1 L602.5 1035.6 L604.5 1036.3 L606.5 1036.9 L608.5 1037.6 L610.5 1038.3 L612.5 1039.0 L614.5 1039.7 L616.5 1040.4 L618.5 1040.9 L620.5 1041.4 L622.5 1041.9 L624.5 1042.2 L626.5 1042.6 L628.5 1043.0 L630.5 1043.4 L632.5 1043.9 L634.5 1044.5 L636.5 1045.1 L638.5 1045.7 L640.5 1046.4 L642.5 1047.1 L644.5 1047.8 L646.5 1048.5 L648.5 1049.1 L650.5 1049.8 L652.5 1050.5 L654.5 1051.2 L656.5 1051.9 L658.5 1052.5 L660.5 1053.2 L662.5 1053.8 L664.5 1054.4 L666.5 1055.0 L668.5 1055.5 L670.5 1056.1 L672.5 1056.5 L674.5 1057.0 L676.5 1057.5 L678.5 1058.0 L680.5 1058.4 L682.5 1058.9 L684.5 1059.4 L686.5 1059.9 L688.5 1060.4 L690.5 1060.9 L692.5 1061.4 L694.5 1062.0 L696.5 1062.6 L698.5 1063.3 L700.5 1064.0 L702.5 1064.7 L704.5 1065.4 L706.5 1066.1 L708.5 1066.9 L710.5 1067.7 L712.5 1068.6 L714.5 1069.4 L716.5 1070.2 L718.5 1070.9 L720.5 1071.5 L722.5 1072.1 L724.5 1072.6 L726.5 1073.1 L728.5 1073.6 L730.5 1074.2 L732.5 1074.7 L734.5 1075.3 L736.5 1075.8 L738.5 1076.4 L740.5 1077.0 L742.5 1077.6 L744.5 1078.3 L746.5 1079.0 L748.5 1079.7 L750.5 1080.4 L752.5 1081.2 L754.5 1081.9 L756.5 1082.6 L758.5 1083.3 L760.5 1084.0 L762.5 1084.6 L764.5 1085.2 L766.5 1085.8 L768.5 1086.5 L770.5 1087.2 L772.5 1088.0 L774.5 1088.8 L776.5 1089.6 L778.5 1090.4 L780.5 1091.2 L782.5 1092.0 L784.5 1092.6 L786.5 1093.2 L788.5 1093.8 L790.5 1094.4 L792.5 1095.0 L794.5 1095.6 L796.5 1096.3 L798.5 1097.1 L800.5 1097.9 L802.5 1098.7 L804.5 1099.5 L806.5 1100.3 L808.5 1101.2 L810.5 1102.0 L812.5 1102.8 L814.5 1103.6 L816.5 1104.4 L818.5 1105.2 L820.5 1105.9 L822.5 1106.6 L824.5 1107.2 L826.5 1107.9 L828.5 1108.5 L830.5 1109.0 L832.5 1109.5 L834.5 1110.0 L836.5 1110.4 L838.5 1110.8 L840.5 1111.1 L842.5 1111.5 L844.5 1111.9 L846.5 1112.4 L848.5 1112.9 L850.5 1113.5 L852.5 1114.1 L854.5 1114.8 L856.5 1115.5 L858.5 1116.2 L860.5 1117.0 L862.5 1117.9 L864.5 1118.8 L866.5 1119.7 L868.5 1120.6 L870.5 1121.4 L872.5 1122.2 L874.5 1122.9 L876.5 1123.6 L878.5 1124.3 L880.5 1125.0 L882.5 1125.8 L884.5 1126.5 L886.5 1127.3 L888.5 1128.0 L890.5 1128.8 L892.5 1129.6 L894.5 1130.5 L896.5 1131.4 L898.5 1132.3 L900.5 1133.3 L902.5 1134.3 L904.5 1135.3 L906.5 1136.4 L908.5 1137.5 L910.5 1138.7 L912.5 1139.9 L914.5 1141.2 L916.5 1142.4 L918.5 1143.5 L920.5 1144.6 L922.5 1145.6 L924.5 1146.4 L926.5 1147.3 L928.5 1148.1 L930.5 1148.8 L932.5 1149.6 L934.5 1150.3 L936.5 1151.0 L938.5 1151.6 L940.5 1152.3 L942.5 1152.9 L944.5 1153.6 L946.5 1154.3 L948.5 1155.0 L950.5 1155.6 L952.5 1156.3 L954.5 1157.1 L956.5 1157.8 L958.5 1158.7 L960.5 1159.6 L962.5 1160.6 L964.5 1161.6 L966.5 1162.7 L968.5 1163.7 L970.5 1164.6 L972.5 1165.5 L974.5 1166.3 L976.5 1167.1 L978.5 1167.9 L980.5 1168.7 L982.5 1169.5 L984.5 1170.3 L986.5 1171.2 L988.5 1172.2 L990.5 1173.1 L992.5 1174.1 L994.5 1175.0 L996.5 1175.9 L998.5 1176.8 L1000.5 1177.6 L1002.5 1178.5 L1004.5 1179.4 L1006.5 1180.2 L1008.5 1181.2 L1010.5 1182.1 L1012.5 1183.1 L1014.5 1184.2 L1016.5 1185.2 L1018.5 1186.2 L1020.5 1187.2 L1022.5 1188.2 L1024.5 1189.1 L1026.5 1190.1 L1028.5 1191.0 L1030.5 1191.9 L1032.5 1192.8 L1034.5 1193.6 L1036.5 1194.4 L1038.5 1195.2 L1040.5 1195.9 L1042.5 1196.7 L1044.5 1197.6 L1046.5 1198.5 L1048.5 1199.5 L1050.5 1200.5 L1052.5 1201.6 L1054.5 1202.7 L1056.5 1203.9 L1058.5 1204.9 L1060.5 1206.0 L1062.5 1207.0 L1064.5 1208.0 L1066.5 1209.0 L1068.5 1210.0 L1070.5 1210.9 L1072.5 1211.8 L1074.5 1212.6 L1076.5 1213.5 L1078.5 1214.2 L1080.5 1215.0 L1082.5 1215.8 L1084.5 1216.6 L1086.5 1217.4 L1088.5 1218.2 L1090.5 1219.0 L1092.5 1219.8 L1094.5 1220.6 L1096.5 1221.4 L1098.5 1222.3 L1100.5 1223.2 L1102.5 1224.1 L1104.5 1224.9 L1106.5 1225.8 L1108.5 1226.7 L1110.5 1227.5 L1112.5 1228.3 L1114.5 1229.1 L1116.5 1229.9 L1118.5 1230.7 L1120.5 1231.5 L1122.5 1232.3 L1124.5 1233.1 L1126.5 1233.9 L1128.5 1234.7 L1130.5 1235.5 L1132.5 1236.3 L1134.5 1237.0 L1136.5 1237.7 L1138.5 1238.4 L1140.5 1239.1 L1142.5 1239.8 L1144.5 1240.6 L1146.5 1241.4 L1148.5 1242.3 L1150.5 1243.2 L1152.5 1244.3 L1154.5 1245.3 L1156.5 1246.3 L1158.5 1247.3 L1160.5 1248.3 L1162.5 1249.3 L1164.5 1250.3 L1166.5 1251.2 L1168.5 1252.1 L1170.5 1253.0 L1172.5 1253.8 L1174.5 1254.5 L1176.5 1255.2 L1178.5 1255.9 L1180.5 1256.5 L1182.5 1257.2 L1184.5 1257.8 L1186.5 1258.4 L1188.5 1259.0 L1190.5 1259.6 L1192.5 1260.2 L1194.5 1260.8 L1196.5 1261.4 L1198.5 1262.0 L1200.5 1262.7 L1202.5 1263.4 L1204.5 1264.1 L1206.5 1264.8 L1208.5 1265.5 L1210.5 1266.1 L1212.5 1266.8 L1214.5 1267.4 L1216.5 1268.0 L1218.5 1268.6 L1220.5 1269.2 L1222.5 1269.7 L1224.5 1270.3 L1226.5 1270.8 L1228.5 1271.4 L1230.5 1271.9 L1232.5 1272.3 L1234.5 1272.7 L1236.5 1273.1 L1238.5 1273.4 L1240.5 1273.6 L1242.5 1273.9 L1244.5 1274.2 L1246.5 1274.5 L1248.5 1274.8 L1250.5 1275.1 L1252.5 1275.4 L1254.5 1275.8 L1256.5 1276.1 L1258.5 1276.5 L1260.5 1276.8 L1262.5 1277.2 L1264.5 1277.6 L1266.5 1278.0 L1268.5 1278.4 L1270.5 1278.8 L1272.5 1279.2 L1274.5 1279.6 L1276.5 1280.0 L1278.5 1280.4 L1280.5 1280.8 L1282.5 1281.2 L1284.5 1281.6 L1286.5 1282.0 L1288.5 1282.4 L1290.5 1282.9 L1292.5 1283.3 L1294.5 1283.8 L1296.5 1284.3 L1298.5 1284.8 L1300.5 1285.3 L1302.5 1285.7 L1304.5 1286.2 L1306.5 1286.6 L1308.5 1287.1 L1310.5 1287.5 L1312.5 1288.0 L1314.5 1288.4 L1316.5 1288.8 L1318.5 1289.2 L1320.5 1289.6 L1322.5 1290.0 L1324.5 1290.4 L1326.5 1290.7 L1328.5 1290.9 L1330.5 1291.2 L1332.5 1291.4 L1334.5 1291.7 L1336.5 1291.9 L1338.5 1292.1 L1340.5 1292.3 L1342.5 1292.5 L1344.5 1292.8 L1346.5 1293.0 L1348.5 1293.2 L1350.5 1293.5 L1352.5 1293.8 L1354.5 1294.1 L1356.5 1294.5 L1358.5 1294.8 L1360.5 1295.2 L1362.5 1295.6 L1364.5 1295.9 L1366.5 1296.3 L1368.5 1296.7 L1370.5 1297.1 L1372.5 1297.5 L1374.5 1297.8 L1376.5 1298.2 L1378.5 1298.5 L1380.5 1298.9 L1382.5 1299.2 L1384.5 1299.6 L1386.5 1299.9 L1388.5 1300.3 L1390.5 1300.6 L1392.5 1301.0 L1394.5 1301.3 L1396.5 1301.6 L1398.5 1302.0 L1400.5 1302.3 L1402.5 1302.6 L1404.5 1302.9 L1406.5 1303.2 L1408.5 1303.5 L1410.5 1303.8 L1412.5 1304.1 L1414.5 1304.4 L1416.5 1304.7 L1418.5 1304.9 L1420.5 1305.2 L1422.5 1305.5 L1424.5 1305.8 L1426.5 1306.1 L1428.5 1306.4 L1430.5 1306.7 L1432.5 1307.1 L1434.5 1307.4 L1436.5 1307.7 L1438.5 1308.0 L1440.5 1308.3 L1442.5 1308.6 L1444.5 1308.9 L1446.5 1309.2 L1448.5 1309.5 L1450.5 1309.8 L1452.5 1310.0 L1454.5 1310.2 L1456.5 1310.4 L1458.5 1310.7 L1460.5 1310.9 L1462.5 1311.1 L1464.5 1311.3 L1466.5 1311.5 L1468.5 1311.6 L1470.5 1311.8 L1472.5 1312.0 L1474.5 1312.2 L1476.5 1312.4 L1478.5 1312.5 L1480.5 1312.7 L1482.5 1312.9 L1484.5 1313.0 L1486.5 1313.2 L1488.5 1313.3 L1490.5 1313.5 L1492.5 1313.6 L1494.5 1313.8 L1496.5 1313.9 L1498.5 1314.1 L1500.5 1314.3 L1502.5 1314.4 L1504.5 1314.6 L1506.5 1314.8 L1508.5 1315.0 L1510.5 1315.2 L1512.5 1315.4 L1514.5 1315.6 L1516.5 1315.8 L1518.5 1316.0 L1520.5 1316.2 L1522.5 1316.4 L1524.5 1316.6 L1526.5 1316.9 L1528.5 1317.1 L1530.5 1317.4 L1532.5 1317.7 L1534.5 1318.0 L1536.5 1318.3 L1538.5 1318.6 L1540.5 1318.9 L1542.5 1319.3 L1544.5 1319.6 L1546.5 1319.9 L1548.5 1320.2 L1550.5 1320.5 L1552.5 1320.8 L1554.5 1321.1 L1556.5 1321.4 L1558.5 1321.7 L1560.5 1321.9 L1562.5 1322.2 L1564.5 1322.5 L1566.5 1322.8 L1568.5 1323.1 L1570.5 1323.3 L1572.5 1323.6 L1574.5 1323.9 L1576.5 1324.1 L1578.5 1324.4 L1580.5 1324.7 L1582.5 1324.9 L1584.5 1325.2 L1586.5 1325.5 L1588.5 1325.7 L1590.5 1326.0 L1592.5 1326.3 L1594.5 1326.5 L1596.5 1326.8 L1598.5 1327.0 L1600.5 1327.3 L1602.5 1327.6 L1604.5 1327.8 L1606.5 1328.1 L1608.5 1328.3 L1610.5 1328.6 L1612.5 1328.9 L1614.5 1329.1 L1616.5 1329.4 L1618.5 1329.7 L1620.5 1329.9 L1622.5 1330.1 L1624.5 1330.4 L1626.5 1330.6 L1628.5 1330.8 L1630.5 1331.0 L1632.5 1331.2 L1634.5 1331.4 L1636.5 1331.6 L1638.5 1331.8 L1640.5 1332.0 L1642.5 1332.2 L1644.5 1332.4 L1646.5 1332.6 L1648.5 1332.8 L1650.5 1333.0 L1652.5 1333.2 L1654.5 1333.5 L1656.5 1333.7 L1658.5 1334.0 L1660.5 1334.3 L1662.5 1334.5 L1664.5 1334.8 L1666.5 1335.1 L1668.5 1335.4 L1670.5 1335.7 L1672.5 1335.9 L1674.5 1336.2 L1676.5 1336.4 L1678.5 1336.6 L1680.5 1336.8 L1682.5 1337.0 L1684.5 1337.2 L1686.5 1337.4 L1688.5 1337.6 L1690.5 1337.7 L1692.5 1337.9 L1694.5 1338.1 L1696.5 1338.3 L1698.5 1338.4 L1700.5 1338.6 L1702.5 1338.8 L1704.5 1338.9 L1706.5 1339.1 L1708.5 1339.3 L1710.5 1339.4 L1712.5 1339.6 L1714.5 1339.7 L1716.5 1339.9 L1718.5 1340.0 L1720.5 1340.2 L1722.5 1340.4 L1724.5 1340.5 L1726.5 1340.7 L1728.5 1340.9 L1730.5 1341.0 L1732.5 1341.2 L1734.5 1341.4 L1736.5 1341.6 L1738.5 1341.8 L1740.5 1342.0 L1742.5 1342.2 L1744.5 1342.3 L1746.5 1342.5 L1748.5 1342.7 L1750.5 1342.8 L1752.5 1342.9 L1754.5 1343.0 L1756.5 1343.1 L1758.5 1343.2 L1760.5 1343.3 L1762.5 1343.4 L1764.5 1343.5 L1766.5 1343.5 L1768.5 1343.6 L1770.5 1343.7 L1772.5 1343.8 L1774.5 1343.9 L1776.5 1344.0 L1778.5 1344.1 L1780.5 1344.2 L1782.5 1344.3 L1784.5 1344.4 L1786.5 1344.5 L1788.5 1344.6 L1790.5 1344.7 L1792.5 1344.8 L1794.5 1344.9 L1796.5 1345.0 L1798.5 1345.1 L1800.5 1345.2 L1802.5 1345.3 L1804.5 1345.5 L1806.5 1345.6 L1808.5 1345.7 L1810.5 1345.8 L1812.5 1345.9 L1814.5 1346.0 L1816.5 1346.1 L1818.5 1346.2 L1820.5 1346.3 L1822.5 1346.4 L1824.5 1346.5 L1826.5 1346.7 L1828.5 1346.8 L1830.5 1346.9 L1832.5 1347.0 L1834.5 1347.1 L1836.5 1347.2 L1838.5 1347.3 L1840.5 1347.5 L1842.5 1347.6 L1844.5 1347.7 L1846.5 1347.8 L1848.5 1347.9 L1850.5 1348.0 L1852.5 1348.1 L1854.5 1348.3 L1856.5 1348.4 L1858.5 1348.5 L1860.5 1348.6 L1862.5 1348.8 L1864.5 1348.9 L1866.5 1349.0 L1868.5 1349.1 L1870.5 1349.3 L1872.5 1349.4 L1874.5 1349.5 L1876.5 1349.7 L1878.5 1349.8 L1880.5 1349.9 L1882.5 1350.0 L1884.5 1350.2 L1886.5 1350.3 L1888.5 1350.4 L1890.5 1350.6 L1892.5 1350.7 L1894.5 1350.8 L1896.5 1351.0 L1898.5 1351.1 L1900.5 1351.2 L1902.5 1351.4 L1904.5 1351.5 L1906.5 1351.6 L1908.5 1351.7 L1910.5 1351.9 L1912.5 1352.0 L1914.5 1352.1 L1916.5 1352.2 L1918.5 1352.3 L1920.5 1352.5 L1922.5 1352.6 L1924.5 1352.7 L1926.5 1352.8 L1928.5 1352.9 L1930.5 1353.0 L1932.5 1353.1 L1934.5 1353.2 L1936.5 1353.3 L1938.5 1353.5 L1940.5 1353.6 L1942.5 1353.7 L1944.5 1353.8 L1946.5 1353.9 L1948.5 1354.0 L1950.5 1354.1 L1952.5 1354.2 L1954.5 1354.3 L1956.5 1354.4 L1958.5 1354.5 L1960.5 1354.6 L1962.5 1354.7 L1964.5 1354.8 L1966.5 1354.9 L1968.5 1355.0 L1970.5 1355.1 L1972.5 1355.1 L1974.5 1355.2 L1976.5 1355.3 L1978.5 1355.4 L1980.5 1355.5 L1982.5 1355.6 L1984.5 1355.7 L1986.5 1355.8 L1988.5 1355.9 L1990.5 1356.0 L1992.5 1356.0 L1994.5 1356.1 L1996.5 1356.2 L1998.5 1356.3 L2000.5 1356.4 L2002.5 1356.4 L2003.5 1356.5"/>
</g>
<g id="guides" stroke="#000" fill="none" shape-rendering="crispEdges">
<line x1="444.5" y1="196" x2="444.5" y2="274" stroke-width="3" stroke-dasharray="10 7"/>
<line x1="1003" y1="202" x2="1003" y2="1205" stroke-width="2" stroke-dasharray="8.7 8.6"/>
<line x1="349" y1="563" x2="349" y2="810" stroke-width="2" stroke-dasharray="8.7 8.7"/>
</g>
<g id="annotations" class="t66">
<text transform="translate(431.00 188.60) scale(1 1.015)" font-size="67.5" fill="#000" text-anchor="start">276 nm</text>
<text transform="translate(976.40 178.60) scale(1 1.015)" font-size="67.5" fill="#000" text-anchor="start">357 nm</text>
<text transform="translate(353.30 438.10) scale(1 1.015)" font-size="67.5" fill="#FF0000" text-anchor="start">272 nm</text>
<text transform="translate(279.50 902.00) scale(1 1.015)" font-size="67.5" fill="#0000FF" text-anchor="start">259 nm</text>
</g>
<g id="arrow"><line x1="1259" y1="449" x2="1259" y2="1030" stroke="#000" stroke-width="2" shape-rendering="crispEdges"/>
<polygon points="1250.7,1025.5 1267.3,1025.5 1259,1058.5" fill="#000"/></g>
<g id="legend">
<path d="M1305 507.5 L1306 506.0 L1308 505.0 H1460 L1461 506.0 V510.4 L1460.4 511.0 H1307 L1306 510.2 L1305 508.5 Z" fill="#000000"/>
<text transform="translate(1476.00 530.40) scale(1 1.025)" font-size="66.5" fill="#000" text-anchor="start" xml:space="preserve" style="white-space:pre">0  min</text>
<path d="M1305 589.5 L1306 588.0 L1308 587.0 H1460 L1461 588.0 V592.4 L1460.4 593.0 H1307 L1306 592.2 L1305 590.5 Z" fill="#FF00FF"/>
<text transform="translate(1476.00 612.85) scale(1 1.025)" font-size="66.5" fill="#000" text-anchor="start" xml:space="preserve" style="white-space:pre">15</text>
<path d="M1305 672.5 L1306 671.0 L1308 670.0 H1460 L1461 671.0 V675.4 L1460.4 676.0 H1307 L1306 675.2 L1305 673.5 Z" fill="#808000"/>
<text transform="translate(1476.00 695.30) scale(1 1.025)" font-size="66.5" fill="#000" text-anchor="start" xml:space="preserve" style="white-space:pre">30</text>
<path d="M1305 754.5 L1306 753.0 L1308 752.0 H1460 L1461 753.0 V757.4 L1460.4 758.0 H1307 L1306 757.2 L1305 755.5 Z" fill="#008000"/>
<text transform="translate(1476.00 777.75) scale(1 1.025)" font-size="66.5" fill="#000" text-anchor="start" xml:space="preserve" style="white-space:pre">45</text>
<path d="M1305 837.5 L1306 836.0 L1308 835.0 H1460 L1461 836.0 V840.4 L1460.4 841.0 H1307 L1306 840.2 L1305 838.5 Z" fill="#FF8000"/>
<text transform="translate(1476.00 860.20) scale(1 1.025)" font-size="66.5" fill="#000" text-anchor="start" xml:space="preserve" style="white-space:pre">60</text>
<path d="M1305 919.5 L1306 918.0 L1308 917.0 H1460 L1461 918.0 V922.4 L1460.4 923.0 H1307 L1306 922.2 L1305 920.5 Z" fill="#FF0080"/>
<text transform="translate(1476.00 942.65) scale(1 1.025)" font-size="66.5" fill="#000" text-anchor="start" xml:space="preserve" style="white-space:pre">75</text>
<path d="M1305 1002.5 L1306 1001.0 L1308 1000.0 H1460 L1461 1001.0 V1005.4 L1460.4 1006.0 H1307 L1306 1005.2 L1305 1003.5 Z" fill="#A000FF"/>
<text transform="translate(1476.00 1025.10) scale(1 1.025)" font-size="66.5" fill="#000" text-anchor="start" xml:space="preserve" style="white-space:pre">90</text>
</g>
<g id="inset">
<path d="M1267 85 V419" fill="none" stroke="#0000FF" stroke-width="2" stroke-dasharray="8.7 8.42" shape-rendering="crispEdges"/>
<path d="M1269 422 H2001" fill="none" stroke="#0000FF" stroke-width="2" stroke-dasharray="8.8 8.33" shape-rendering="crispEdges"/>
<text transform="translate(1288.30 160.70) scale(1 1.040)" font-size="67" fill="#0000FF" text-anchor="start">TC</text>
<g stroke="#000" stroke-width="2" stroke-linecap="round" fill="none">
<line x1="1365.5" y1="184.3" x2="1437.0" y2="225.2"/>
<line x1="1437.0" y1="225.2" x2="1437.0" y2="308.5"/>
<line x1="1437.0" y1="308.5" x2="1365.5" y2="348.0"/>
<line x1="1365.5" y1="348.0" x2="1294.0" y2="308.5"/>
<line x1="1294.0" y1="308.5" x2="1294.0" y2="225.2"/>
<line x1="1294.0" y1="225.2" x2="1365.5" y2="184.3"/>
<line x1="1508.5" y1="184.3" x2="1580.0" y2="225.2"/>
<line x1="1580.0" y1="225.2" x2="1580.0" y2="308.5"/>
<line x1="1580.0" y1="308.5" x2="1508.5" y2="348.0"/>
<line x1="1508.5" y1="348.0" x2="1437.0" y2="308.5"/>
<line x1="1437.0" y1="225.2" x2="1508.5" y2="184.3"/>
<line x1="1651.5" y1="184.3" x2="1723.0" y2="225.2"/>
<line x1="1723.0" y1="225.2" x2="1723.0" y2="308.5"/>
<line x1="1723.0" y1="308.5" x2="1651.5" y2="348.0"/>
<line x1="1651.5" y1="348.0" x2="1580.0" y2="308.5"/>
<line x1="1580.0" y1="225.2" x2="1651.5" y2="184.3"/>
<line x1="1794.5" y1="184.3" x2="1866.0" y2="225.2"/>
<line x1="1866.0" y1="225.2" x2="1866.0" y2="308.5"/>
<line x1="1866.0" y1="308.5" x2="1794.5" y2="348.0"/>
<line x1="1794.5" y1="348.0" x2="1723.0" y2="308.5"/>
<line x1="1723.0" y1="225.2" x2="1794.5" y2="184.3"/>
<line x1="1365.7" y1="196.0" x2="1427.7" y2="231.4"/>
<line x1="1426.9" y1="302.6" x2="1365.0" y2="336.8"/>
<line x1="1304.0" y1="302.5" x2="1304.0" y2="230.2"/>
<line x1="1580.2" y1="319.5" x2="1642.5" y2="353.9"/>
<line x1="1856.0" y1="231.2" x2="1856.0" y2="303.5"/>
<line x1="1365.5" y1="348.0" x2="1365.0" y2="390.5"/>
<line x1="1366.0" y1="348.0" x2="1366.0" y2="390.5"/>
<line x1="1505.3" y1="348.0" x2="1505.3" y2="387.5"/>
<line x1="1511.7" y1="348.0" x2="1511.7" y2="387.5"/>
<line x1="1651.5" y1="348.0" x2="1651.5" y2="391.0"/>
<line x1="1723.0" y1="308.5" x2="1723.0" y2="352.5"/>
<line x1="1791.3" y1="348.0" x2="1791.3" y2="389.5"/>
<line x1="1797.7" y1="348.0" x2="1797.7" y2="389.5"/>
<line x1="1794.5" y1="184.3" x2="1794.5" y2="158.5"/>
<line x1="1780.8" y1="137.9" x2="1749.1" y2="125.0"/>
<line x1="1806.1" y1="135.7" x2="1834.7" y2="115.3"/>
<line x1="1866.0" y1="225.2" x2="1896.7" y2="206.3"/>
<line x1="1866.0" y1="308.5" x2="1901.0" y2="326.0"/>
<line x1="1901.0" y1="326.0" x2="1937.0" y2="301.4"/>
<line x1="1898.0" y1="326.0" x2="1898.0" y2="368.5"/>
<line x1="1904.4" y1="326.0" x2="1904.4" y2="368.5"/>
<line x1="1512.3" y1="175.4" x2="1515.8" y2="178.9" stroke-linecap="butt"/>
<line x1="1515.4" y1="169.4" x2="1522.9" y2="173.7" stroke-linecap="butt"/>
<line x1="1518.4" y1="161.6" x2="1528.4" y2="168.5" stroke-linecap="butt"/>
<line x1="1523.2" y1="153.6" x2="1534.9" y2="162.6" stroke-linecap="butt"/>
<line x1="1526.5" y1="147.3" x2="1540.8" y2="158.5" stroke-linecap="butt"/>
</g>
<polygon points="1507.8,185.2 1468.1,156.8 1479.8,146.4 1509.2,183.8" fill="#000"/>
<text class="lab" transform="translate(1431.5 151.0) scale(1 1.02)" fill="#000">HO</text>
<text class="lab" transform="translate(1533.5 149.0) scale(1 1.02)" fill="#000">CH<tspan class="sub" dy="6">3</tspan></text>
<text class="lab" transform="translate(1694.5 131.0) scale(1 1.02)" fill="#000">H<tspan class="sub" dy="6">3</tspan><tspan dy="-6">C</tspan></text>
<text class="lab" transform="translate(1784.5 154.0) scale(1 1.02)" fill="#000">N</text>
<text class="lab" transform="translate(1836.5 116.5) scale(1 1.02)" fill="#000">CH<tspan class="sub" dy="6">3</tspan></text>
<text class="lab" transform="translate(1899.5 207.0) scale(1 1.02)" fill="#000">OH</text>
<text class="lab" transform="translate(1940.5 301.5) scale(1 1.02)" fill="#000">NH<tspan class="sub" dy="6">2</tspan></text>
<text class="lab" transform="translate(1891.0 392.0) scale(1 1.02)" fill="#000">O</text>
<text class="lab" transform="translate(1783.0 412.5) scale(1 1.02)" fill="#000">O</text>
<text class="lab" transform="translate(1711.5 375.5) scale(1 1.02)" fill="#000">OH</text>
<text class="lab" transform="translate(1640.5 414.5) scale(1 1.02)" fill="#000">OH</text>
<text class="lab" transform="translate(1497.5 410.5) scale(1 1.02)" fill="#000">O</text>
<text class="lab" transform="translate(1354.0 414.5) scale(1 1.02)" fill="#000">OH</text>
</g>
</svg></body></html>
